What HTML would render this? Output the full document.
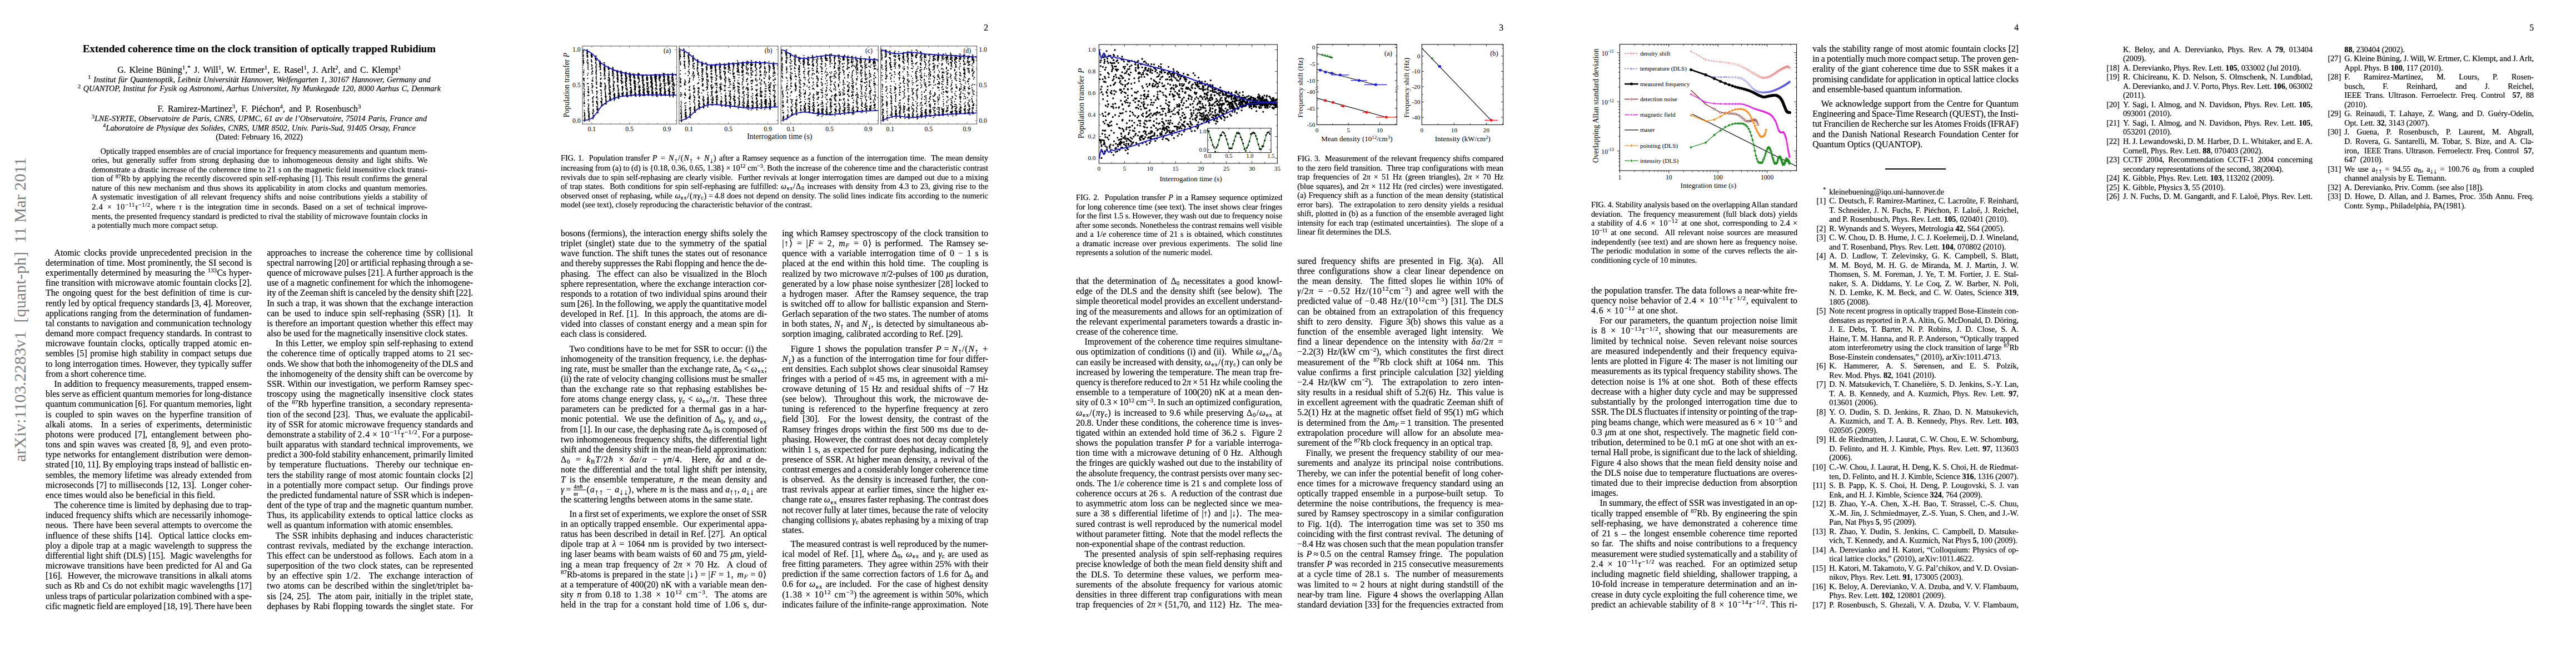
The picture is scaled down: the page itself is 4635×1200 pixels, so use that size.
<!DOCTYPE html>
<html><head><meta charset="utf-8"><title>arXiv 1103.2283</title>
<style>
html,body{margin:0;padding:0;background:#fff}
body{width:4635px;height:1200px;position:relative;overflow:hidden;font-family:"Liberation Serif",serif;color:#000}
.b{position:absolute}
.b,.t{filter:grayscale(1);-webkit-text-stroke:0.18px #000}
.b p{margin:0;white-space:nowrap;height:var(--h)}
.j{text-align:justify;text-align-last:justify}
.e{text-align:left}
.i{text-indent:15.5px}
.rf p{position:relative}
.lb{position:absolute;right:100%;margin-right:6.2px;text-indent:0;word-spacing:0}
.t{position:absolute;white-space:nowrap}
sup,sub{font-size:70%;line-height:0;position:relative;vertical-align:baseline}
sup{top:-0.52em}
sub{top:0.2em}
sup.r{top:-0.5em;font-size:74%}
.wm{position:absolute;font-size:30.3px;line-height:30px;color:#7f7f7f;white-space:nowrap;transform-origin:0 0;transform:rotate(-90deg) translate(0,-100%)}
.fr{display:inline-block;position:relative;height:0;vertical-align:baseline;margin:0 1.5px}
.fr span{position:absolute;left:0;right:0;text-align:center;font-size:70%;line-height:1}
.fr .n{bottom:0.38em;border-bottom:0.8px solid #000;padding-bottom:0.5px}
.fr .d{top:-0.32em}
.m{letter-spacing:0.9px}
.nb{position:relative}
.nb:before{content:"";position:absolute;left:18%;right:2%;top:0.36em;border-top:0.8px solid #000}
sub.a{font-size:92%;top:0.28em;margin:0 -0.5px}
svg{position:absolute;overflow:visible}
svg text{font-family:"Liberation Serif",serif}
</style></head>
<body>
<div class="wm" style="left:51.3px;top:830.5px;">arXiv:1103.2283v1&nbsp; [quant-ph]&nbsp; 11 Mar 2011</div>
<div class="t " style="left:66.50px;width:800px;text-align:center;top:76.83px;font-size:18.85px;line-height:22.62px;"><b>Extended coherence time on the clock transition of optically trapped Rubidium</b></div>
<div class="t " style="left:66.50px;width:800px;text-align:center;top:116.69px;font-size:15.80px;line-height:18.96px;word-spacing:2.35px">G. Kleine B&uuml;ning<sup>1</sup>,<sup>*</sup> J. Will<sup>1</sup>, W. Ertmer<sup>1</sup>, E. Rasel<sup>1</sup>, J. Arlt<sup>2</sup>, and C. Klempt<sup>1</sup></div>
<div class="t " style="left:66.50px;width:800px;text-align:center;top:134.69px;font-size:14.20px;line-height:17.04px;word-spacing:1.05px"><sup class="r">1</sup> <i>Institut f&uuml;r Quantenoptik, Leibniz Universit&auml;t Hannover, Welfengarten 1, 30167 Hannover, Germany and</i></div>
<div class="t " style="left:66.50px;width:800px;text-align:center;top:151.19px;font-size:14.20px;line-height:17.04px;word-spacing:1.05px"><sup class="r">2</sup> <i>QUANTOP, Institut for Fysik og Astronomi, Aarhus Universitet, Ny Munkegade 120, 8000 Aarhus C, Denmark</i></div>
<div class="t " style="left:66.50px;width:800px;text-align:center;top:187.19px;font-size:15.80px;line-height:18.96px;word-spacing:3.0px">F. Ramirez-Martinez<sup>3</sup>, F. Pi&eacute;chon<sup>4</sup>, and P. Rosenbusch<sup>3</sup></div>
<div class="t " style="left:66.50px;width:800px;text-align:center;top:205.19px;font-size:14.20px;line-height:17.04px;word-spacing:1.05px"><sup class="r">3</sup><i>LNE-SYRTE, Observatoire de Paris, CNRS, UPMC, 61 av de l&rsquo;Observatoire, 75014 Paris, France and</i></div>
<div class="t " style="left:66.50px;width:800px;text-align:center;top:221.69px;font-size:14.20px;line-height:17.04px;word-spacing:1.05px"><sup class="r">4</sup><i>Laboratoire de Physique des Solides, CNRS, UMR 8502, Univ. Paris-Sud, 91405 Orsay, France</i></div>
<div class="t " style="left:66.50px;width:800px;text-align:center;top:238.19px;font-size:14.20px;line-height:17.04px;word-spacing:0.45px">(Dated: February 16, 2022)</div>
<div class="b ab" style="left:165.30px;top:263.86px;width:603.70px;font-size:14.20px;line-height:16.50px;--h:16.50px">
<p class="j i" id="L1">Optically trapped ensembles are of crucial importance for frequency measurements and quantum mem-</p>
<p class="j" id="L2">ories, but generally suffer from strong dephasing due to inhomogeneous density and light shifts. We</p>
<p class="j" id="L3">demonstrate a drastic increase of the coherence time to <span class="m">21</span> s on the magnetic field insensitive clock transi-</p>
<p class="j" id="L4">tion of <sup>87</sup>Rb by applying the recently discovered spin self-rephasing [1]. This result confirms the general</p>
<p class="j" id="L5">nature of this new mechanism and thus shows its applicability in atom clocks and quantum memories.</p>
<p class="j" id="L6">A systematic investigation of all relevant frequency shifts and noise contributions yields a stability of</p>
<p class="j" id="L7" style="margin-top:1.20px"><span class="m">2.4 &times; 10<sup>&minus;11</sup><i>&tau;</i><sup>&minus;1/2</sup></span>, where <i>&tau;</i> is the integration time in seconds. Based on a set of technical improve-</p>
<p class="j" id="L8">ments, the presented frequency standard is predicted to rival the stability of microwave fountain clocks in</p>
<p class="e" id="L9">a potentially much more compact setup.</p>
</div>
<div class="b " style="left:82.00px;top:445.78px;width:371.00px;font-size:15.80px;line-height:18.18px;--h:18.18px">
<p class="j i" id="L10">Atomic clocks provide unprecedented precision in the</p>
<p class="j" id="L11">determination of time. Most prominently, the SI second is</p>
<p class="j" id="L12">experimentally determined by measuring the <sup>133</sup>Cs hyper-</p>
<p class="j" id="L13">fine transition with microwave atomic fountain clocks [2].</p>
<p class="j" id="L14">The ongoing quest for the best definition of time is cur-</p>
<p class="j" id="L15">rently led by optical frequency standards [3, 4]. Moreover,</p>
<p class="j" id="L16">applications ranging from the determination of fundamen-</p>
<p class="j" id="L17">tal constants to navigation and communication technology</p>
<p class="j" id="L18">demand more compact frequency standards. In contrast to</p>
<p class="j" id="L19">microwave fountain clocks, optically trapped atomic en-</p>
<p class="j" id="L20">sembles [5] promise high stability in compact setups due</p>
<p class="j" id="L21">to long interrogation times. However, they typically suffer</p>
<p class="e" id="L22">from a short coherence time.</p>
<p class="j i" id="L23">In addition to frequency measurements, trapped ensem-</p>
<p class="j" id="L24" style="word-spacing:-0.37px">bles serve as efficient quantum memories for long-distance</p>
<p class="j" id="L25" style="word-spacing:-0.27px">quantum communication [6]. For quantum memories, light</p>
<p class="j" id="L26">is coupled to spin waves on the hyperfine transition of</p>
<p class="j" id="L27">alkali atoms.&nbsp; In a series of experiments, deterministic</p>
<p class="j" id="L28">photons were produced [7], entanglement between pho-</p>
<p class="j" id="L29">tons and spin waves was created [8, 9], and even proto-</p>
<p class="j" id="L30">type networks for entanglement distribution were demon-</p>
<p class="j" id="L31" style="word-spacing:-0.16px">strated [10, 11]. By employing traps instead of ballistic en-</p>
<p class="j" id="L32">sembles, the memory lifetime was already extended from</p>
<p class="j" id="L33">microseconds [7] to milliseconds [12, 13].&nbsp; Longer coher-</p>
<p class="e" id="L34">ence times would also be beneficial in this field.</p>
<p class="j i" id="L35">The coherence time is limited by dephasing due to trap-</p>
<p class="j" id="L36">induced frequency shifts which are necessarily inhomoge-</p>
<p class="j" id="L37">neous.&nbsp; There have been several attempts to overcome the</p>
<p class="j" id="L38">influence of these shifts [14].&nbsp; Optical lattice clocks em-</p>
<p class="j" id="L39">ploy a dipole trap at a magic wavelength to suppress the</p>
<p class="j" id="L40">differential light shift (DLS) [15].&nbsp; Magic wavelengths for</p>
<p class="j" id="L41">microwave transitions have been predicted for Al and Ga</p>
<p class="j" id="L42">[16].&nbsp; However, the microwave transitions in alkali atoms</p>
<p class="j" id="L43">such as Rb and Cs do not exhibit magic wavelengths [17]</p>
<p class="j" id="L44" style="word-spacing:-0.53px">unless traps of particular polarization combined with a spe-</p>
<p class="j" id="L45" style="word-spacing:-0.87px">cific magnetic field are employed [18, 19]. There have been</p>
</div>
<div class="b " style="left:480.30px;top:445.78px;width:370.80px;font-size:15.80px;line-height:18.18px;--h:18.18px">
<p class="j" id="L46">approaches to increase the coherence time by collisional</p>
<p class="j" id="L47" style="word-spacing:-0.53px">spectral narrowing [20] or artificial rephasing through a se-</p>
<p class="j" id="L48" style="word-spacing:-0.37px">quence of microwave pulses [21]. A further approach is the</p>
<p class="j" id="L49">use of a magnetic confinement for which the inhomogene-</p>
<p class="j" id="L50" style="word-spacing:-0.54px">ity of the Zeeman shift is canceled by the density shift [22].</p>
<p class="j" id="L51">In such a trap, it was shown that the exchange interaction</p>
<p class="j" id="L52">can be used to induce spin self-rephasing (SSR) [1].&nbsp; It</p>
<p class="j" id="L53">is therefore an important question whether this effect may</p>
<p class="e" id="L54">also be used for the magnetically insensitive clock states.</p>
<p class="j i" id="L55">In this Letter, we employ spin self-rephasing to extend</p>
<p class="j" id="L56">the coherence time of optically trapped atoms to 21 sec-</p>
<p class="j" id="L57" style="word-spacing:-0.76px">onds. We show that both the inhomogeneity of the DLS and</p>
<p class="j" id="L58">the inhomogeneity of the density shift can be overcome by</p>
<p class="j" id="L59">SSR. Within our investigation, we perform Ramsey spec-</p>
<p class="j" id="L60">troscopy using the magnetically insensitive clock states</p>
<p class="j" id="L61">of the <sup>87</sup>Rb hyperfine transition, a secondary representa-</p>
<p class="j" id="L62">tion of the second [23].&nbsp; Thus, we evaluate the applicabil-</p>
<p class="j" id="L63">ity of SSR for atomic microwave frequency standards and</p>
<p class="j" id="L64" style="word-spacing:-0.26px">demonstrate a stability of <span class="m">2.4&thinsp;&times;&thinsp;10<sup>&minus;11</sup><i>&tau;</i><sup>&minus;1/2</sup></span>. For a purpose-</p>
<p class="j" id="L65">built apparatus with standard technical improvements, we</p>
<p class="j" id="L66">predict a 300-fold stability enhancement, primarily limited</p>
<p class="j" id="L67">by temperature fluctuations.&nbsp; Thereby our technique en-</p>
<p class="j" id="L68">ters the stability range of most atomic fountain clocks [2]</p>
<p class="j" id="L69">in a potentially more compact setup.&nbsp; Our findings prove</p>
<p class="j" id="L70" style="word-spacing:-0.42px">the predicted fundamental nature of SSR which is indepen-</p>
<p class="j" id="L71">dent of the type of trap and the magnetic quantum number.</p>
<p class="j" id="L72">Thus, its applicability extends to optical lattice clocks as</p>
<p class="e" id="L73">well as quantum information with atomic ensembles.</p>
<p class="j i" id="L74">The SSR inhibits dephasing and induces characteristic</p>
<p class="j" id="L75">contrast revivals, mediated by the exchange interaction.</p>
<p class="j" id="L76">This effect can be understood as follows.&nbsp; Each atom in a</p>
<p class="j" id="L77">superposition of the two clock states, can be represented</p>
<p class="j" id="L78">by an effective spin <span class="m">1/2</span>.&nbsp; The exchange interaction of</p>
<p class="j" id="L79">two atoms can be described within the singlet/triplet ba-</p>
<p class="j" id="L80">sis [24, 25].&nbsp; The atom pair, initially in the triplet state,</p>
<p class="j" id="L81">dephases by Rabi flopping towards the singlet state.&nbsp; For</p>
</div>
<div class="t " style="left:1378.20px;width:400px;text-align:right;top:40.59px;font-size:15.80px;line-height:18.96px;">2</div>
<svg style="left:927px;top:0" width="927" height="260">
<path d="M123.9,173.8h.01M125.1,211.9h.01M124.7,186.0h.01M122.3,102.2h.01M123.1,109.9h.01M125.7,212.4h.01M122.1,89.9h.01M124.9,205.6h.01M123.9,208.8h.01M123.9,145.4h.01M123.3,129.9h.01M122.6,113.2h.01M122.4,116.8h.01M123.6,125.9h.01M123.3,158.5h.01M124.1,141.4h.01M125.0,207.4h.01M124.3,202.0h.01M124.1,164.6h.01M124.8,217.0h.01M122.5,129.7h.01M122.5,90.0h.01M123.5,168.1h.01M122.2,92.0h.01M121.6,96.4h.01M123.9,152.4h.01M123.5,143.7h.01M125.0,213.9h.01M123.9,183.4h.01M122.9,141.1h.01M123.3,151.0h.01M122.3,107.9h.01M122.4,92.8h.01M122.8,105.1h.01M123.7,176.6h.01M122.8,111.4h.01M123.2,129.2h.01M121.5,94.3h.01M125.0,204.0h.01M122.6,98.7h.01M122.5,98.7h.01M124.9,204.3h.01M123.7,158.7h.01M124.5,190.8h.01M124.2,190.8h.01M124.5,180.2h.01M121.7,99.7h.01M123.4,149.9h.01M123.7,169.3h.01M125.4,215.3h.01M123.2,110.3h.01M123.6,186.9h.01M122.2,100.9h.01M123.2,130.6h.01M123.2,112.0h.01M122.7,99.1h.01M124.4,198.5h.01M123.1,142.5h.01M125.2,215.7h.01M123.6,170.6h.01M124.8,161.3h.01M124.5,171.5h.01M123.5,168.0h.01M122.4,107.6h.01M123.1,140.7h.01M123.1,114.2h.01M123.2,134.4h.01M122.0,94.7h.01M125.4,214.3h.01M122.7,99.6h.01M124.3,184.7h.01M122.7,112.7h.01M125.0,206.5h.01M124.4,165.5h.01M121.7,91.2h.01M124.9,217.8h.01M125.2,208.6h.01M124.9,206.0h.01M124.2,169.2h.01M121.7,109.3h.01M122.3,91.2h.01M124.9,208.8h.01M124.0,155.0h.01M122.2,89.7h.01M131.1,131.7h.01M131.9,166.9h.01M131.1,195.8h.01M130.2,100.8h.01M129.2,95.3h.01M130.8,117.9h.01M132.2,208.1h.01M132.8,204.4h.01M132.4,195.4h.01M130.5,93.6h.01M132.9,213.1h.01M132.2,208.9h.01M132.5,209.8h.01M131.6,161.3h.01M133.5,205.1h.01M129.6,92.8h.01M129.2,94.8h.01M129.5,99.2h.01M130.4,94.5h.01M130.3,107.5h.01M129.7,102.0h.01M130.4,141.2h.01M129.2,100.7h.01M132.0,191.0h.01M130.0,94.2h.01M131.0,199.3h.01M129.4,91.0h.01M129.7,91.2h.01M133.7,217.6h.01M131.4,160.6h.01M131.9,208.2h.01M132.2,165.0h.01M131.3,171.3h.01M130.3,102.7h.01M131.5,186.9h.01M129.0,96.0h.01M132.7,204.2h.01M132.4,210.4h.01M133.1,201.3h.01M129.5,89.3h.01M130.2,102.4h.01M129.8,150.7h.01M130.4,109.4h.01M132.3,189.2h.01M131.8,214.4h.01M131.2,120.4h.01M132.7,207.9h.01M132.3,201.1h.01M129.8,92.8h.01M132.1,197.6h.01M133.3,210.6h.01M130.1,108.4h.01M130.7,165.0h.01M132.6,171.5h.01M132.0,161.8h.01M129.2,111.7h.01M131.7,193.4h.01M131.3,181.4h.01M132.5,200.8h.01M132.5,188.9h.01M130.7,122.5h.01M131.8,202.5h.01M132.3,205.8h.01M133.1,208.5h.01M129.9,98.9h.01M130.4,92.8h.01M131.5,156.0h.01M130.5,103.2h.01M131.5,150.2h.01M132.6,211.3h.01M131.3,115.4h.01M130.3,114.1h.01M130.7,172.2h.01M131.7,179.1h.01M130.1,96.6h.01M130.2,135.0h.01M130.4,101.0h.01M132.1,167.3h.01M132.4,209.5h.01M131.3,166.0h.01M131.5,125.2h.01M131.6,158.3h.01M130.2,100.2h.01M131.0,113.0h.01M138.8,121.9h.01M137.7,150.5h.01M139.6,175.8h.01M138.6,151.1h.01M137.0,101.0h.01M140.1,207.9h.01M140.7,207.7h.01M140.5,199.6h.01M137.9,130.0h.01M139.0,142.4h.01M137.6,100.5h.01M137.4,102.9h.01M137.2,100.1h.01M138.7,157.0h.01M137.4,98.0h.01M137.9,97.9h.01M140.2,199.9h.01M139.4,132.6h.01M137.3,96.7h.01M139.6,183.9h.01M137.4,133.3h.01M138.9,128.4h.01M137.7,119.2h.01M139.5,145.0h.01M139.7,155.4h.01M139.2,176.1h.01M139.2,127.3h.01M140.6,211.5h.01M140.6,196.3h.01M137.3,109.5h.01M136.9,101.1h.01M137.4,99.7h.01M140.5,210.8h.01M140.3,204.2h.01M137.7,124.3h.01M139.9,211.4h.01M138.4,101.1h.01M138.4,154.2h.01M138.6,158.2h.01M140.7,209.0h.01M136.4,98.5h.01M138.5,122.9h.01M139.6,139.3h.01M137.1,107.3h.01M137.4,101.3h.01M138.5,118.0h.01M139.5,204.6h.01M140.4,207.7h.01M140.1,181.5h.01M139.5,178.4h.01M139.3,176.6h.01M140.4,188.2h.01M140.2,191.2h.01M139.2,182.7h.01M137.9,110.8h.01M136.8,109.9h.01M140.1,184.6h.01M137.6,111.5h.01M141.4,200.1h.01M139.2,146.0h.01M138.0,103.3h.01M140.2,202.8h.01M137.9,100.0h.01M138.2,162.5h.01M137.6,95.9h.01M140.7,208.3h.01M138.9,167.1h.01M139.6,213.6h.01M138.5,101.9h.01M140.8,174.0h.01M139.4,167.3h.01M139.6,154.1h.01M141.3,210.1h.01M138.3,158.2h.01M138.4,123.5h.01M139.1,164.2h.01M140.1,197.9h.01M138.2,150.9h.01M139.3,128.5h.01M137.4,116.0h.01M138.4,145.1h.01M139.3,203.6h.01M136.8,100.5h.01M140.0,188.6h.01M144.6,104.8h.01M147.0,163.8h.01M148.0,186.0h.01M146.5,152.1h.01M144.5,107.4h.01M146.9,181.8h.01M145.8,134.2h.01M147.2,163.8h.01M145.7,133.6h.01M147.1,182.3h.01M145.6,130.0h.01M146.9,169.4h.01M146.2,164.7h.01M147.4,164.9h.01M145.5,119.7h.01M147.8,193.9h.01M146.1,108.9h.01M146.1,137.2h.01M145.0,120.9h.01M145.7,105.9h.01M145.7,117.7h.01M147.1,184.6h.01M147.2,173.3h.01M145.7,106.5h.01M145.4,107.9h.01M145.8,121.8h.01M148.1,195.1h.01M146.6,158.9h.01M148.7,196.2h.01M148.3,178.4h.01M147.0,182.4h.01M146.4,145.7h.01M147.3,185.8h.01M145.4,140.7h.01M145.6,128.4h.01M146.3,175.5h.01M145.9,175.0h.01M144.6,112.4h.01M146.2,150.3h.01M146.9,185.9h.01M144.0,104.4h.01M145.5,108.6h.01M145.3,121.2h.01M145.7,157.1h.01M148.4,203.0h.01M144.2,105.8h.01M145.3,114.4h.01M145.7,126.2h.01M146.9,148.9h.01M144.8,113.3h.01M146.2,127.3h.01M144.8,111.6h.01M146.2,116.5h.01M147.8,195.4h.01M145.1,129.8h.01M146.0,142.7h.01M145.8,124.5h.01M145.3,147.7h.01M148.2,188.7h.01M145.3,101.1h.01M147.8,197.0h.01M147.9,198.2h.01M148.3,187.4h.01M145.3,100.4h.01M146.5,192.1h.01M146.8,168.3h.01M147.0,197.0h.01M144.6,106.4h.01M148.3,195.4h.01M149.0,201.8h.01M145.7,101.2h.01M145.8,139.5h.01M144.5,105.4h.01M147.8,183.3h.01M148.5,197.7h.01M147.7,195.4h.01M146.1,183.0h.01M148.0,165.8h.01M147.3,176.0h.01M147.5,185.8h.01M148.3,191.2h.01M147.6,194.2h.01M145.6,131.8h.01M146.8,157.7h.01M154.3,135.9h.01M155.6,179.6h.01M152.3,113.2h.01M153.6,121.6h.01M155.0,184.3h.01M153.4,130.5h.01M154.2,142.2h.01M156.5,178.7h.01M153.8,131.9h.01M151.8,114.1h.01M154.1,149.5h.01M153.1,121.9h.01M152.3,113.9h.01M153.3,155.1h.01M156.3,187.9h.01M154.8,167.5h.01M154.9,171.5h.01M152.7,154.6h.01M153.7,150.7h.01M155.5,181.8h.01M154.8,154.9h.01M155.5,188.9h.01M154.2,132.1h.01M153.1,111.5h.01M154.2,154.1h.01M154.0,162.2h.01M152.5,125.6h.01M154.7,184.4h.01M155.1,163.6h.01M153.2,121.0h.01M154.6,155.0h.01M154.7,166.7h.01M154.6,151.4h.01M152.7,116.7h.01M153.8,114.9h.01M154.8,150.0h.01M155.4,150.6h.01M153.4,147.8h.01M153.1,115.9h.01M155.9,183.6h.01M156.4,187.4h.01M151.6,111.1h.01M152.9,114.2h.01M152.8,110.6h.01M155.3,175.8h.01M156.3,179.1h.01M152.1,113.0h.01M154.0,124.7h.01M153.2,115.6h.01M153.4,162.0h.01M155.3,186.1h.01M152.3,117.0h.01M152.9,116.8h.01M154.5,161.9h.01M154.1,156.0h.01M155.5,190.3h.01M153.2,151.3h.01M151.4,119.8h.01M153.4,141.6h.01M156.2,183.7h.01M154.9,176.8h.01M152.2,111.6h.01M155.5,182.4h.01M154.3,113.8h.01M155.2,190.2h.01M151.9,114.7h.01M155.2,176.1h.01M153.7,113.1h.01M153.9,142.8h.01M155.0,168.3h.01M154.7,140.6h.01M153.3,118.1h.01M152.3,109.6h.01M153.7,135.1h.01M152.8,113.0h.01M153.3,122.1h.01M153.2,124.4h.01M153.7,182.6h.01M153.5,124.4h.01M154.2,156.2h.01M153.6,118.6h.01M152.1,115.6h.01M153.7,118.2h.01M154.6,172.1h.01M160.8,116.1h.01M160.5,133.0h.01M163.6,180.7h.01M161.0,132.8h.01M162.1,163.9h.01M163.5,179.9h.01M162.5,187.1h.01M160.5,119.3h.01M161.6,150.8h.01M162.0,173.7h.01M162.2,154.1h.01M161.6,151.8h.01M160.7,126.4h.01M160.1,122.1h.01M160.5,128.2h.01M162.7,156.0h.01M160.7,122.9h.01M160.9,119.5h.01M160.6,149.7h.01M160.7,122.5h.01M160.5,115.6h.01M163.8,187.2h.01M161.9,156.6h.01M160.7,123.5h.01M162.3,174.0h.01M160.4,115.8h.01M161.4,124.0h.01M163.1,179.1h.01M163.7,185.8h.01M162.4,166.1h.01M160.6,112.9h.01M161.2,131.4h.01M160.5,119.9h.01M161.2,125.0h.01M160.4,124.7h.01M159.7,134.5h.01M162.6,173.2h.01M160.3,142.2h.01M159.9,117.2h.01M163.6,182.7h.01M160.5,130.3h.01M161.5,161.5h.01M160.9,132.9h.01M162.7,154.2h.01M162.9,154.2h.01M162.2,167.0h.01M162.5,171.5h.01M159.6,123.8h.01M161.1,128.1h.01M162.1,166.4h.01M163.8,182.2h.01M163.0,180.8h.01M162.8,176.2h.01M162.0,127.6h.01M160.2,121.9h.01M163.9,173.9h.01M160.2,127.0h.01M160.8,119.8h.01M162.6,159.5h.01M163.2,179.6h.01M162.6,168.4h.01M161.9,136.2h.01M161.1,121.6h.01M160.0,117.6h.01M163.5,182.3h.01M163.8,182.6h.01M160.3,126.0h.01M163.3,182.2h.01M162.0,141.7h.01M160.8,130.9h.01M161.0,161.1h.01M160.0,120.9h.01M161.3,139.6h.01M161.5,122.4h.01M162.6,170.1h.01M161.8,156.0h.01M162.9,175.5h.01M163.4,182.5h.01M160.8,133.4h.01M160.5,136.9h.01M163.4,178.2h.01M161.4,158.3h.01M160.8,121.5h.01M159.5,112.9h.01M169.2,124.4h.01M170.7,178.7h.01M167.8,123.4h.01M171.0,168.5h.01M167.8,139.9h.01M171.6,166.7h.01M168.4,136.4h.01M169.5,162.3h.01M171.9,181.2h.01M169.1,157.2h.01M167.3,143.8h.01M168.6,149.8h.01M171.4,170.3h.01M167.4,121.2h.01M168.6,168.2h.01M170.7,175.1h.01M167.6,122.9h.01M168.8,122.8h.01M168.1,125.4h.01M167.9,122.4h.01M169.8,141.9h.01M170.6,168.8h.01M168.5,132.0h.01M168.1,123.3h.01M170.4,164.2h.01M170.3,173.2h.01M169.5,145.2h.01M167.8,123.7h.01M168.8,169.5h.01M169.0,168.4h.01M168.8,151.8h.01M170.9,179.0h.01M169.5,142.2h.01M169.2,151.6h.01M167.9,122.6h.01M169.9,168.0h.01M170.8,165.3h.01M170.2,180.1h.01M168.5,132.7h.01M172.1,178.4h.01M170.1,165.6h.01M168.9,135.6h.01M168.4,147.8h.01M170.7,165.3h.01M168.1,139.0h.01M170.8,155.2h.01M170.1,143.3h.01M169.8,141.9h.01M171.2,157.1h.01M170.0,146.7h.01M168.7,159.1h.01M169.3,140.7h.01M171.0,169.9h.01M168.7,129.2h.01M170.0,178.3h.01M168.9,148.0h.01M170.9,179.8h.01M170.1,174.1h.01M167.8,144.8h.01M171.3,174.7h.01M169.4,161.4h.01M167.8,123.6h.01M170.4,160.9h.01M167.9,120.8h.01M169.4,142.8h.01M169.0,129.5h.01M168.6,129.1h.01M168.6,135.4h.01M169.6,163.1h.01M170.5,176.1h.01M171.4,175.9h.01M169.0,133.7h.01M169.4,156.3h.01M167.5,120.0h.01M169.0,153.9h.01M171.0,176.0h.01M167.9,124.7h.01M170.5,163.3h.01M169.7,153.9h.01M168.6,139.2h.01M170.0,172.9h.01M168.8,122.8h.01M170.8,177.4h.01M167.4,122.9h.01M177.0,152.6h.01M176.2,131.7h.01M178.6,177.5h.01M175.5,135.7h.01M175.8,130.8h.01M175.1,129.5h.01M178.5,175.5h.01M176.7,133.7h.01M178.6,169.9h.01M179.0,171.8h.01M178.9,176.4h.01M176.0,129.7h.01M175.2,125.8h.01M177.8,137.9h.01M179.2,169.0h.01M178.5,175.1h.01M175.2,132.1h.01M178.1,159.5h.01M179.6,178.4h.01M179.0,173.6h.01M178.3,177.1h.01M179.0,169.9h.01M178.6,175.3h.01M177.2,138.6h.01M175.6,123.3h.01M178.1,174.3h.01M175.4,131.7h.01M177.8,159.0h.01M179.1,175.7h.01M177.3,147.3h.01M177.7,147.1h.01M178.5,177.9h.01M176.2,142.0h.01M178.6,171.0h.01M178.6,177.7h.01M176.4,154.8h.01M176.6,159.5h.01M175.6,127.7h.01M178.4,167.7h.01M175.7,120.8h.01M175.1,128.6h.01M178.3,173.8h.01M177.8,149.1h.01M178.0,174.3h.01M178.0,170.3h.01M174.8,136.2h.01M175.7,132.3h.01M176.5,151.2h.01M175.4,123.4h.01M177.1,154.2h.01M177.7,169.7h.01M177.3,160.1h.01M177.2,161.5h.01M176.2,135.5h.01M175.9,126.2h.01M178.5,177.9h.01M176.0,122.7h.01M177.4,156.6h.01M175.8,128.6h.01M178.2,180.7h.01M175.3,134.9h.01M178.1,126.8h.01M177.2,170.8h.01M177.8,163.0h.01M178.8,176.2h.01M178.4,172.0h.01M175.9,126.3h.01M175.5,123.2h.01M177.8,169.7h.01M179.1,171.3h.01M175.3,127.2h.01M177.9,171.9h.01M175.4,123.5h.01M175.8,165.1h.01M177.6,176.5h.01M176.8,159.9h.01M178.7,176.9h.01M178.5,147.3h.01M176.5,152.0h.01M178.1,178.3h.01M176.8,155.3h.01M177.0,161.8h.01M176.5,145.4h.01M176.8,139.8h.01M187.1,169.7h.01M184.0,134.9h.01M185.2,171.6h.01M183.2,127.7h.01M185.2,142.1h.01M183.9,136.2h.01M184.2,153.1h.01M186.2,169.3h.01M186.5,172.5h.01M183.0,130.1h.01M184.2,146.6h.01M185.2,167.4h.01M186.4,171.0h.01M185.2,164.0h.01M186.3,176.9h.01M186.5,172.6h.01M185.6,163.9h.01M185.0,157.2h.01M183.4,128.8h.01M184.3,140.8h.01M185.4,143.4h.01M186.6,174.4h.01M184.4,127.6h.01M184.8,142.3h.01M182.1,128.3h.01M185.2,147.3h.01M184.4,137.5h.01M185.5,162.5h.01M184.1,143.4h.01M185.6,172.0h.01M185.3,171.8h.01M184.6,144.9h.01M184.0,146.8h.01M184.2,131.9h.01M185.5,174.4h.01M183.9,127.0h.01M183.3,140.9h.01M185.1,173.5h.01M183.8,153.4h.01M186.1,161.0h.01M185.7,173.9h.01M186.0,175.3h.01M186.0,170.7h.01M184.1,141.0h.01M183.7,127.6h.01M186.3,175.9h.01M185.6,166.9h.01M185.5,177.2h.01M185.9,167.0h.01M185.9,167.2h.01M184.3,130.3h.01M186.3,168.7h.01M185.1,136.1h.01M184.5,130.1h.01M184.2,155.2h.01M183.5,128.6h.01M184.8,156.6h.01M184.2,143.2h.01M184.8,139.2h.01M185.3,168.1h.01M185.3,159.4h.01M185.7,160.1h.01M186.2,173.9h.01M183.6,139.6h.01M184.4,146.8h.01M183.3,128.7h.01M184.6,147.9h.01M187.0,172.0h.01M183.3,135.3h.01M185.4,172.1h.01M186.2,177.1h.01M185.0,153.6h.01M186.4,167.2h.01M183.5,133.2h.01M184.3,135.2h.01M183.9,142.1h.01M183.8,129.1h.01M184.1,133.6h.01M184.2,147.3h.01M186.9,172.4h.01M184.2,141.0h.01M183.4,130.2h.01M186.5,168.2h.01M183.8,131.0h.01M194.0,171.9h.01M192.2,150.6h.01M192.6,171.4h.01M192.9,159.7h.01M190.5,130.6h.01M191.0,144.5h.01M190.5,130.8h.01M190.8,129.6h.01M191.1,135.9h.01M192.5,146.7h.01M192.0,130.3h.01M192.4,141.2h.01M194.2,165.6h.01M190.1,129.9h.01M191.0,135.2h.01M194.1,166.9h.01M193.4,155.5h.01M191.5,150.5h.01M190.8,132.6h.01M192.7,162.5h.01M191.1,128.8h.01M193.3,170.8h.01M193.7,172.6h.01M191.3,136.1h.01M189.5,127.8h.01M193.8,171.0h.01M191.6,135.7h.01M193.2,157.4h.01M194.1,171.4h.01M193.5,172.6h.01M193.6,148.0h.01M192.0,140.5h.01M192.9,159.3h.01M192.0,136.2h.01M191.8,131.1h.01M192.5,141.1h.01M192.6,146.5h.01M193.3,158.5h.01M192.8,170.1h.01M191.3,133.4h.01M191.5,131.3h.01M191.4,146.8h.01M191.5,168.5h.01M194.1,171.9h.01M194.3,168.1h.01M193.6,173.4h.01M193.0,155.6h.01M192.7,162.9h.01M190.9,147.8h.01M191.3,137.0h.01M190.5,132.6h.01M193.4,170.4h.01M191.2,133.6h.01M189.6,131.3h.01M192.4,135.3h.01M191.2,134.7h.01M193.1,159.0h.01M189.9,144.9h.01M191.4,134.8h.01M193.2,167.3h.01M193.7,168.8h.01M192.7,158.9h.01M192.9,161.5h.01M190.8,138.2h.01M193.5,168.5h.01M193.2,167.6h.01M193.3,168.3h.01M190.4,136.1h.01M191.3,140.7h.01M191.6,131.5h.01M191.8,141.8h.01M190.9,132.5h.01M192.0,142.1h.01M192.2,130.5h.01M191.6,145.7h.01M191.6,142.0h.01M191.6,135.5h.01M191.1,140.4h.01M192.6,157.2h.01M192.0,155.9h.01M191.0,128.3h.01M193.8,157.6h.01M192.5,157.9h.01M192.4,150.0h.01M199.3,133.3h.01M199.8,151.5h.01M201.4,170.6h.01M199.0,132.5h.01M198.3,153.8h.01M199.7,159.1h.01M200.2,145.1h.01M200.4,161.6h.01M201.5,168.6h.01M199.8,155.5h.01M200.2,138.9h.01M200.3,155.1h.01M200.6,161.4h.01M200.1,141.0h.01M198.7,132.1h.01M199.2,148.2h.01M199.1,140.7h.01M199.1,134.1h.01M200.8,167.1h.01M198.8,130.9h.01M198.5,137.8h.01M199.7,154.4h.01M199.4,153.2h.01M198.7,144.8h.01M199.4,133.9h.01M199.1,158.3h.01M200.9,168.1h.01M201.7,172.3h.01M201.2,169.7h.01M199.9,143.4h.01M199.8,141.0h.01M199.3,158.8h.01M199.8,131.2h.01M201.5,158.3h.01M198.7,136.8h.01M199.6,130.2h.01M200.3,159.3h.01M200.3,142.0h.01M198.7,136.2h.01M202.1,166.4h.01M199.5,145.1h.01M199.8,161.4h.01M198.9,141.6h.01M201.8,172.5h.01M198.0,130.9h.01M200.0,136.8h.01M201.5,173.7h.01M202.8,172.9h.01M202.2,162.2h.01M201.0,170.3h.01M198.8,130.1h.01M197.8,133.6h.01M199.8,150.9h.01M198.3,141.5h.01M202.0,169.2h.01M198.1,134.3h.01M198.6,136.2h.01M198.5,149.1h.01M198.7,133.4h.01M200.4,146.7h.01M198.3,147.0h.01M201.4,171.9h.01M200.6,165.5h.01M199.5,170.2h.01M200.5,170.7h.01M201.5,161.3h.01M199.0,150.6h.01M201.3,161.4h.01M200.5,170.5h.01M200.5,171.1h.01M199.9,137.9h.01M200.5,168.4h.01M202.3,174.4h.01M199.6,144.0h.01M198.0,134.8h.01M200.7,173.7h.01M201.1,140.5h.01M199.0,134.6h.01M200.4,151.2h.01M199.1,137.6h.01M201.2,172.4h.01M199.7,136.5h.01M198.4,142.1h.01M198.6,130.2h.01M207.9,170.9h.01M208.6,171.9h.01M206.4,165.3h.01M207.8,137.8h.01M206.2,149.9h.01M205.2,134.6h.01M206.8,157.6h.01M207.0,139.9h.01M207.0,135.3h.01M209.4,170.8h.01M207.6,164.9h.01M208.1,145.1h.01M206.0,139.8h.01M206.7,132.2h.01M208.4,164.2h.01M207.4,147.3h.01M207.4,153.3h.01M206.9,141.9h.01M207.4,150.3h.01M209.5,166.4h.01M206.9,143.5h.01M207.5,168.7h.01M208.2,143.5h.01M206.1,134.0h.01M209.0,167.7h.01M207.5,158.1h.01M205.9,131.5h.01M208.9,161.3h.01M209.2,161.4h.01M208.2,165.5h.01M209.4,172.1h.01M206.2,133.7h.01M208.6,158.8h.01M208.6,164.1h.01M208.6,158.1h.01M207.7,164.1h.01M208.3,160.8h.01M207.6,144.6h.01M208.2,165.5h.01M208.1,166.0h.01M209.2,162.4h.01M208.2,162.4h.01M208.2,170.8h.01M208.4,169.9h.01M205.7,132.3h.01M208.0,152.9h.01M207.5,143.7h.01M208.5,163.3h.01M206.0,132.3h.01M207.8,151.4h.01M209.1,162.2h.01M205.2,137.5h.01M206.8,149.4h.01M207.8,143.7h.01M208.8,167.4h.01M207.1,144.8h.01M208.9,171.7h.01M207.1,140.1h.01M206.9,143.4h.01M207.7,146.9h.01M208.4,170.6h.01M209.4,172.3h.01M209.1,163.5h.01M206.4,139.0h.01M208.2,172.5h.01M207.9,167.8h.01M206.9,165.7h.01M208.7,170.4h.01M209.2,167.7h.01M207.5,153.9h.01M209.2,162.7h.01M206.2,137.6h.01M207.0,136.9h.01M209.1,165.1h.01M206.6,142.6h.01M208.1,135.6h.01M207.4,146.4h.01M206.2,135.7h.01M208.4,152.0h.01M208.2,157.0h.01M205.6,131.5h.01M205.6,144.0h.01M208.8,165.0h.01M209.7,165.3h.01M216.7,171.6h.01M215.6,161.8h.01M214.5,137.6h.01M214.3,160.8h.01M213.6,134.0h.01M214.4,133.7h.01M216.5,168.8h.01M212.3,133.3h.01M216.4,171.8h.01M215.8,158.5h.01M212.3,132.6h.01M213.8,136.5h.01M216.1,169.0h.01M216.0,161.8h.01M214.6,154.8h.01M216.4,171.2h.01M213.6,138.0h.01M214.7,151.1h.01M213.5,134.8h.01M216.7,152.5h.01M214.4,140.5h.01M213.8,137.2h.01M216.0,170.9h.01M215.3,164.5h.01M216.1,160.2h.01M215.8,159.0h.01M215.2,156.3h.01M214.9,141.2h.01M216.4,169.6h.01M213.1,136.7h.01M213.6,148.1h.01M214.6,144.9h.01M213.8,134.6h.01M213.9,138.1h.01M215.6,167.0h.01M215.4,162.1h.01M214.8,145.6h.01M215.0,159.7h.01M214.1,146.3h.01M215.1,134.8h.01M215.8,157.9h.01M216.8,155.3h.01M213.0,139.4h.01M216.8,156.6h.01M216.5,167.5h.01M215.0,146.1h.01M216.3,161.6h.01M216.0,168.0h.01M215.9,165.3h.01M214.9,154.4h.01M214.7,148.5h.01M216.6,169.8h.01M214.4,135.2h.01M214.4,154.1h.01M213.3,139.2h.01M215.9,172.4h.01M216.2,158.8h.01M212.4,135.6h.01M215.4,161.7h.01M215.7,161.5h.01M213.8,144.3h.01M215.5,140.9h.01M216.1,168.9h.01M215.1,151.5h.01M215.5,158.3h.01M217.3,173.1h.01M215.3,169.0h.01M215.1,158.7h.01M214.9,141.0h.01M214.7,137.8h.01M216.9,168.3h.01M216.4,147.2h.01M216.9,172.1h.01M215.3,154.1h.01M216.3,149.8h.01M215.1,147.6h.01M216.1,146.1h.01M215.5,140.0h.01M214.3,143.8h.01M215.2,156.7h.01M215.1,149.8h.01M213.8,150.0h.01M213.3,136.6h.01M213.5,135.6h.01M222.7,167.6h.01M221.2,136.9h.01M222.7,164.6h.01M223.9,167.3h.01M224.1,163.1h.01M221.8,148.7h.01M221.5,135.2h.01M223.8,164.4h.01M225.0,161.9h.01M222.7,143.2h.01M221.6,152.4h.01M223.5,170.0h.01M223.6,168.7h.01M221.9,163.9h.01M222.5,139.5h.01M220.6,140.9h.01M222.2,141.9h.01M220.9,137.4h.01M221.3,134.2h.01M224.6,170.9h.01M220.8,132.9h.01M224.6,157.1h.01M223.7,165.0h.01M223.3,145.4h.01M223.8,168.8h.01M221.5,138.7h.01M223.1,155.3h.01M224.2,164.3h.01M223.7,165.4h.01M222.9,146.4h.01M224.5,167.1h.01M223.7,173.4h.01M222.9,163.7h.01M223.1,169.5h.01M221.3,131.9h.01M224.4,168.6h.01M224.2,154.3h.01M225.1,172.0h.01M222.0,140.5h.01M224.7,168.3h.01M221.6,139.7h.01M223.6,159.2h.01M221.5,134.6h.01M221.4,149.3h.01M223.7,171.5h.01M221.7,134.2h.01M223.5,154.8h.01M221.4,135.6h.01M223.3,170.4h.01M221.6,136.9h.01M222.2,138.6h.01M224.3,168.2h.01M224.1,155.0h.01M223.6,166.8h.01M224.1,170.1h.01M220.1,135.4h.01M223.4,157.5h.01M223.2,133.0h.01M223.9,163.1h.01M223.1,142.1h.01M221.0,139.2h.01M220.6,140.5h.01M223.7,166.9h.01M223.1,154.9h.01M222.2,140.2h.01M221.6,135.9h.01M222.9,146.5h.01M220.9,134.3h.01M224.7,157.1h.01M222.4,157.7h.01M224.3,168.5h.01M221.6,140.8h.01M223.5,146.8h.01M221.8,138.7h.01M224.2,165.4h.01M223.4,161.3h.01M221.4,148.3h.01M224.3,170.1h.01M223.5,154.8h.01M222.2,139.4h.01M224.2,168.6h.01M222.5,141.4h.01M224.5,168.1h.01M221.9,156.3h.01M229.5,147.4h.01M231.9,168.5h.01M232.4,170.3h.01M232.0,152.5h.01M229.9,145.3h.01M231.2,153.6h.01M230.1,160.9h.01M229.5,149.7h.01M229.8,141.0h.01M229.4,138.2h.01M229.4,137.3h.01M231.1,161.5h.01M231.1,162.2h.01M231.3,155.4h.01M228.9,134.7h.01M229.6,149.3h.01M229.9,172.1h.01M230.9,168.4h.01M230.7,154.1h.01M229.3,149.0h.01M230.6,166.3h.01M232.7,160.7h.01M232.3,171.8h.01M231.0,167.4h.01M230.1,152.2h.01M230.1,141.0h.01M231.6,167.8h.01M231.4,169.2h.01M232.2,162.8h.01M229.9,136.0h.01M229.1,138.5h.01M229.2,138.0h.01M231.3,170.4h.01M232.3,170.4h.01M229.2,134.8h.01M232.3,168.4h.01M229.3,156.7h.01M230.3,153.2h.01M230.1,165.4h.01M229.3,156.3h.01M230.0,135.5h.01M230.1,153.1h.01M230.1,146.1h.01M230.5,158.0h.01M229.0,143.0h.01M231.6,158.0h.01M229.5,135.4h.01M230.1,140.6h.01M231.5,153.8h.01M229.2,137.6h.01M230.6,137.1h.01M230.9,144.7h.01M231.0,162.3h.01M231.6,169.6h.01M231.4,168.8h.01M228.4,140.2h.01M231.6,159.3h.01M230.6,149.6h.01M231.5,163.5h.01M228.6,135.6h.01M231.8,159.2h.01M231.2,163.9h.01M232.2,166.3h.01M232.1,168.2h.01M228.3,144.9h.01M231.6,163.8h.01M231.4,167.8h.01M230.0,166.3h.01M232.2,167.0h.01M229.7,146.3h.01M231.9,168.0h.01M232.0,168.0h.01M230.8,170.6h.01M230.1,151.1h.01M230.3,162.6h.01M228.9,139.5h.01M231.8,171.4h.01M233.5,171.5h.01M229.3,140.8h.01M231.7,171.1h.01M231.2,165.4h.01M228.4,137.5h.01M232.2,169.4h.01M231.1,143.8h.01M237.2,148.9h.01M239.0,152.3h.01M237.1,135.8h.01M240.4,170.9h.01M236.2,142.1h.01M238.1,139.2h.01M237.3,143.5h.01M239.6,167.5h.01M238.1,150.8h.01M238.1,164.8h.01M237.3,140.0h.01M236.9,135.3h.01M238.9,160.3h.01M238.6,169.8h.01M239.2,149.1h.01M240.5,165.9h.01M238.1,160.4h.01M236.6,142.0h.01M238.2,144.2h.01M238.4,140.9h.01M238.4,155.4h.01M237.9,159.2h.01M238.8,149.0h.01M240.7,164.1h.01M239.8,171.5h.01M237.1,159.9h.01M239.3,169.8h.01M239.3,168.0h.01M239.0,167.9h.01M237.7,155.0h.01M239.4,171.8h.01M237.6,140.3h.01M236.7,139.6h.01M237.2,138.7h.01M238.1,150.5h.01M236.9,150.5h.01M237.6,149.5h.01M238.0,139.6h.01M237.1,142.6h.01M236.5,141.4h.01M234.9,134.6h.01M238.5,164.7h.01M237.1,143.9h.01M237.8,163.8h.01M239.2,164.4h.01M238.4,143.2h.01M239.0,167.6h.01M240.3,168.3h.01M240.1,156.8h.01M236.4,140.0h.01M237.6,140.9h.01M239.8,169.8h.01M238.0,140.5h.01M239.6,159.5h.01M236.9,164.2h.01M236.9,139.2h.01M240.0,168.0h.01M237.9,153.1h.01M238.7,165.2h.01M239.9,171.5h.01M236.6,148.9h.01M239.1,167.5h.01M237.4,137.8h.01M237.1,156.2h.01M237.3,155.9h.01M238.7,161.2h.01M237.7,154.5h.01M239.2,170.6h.01M236.7,136.3h.01M236.9,144.8h.01M236.6,142.7h.01M238.7,164.0h.01M239.8,167.4h.01M238.2,163.2h.01M238.5,163.6h.01M237.7,166.3h.01M236.9,139.7h.01M237.4,144.6h.01M240.1,157.0h.01M237.2,138.2h.01M239.2,168.2h.01M238.0,160.1h.01M237.0,149.1h.01M236.7,139.3h.01M243.6,137.0h.01M246.3,153.8h.01M246.2,145.6h.01M244.6,148.0h.01M246.4,162.3h.01M246.7,151.3h.01M247.9,168.7h.01M245.3,141.1h.01M245.0,137.1h.01M247.2,164.3h.01M245.6,146.8h.01M246.4,170.5h.01M244.8,143.0h.01M245.2,152.5h.01M244.5,141.5h.01M244.9,135.3h.01M244.9,150.1h.01M243.6,155.9h.01M246.6,164.4h.01M248.2,166.2h.01M243.8,147.2h.01M244.0,148.0h.01M243.9,140.1h.01M247.0,159.5h.01M244.6,135.1h.01M246.5,160.8h.01M245.2,141.2h.01M243.8,142.4h.01M244.0,137.9h.01M245.2,162.1h.01M243.8,140.8h.01M247.0,160.8h.01M246.3,145.0h.01M245.4,145.6h.01M244.5,148.9h.01M246.2,167.8h.01M246.4,147.8h.01M245.7,158.3h.01M244.7,148.1h.01M245.9,166.3h.01M247.2,158.5h.01M245.7,155.7h.01M247.4,167.3h.01M245.9,143.5h.01M245.5,148.9h.01M246.0,165.0h.01M246.4,156.8h.01M245.6,145.3h.01M246.5,169.2h.01M244.7,145.9h.01M244.9,154.1h.01M247.5,159.9h.01M245.5,143.5h.01M247.7,172.7h.01M248.0,168.4h.01M246.4,150.5h.01M244.1,142.7h.01M246.8,169.4h.01M246.1,149.8h.01M246.2,141.9h.01M247.0,156.4h.01M245.9,139.7h.01M244.7,135.4h.01M243.5,138.7h.01M244.3,136.6h.01M246.0,150.1h.01M246.5,167.6h.01M243.6,135.4h.01M243.7,136.0h.01M246.8,151.8h.01M245.7,171.3h.01M245.5,157.5h.01M247.0,159.0h.01M246.6,165.8h.01M247.8,167.5h.01M247.0,150.6h.01M243.4,135.3h.01M244.5,135.0h.01M246.0,168.0h.01M247.2,171.4h.01M243.7,135.7h.01M245.5,140.0h.01M244.9,138.2h.01M245.6,145.9h.01M255.1,167.7h.01M254.8,169.4h.01M253.5,146.9h.01M251.5,143.0h.01M254.0,141.5h.01M252.1,159.3h.01M255.8,173.5h.01M254.2,169.9h.01M253.0,142.3h.01M252.6,138.4h.01M254.3,154.6h.01M251.3,137.6h.01M254.0,169.2h.01M254.0,167.5h.01M252.4,162.4h.01M254.6,165.2h.01M253.5,145.4h.01M250.5,139.2h.01M252.4,146.5h.01M251.8,145.5h.01M251.9,142.7h.01M253.2,143.2h.01M254.8,161.1h.01M252.6,152.3h.01M253.8,158.5h.01M256.0,170.6h.01M254.6,169.6h.01M255.3,168.8h.01M253.3,158.0h.01M253.7,151.1h.01M253.1,139.2h.01M254.4,167.2h.01M254.3,138.2h.01M253.1,138.6h.01M251.8,134.0h.01M251.7,142.1h.01M252.9,145.5h.01M254.5,165.3h.01M254.1,136.3h.01M252.5,135.3h.01M253.4,153.9h.01M252.2,135.7h.01M254.8,172.4h.01M253.7,159.1h.01M254.2,172.8h.01M252.9,152.6h.01M254.0,168.3h.01M250.9,134.7h.01M251.6,139.0h.01M253.9,165.7h.01M253.3,153.8h.01M252.9,138.9h.01M253.3,165.8h.01M252.4,138.0h.01M255.0,166.4h.01M254.7,165.4h.01M251.9,137.1h.01M254.4,152.6h.01M253.4,170.7h.01M254.2,165.5h.01M254.1,148.1h.01M254.9,170.4h.01M251.9,134.2h.01M255.0,160.7h.01M253.4,134.0h.01M252.3,137.9h.01M252.8,147.2h.01M252.8,144.4h.01M254.8,166.4h.01M254.3,155.5h.01M251.7,140.0h.01M253.9,140.7h.01M253.2,149.1h.01M254.9,160.2h.01M251.6,141.7h.01M254.7,165.8h.01M254.8,169.2h.01M251.6,135.7h.01M253.5,137.9h.01M252.1,138.0h.01M252.8,167.7h.01M251.3,135.8h.01M253.7,151.2h.01M252.5,140.7h.01M260.5,141.0h.01M261.8,165.1h.01M260.5,159.2h.01M260.0,138.3h.01M261.8,159.3h.01M261.7,136.4h.01M262.1,169.2h.01M259.3,137.8h.01M262.3,159.1h.01M262.6,151.4h.01M260.8,164.1h.01M260.7,147.3h.01M261.7,169.3h.01M260.4,140.5h.01M259.2,137.8h.01M261.5,167.4h.01M259.4,141.4h.01M260.3,154.3h.01M260.6,139.0h.01M262.5,170.6h.01M261.2,164.5h.01M260.6,153.7h.01M263.0,169.0h.01M260.0,160.2h.01M262.3,164.0h.01M259.2,136.9h.01M262.0,150.5h.01M262.1,169.7h.01M261.9,170.0h.01M260.2,154.0h.01M260.2,138.2h.01M261.2,162.1h.01M262.9,171.7h.01M260.6,139.5h.01M259.2,134.0h.01M259.8,160.7h.01M263.1,170.9h.01M259.3,137.1h.01M258.9,139.3h.01M259.6,137.6h.01M262.8,170.3h.01M260.7,156.2h.01M261.8,161.9h.01M261.7,165.5h.01M260.7,144.6h.01M261.5,154.6h.01M260.2,167.6h.01M261.7,160.6h.01M260.0,168.2h.01M259.2,138.5h.01M260.7,154.6h.01M260.2,151.1h.01M259.8,138.7h.01M263.8,157.6h.01M260.0,137.8h.01M259.1,138.3h.01M261.9,162.0h.01M261.7,153.5h.01M258.4,141.8h.01M260.5,155.1h.01M261.8,163.3h.01M259.6,141.3h.01M263.2,170.9h.01M261.9,170.6h.01M260.6,162.7h.01M262.4,172.4h.01M259.0,135.2h.01M259.3,138.1h.01M263.6,157.9h.01M260.8,139.2h.01M259.4,143.2h.01M261.7,163.3h.01M261.9,170.5h.01M262.0,160.1h.01M259.2,140.8h.01M259.4,145.1h.01M260.7,159.6h.01M259.2,135.4h.01M259.3,138.6h.01M261.5,162.4h.01M261.5,138.0h.01M259.1,137.3h.01M262.2,170.6h.01M260.4,139.6h.01M270.7,169.8h.01M268.7,143.7h.01M269.6,167.1h.01M269.0,165.4h.01M269.4,170.2h.01M269.2,165.6h.01M266.6,136.2h.01M270.1,171.0h.01M266.5,135.9h.01M267.5,138.0h.01M268.7,138.0h.01M268.3,159.6h.01M269.6,166.2h.01M268.5,142.1h.01M270.2,170.1h.01M269.4,171.0h.01M269.9,165.5h.01M268.2,143.4h.01M266.6,145.1h.01M266.6,146.1h.01M269.8,169.0h.01M268.7,133.2h.01M268.1,140.2h.01M268.4,152.9h.01M267.4,138.2h.01M268.2,168.5h.01M267.9,134.1h.01M269.7,170.5h.01M266.7,132.6h.01M271.0,164.7h.01M269.2,167.8h.01M268.4,158.5h.01M269.0,160.6h.01M268.9,138.0h.01M268.4,137.3h.01M269.6,160.5h.01M268.9,158.7h.01M267.5,149.8h.01M270.2,168.2h.01M266.5,135.7h.01M266.7,142.8h.01M269.0,152.0h.01M267.6,135.4h.01M268.5,166.1h.01M268.1,155.6h.01M268.7,159.8h.01M270.5,165.1h.01M271.3,149.8h.01M268.5,137.7h.01M268.0,134.3h.01M269.9,164.4h.01M267.1,136.8h.01M268.7,138.9h.01M269.2,162.1h.01M266.5,145.9h.01M270.2,154.2h.01M269.6,153.4h.01M268.8,144.8h.01M267.0,134.7h.01M268.9,149.6h.01M267.6,147.4h.01M269.8,169.3h.01M268.1,139.0h.01M268.3,141.3h.01M269.9,168.2h.01M268.6,157.4h.01M266.6,132.0h.01M267.9,144.7h.01M269.2,163.6h.01M270.3,169.8h.01M267.8,142.9h.01M268.7,149.9h.01M270.5,172.1h.01M268.5,149.7h.01M270.2,168.4h.01M267.3,136.3h.01M268.6,147.2h.01M266.9,137.7h.01M270.1,161.5h.01M268.7,144.1h.01M267.6,132.7h.01M267.1,138.9h.01M268.1,139.1h.01M267.0,138.8h.01M275.4,137.8h.01M277.7,164.6h.01M277.5,167.1h.01M278.3,160.2h.01M274.8,141.3h.01M276.7,147.9h.01M277.0,161.0h.01M277.4,165.4h.01M275.1,162.6h.01M275.3,150.0h.01M277.8,169.1h.01M275.4,151.2h.01M274.5,138.2h.01M274.0,134.0h.01M277.0,166.6h.01M276.6,171.0h.01M277.7,156.4h.01M278.4,149.2h.01M274.6,139.2h.01M278.4,164.5h.01M277.2,167.4h.01M278.5,145.7h.01M277.7,170.5h.01M276.4,147.0h.01M275.6,153.1h.01M278.1,169.9h.01M276.6,143.6h.01M276.0,148.7h.01M277.3,169.3h.01M277.5,170.7h.01M276.7,139.0h.01M276.3,149.8h.01M276.5,168.9h.01M277.4,163.2h.01M276.2,133.7h.01M275.7,141.5h.01M277.5,171.7h.01M277.8,168.9h.01M277.6,160.1h.01M274.9,134.9h.01M274.4,136.7h.01M277.4,170.4h.01M278.3,165.9h.01M276.3,137.6h.01M276.2,159.3h.01M274.8,144.5h.01M276.3,151.7h.01M276.8,162.8h.01M275.6,151.7h.01M277.0,169.6h.01M277.5,171.9h.01M275.0,140.3h.01M277.3,167.9h.01M275.9,163.0h.01M275.4,136.4h.01M275.8,140.1h.01M275.7,163.1h.01M278.4,173.5h.01M277.8,163.7h.01M274.1,142.8h.01M275.4,144.8h.01M278.4,170.9h.01M276.6,164.4h.01M277.6,166.8h.01M274.6,134.1h.01M276.9,170.3h.01M276.8,148.5h.01M276.5,164.7h.01M274.9,145.0h.01M278.0,157.1h.01M275.4,134.6h.01M274.4,147.7h.01M276.4,146.2h.01M277.9,151.2h.01M276.3,143.7h.01M274.7,141.5h.01M275.1,144.2h.01M276.5,163.7h.01M276.6,161.0h.01M274.8,139.0h.01M275.7,149.5h.01M276.2,163.7h.01M275.5,136.5h.01M276.6,140.9h.01M282.9,144.1h.01M283.3,140.5h.01M282.4,137.6h.01M286.0,153.0h.01M285.3,171.3h.01M284.2,143.3h.01M283.0,133.5h.01M282.2,146.4h.01M283.5,146.8h.01M284.1,153.2h.01M283.5,135.6h.01M282.1,134.4h.01M284.1,158.5h.01M285.3,166.4h.01M282.4,134.9h.01M282.9,139.0h.01M283.4,147.4h.01M284.3,160.8h.01M284.4,167.9h.01M284.9,148.2h.01M285.9,154.8h.01M283.9,151.5h.01M283.6,136.5h.01M286.3,165.5h.01M285.7,150.7h.01M285.1,166.3h.01M282.8,132.0h.01M282.8,136.8h.01M283.6,136.7h.01M285.8,169.1h.01M284.5,162.1h.01M284.4,144.7h.01M283.1,136.3h.01M286.2,166.7h.01M282.0,146.1h.01M284.5,134.9h.01M284.6,157.3h.01M285.3,150.1h.01M284.1,163.4h.01M284.3,156.9h.01M282.3,134.0h.01M285.4,171.0h.01M284.4,140.4h.01M282.8,166.1h.01M282.4,144.0h.01M284.1,172.5h.01M285.1,152.7h.01M284.3,142.9h.01M283.8,159.3h.01M284.4,160.6h.01M285.9,169.1h.01M284.4,161.5h.01M284.7,150.9h.01M285.1,170.2h.01M285.8,166.5h.01M283.5,157.5h.01M283.3,135.9h.01M284.7,170.1h.01M285.9,160.5h.01M285.4,170.0h.01M282.8,146.7h.01M282.6,143.4h.01M284.4,168.0h.01M285.3,169.5h.01M282.0,155.2h.01M284.3,168.9h.01M282.9,138.1h.01M286.2,169.1h.01M283.4,140.0h.01M281.7,139.6h.01M284.9,161.9h.01M283.1,151.5h.01M283.2,166.9h.01M283.1,134.1h.01M283.5,134.2h.01M282.9,150.8h.01M282.7,132.7h.01M284.1,170.5h.01M283.6,143.4h.01M284.0,150.8h.01M285.6,166.3h.01M284.3,174.4h.01M281.9,141.4h.01M285.7,161.2h.01M289.3,135.6h.01M290.0,134.6h.01M289.3,134.6h.01M289.4,141.8h.01M290.7,147.0h.01M289.7,152.4h.01" stroke="#000" stroke-width="1.8" stroke-linecap="square" fill="none"/>
<path d="M121.0,89.4L123.9,89.7L126.7,90.5L129.6,91.4L132.5,92.7L135.4,94.6L138.2,96.8L141.1,99.3L144.0,102.3L146.9,105.2L149.7,108.4L152.6,111.6L155.5,114.1L158.4,116.1L161.2,117.9L164.1,119.5L167.0,120.9L169.9,122.3L172.7,123.6L175.6,124.9L178.5,126.1L181.4,127.2L184.2,128.2L187.1,129.2L190.0,130.0L192.9,130.7L195.7,131.4L198.6,132.1L201.5,132.7L204.4,133.1L207.2,133.5L210.1,133.9L213.0,134.2L215.9,134.5L218.7,134.8L221.6,134.9L224.5,135.0L227.4,135.1L230.2,135.1L233.1,135.2L236.0,135.2L238.9,135.2L241.7,135.2L244.6,135.1L247.5,135.0L250.4,134.9L253.2,134.8L256.1,134.7L259.0,134.6L261.9,134.5L264.7,134.5L267.6,134.4L270.5,134.4L273.4,134.3L276.2,134.2L279.1,134.2L282.0,134.1L284.9,134.1L287.7,134.0L290.6,134.0" stroke="#1414c8" stroke-width="1.8" fill="none"/>
<path d="M121.0,216.6L123.9,216.5L126.7,216.2L129.6,215.8L132.5,215.1L135.4,214.0L138.2,212.6L141.1,209.9L144.0,206.3L146.9,202.6L149.7,198.5L152.6,194.3L155.5,191.1L158.4,188.5L161.2,186.2L164.1,184.1L167.0,182.2L169.9,180.6L172.7,179.2L175.6,178.0L178.5,176.9L181.4,175.9L184.2,175.0L187.1,174.3L190.0,173.7L192.9,173.2L195.7,172.8L198.6,172.4L201.5,172.1L204.4,171.8L207.2,171.5L210.1,171.3L213.0,171.0L215.9,170.8L218.7,170.6L221.6,170.6L224.5,170.6L227.4,170.6L230.2,170.6L233.1,170.6L236.0,170.6L238.9,170.6L241.7,170.6L244.6,170.6L247.5,170.6L250.4,170.7L253.2,170.8L256.1,170.8L259.0,170.9L261.9,170.9L264.7,171.0L267.6,171.0L270.5,171.1L273.4,171.1L276.2,171.1L279.1,171.1L282.0,171.1L284.9,171.1L287.7,171.1L290.6,171.1" stroke="#1414c8" stroke-width="1.8" fill="none"/>
<path d="M121.0,223.2v-1.8M121.0,82.8v1.8M137.9,223.2v-3.0M137.9,82.8v3.0M154.8,223.2v-1.8M154.8,82.8v1.8M171.7,223.2v-1.8M171.7,82.8v1.8M188.6,223.2v-1.8M188.6,82.8v1.8M205.5,223.2v-3.0M205.5,82.8v3.0M222.4,223.2v-1.8M222.4,82.8v1.8M239.2,223.2v-1.8M239.2,82.8v1.8M256.1,223.2v-1.8M256.1,82.8v1.8M273.0,223.2v-3.0M273.0,82.8v3.0M289.9,223.2v-1.8M289.9,82.8v1.8M121.0,216.6h3.0M290.6,216.6h-3.0M121.0,184.8h1.8M290.6,184.8h-1.8M121.0,153.0h3.0M290.6,153.0h-3.0M121.0,121.2h1.8M290.6,121.2h-1.8M121.0,89.4h3.0M290.6,89.4h-3.0" stroke="#7a7a7a" stroke-width="1" fill="none"/>
<rect x="121.0" y="82.8" width="169.6" height="140.4" fill="none" stroke="#7a7a7a" stroke-width="1.3"/>
<text x="280.1" y="95.2" font-size="11.7" text-anchor="end">(a)</text>
<text x="137.9" y="235.7" font-size="11.7" text-anchor="middle">0.1</text>
<text x="205.5" y="235.7" font-size="11.7" text-anchor="middle">0.5</text>
<text x="273.0" y="235.7" font-size="11.7" text-anchor="middle">0.9</text>
<path d="M297.6,146.9h.01M295.7,98.0h.01M298.6,187.6h.01M297.3,148.7h.01M296.2,95.0h.01M296.7,133.1h.01M298.2,166.8h.01M299.0,209.5h.01M297.5,101.5h.01M297.3,143.9h.01M297.6,141.8h.01M296.1,88.2h.01M296.1,101.7h.01M296.9,102.0h.01M297.3,170.7h.01M297.7,146.5h.01M298.6,209.2h.01M298.2,212.6h.01M295.6,99.4h.01M299.1,215.4h.01M297.9,149.3h.01M298.9,194.0h.01M297.2,111.1h.01M298.7,199.7h.01M298.2,196.6h.01M296.3,93.6h.01M298.9,217.0h.01M295.1,93.3h.01M297.8,114.8h.01M296.9,98.0h.01M298.0,142.0h.01M296.4,100.2h.01M298.4,182.2h.01M299.3,184.9h.01M298.2,154.5h.01M299.6,210.1h.01M297.2,126.9h.01M299.1,207.4h.01M296.7,147.6h.01M299.6,216.1h.01M296.0,105.7h.01M299.1,205.0h.01M295.0,91.8h.01M299.4,201.7h.01M295.8,92.6h.01M297.9,203.8h.01M295.7,108.0h.01M298.6,198.1h.01M296.5,99.9h.01M295.4,88.7h.01M298.6,201.9h.01M298.0,173.0h.01M298.9,212.8h.01M299.6,170.5h.01M295.7,90.9h.01M296.2,105.2h.01M299.2,169.7h.01M298.8,208.8h.01M296.7,93.1h.01M299.2,218.8h.01M295.7,89.8h.01M299.3,204.8h.01M297.6,191.2h.01M296.8,133.6h.01M296.3,140.0h.01M296.7,146.4h.01M297.9,167.0h.01M297.4,143.2h.01M296.6,90.1h.01M295.3,91.9h.01M298.1,155.3h.01M296.3,103.4h.01M295.7,89.5h.01M297.3,116.7h.01M296.1,97.2h.01M299.3,211.7h.01M296.8,113.1h.01M298.4,190.9h.01M295.6,87.3h.01M297.7,204.4h.01M299.5,218.0h.01M298.8,205.2h.01M298.8,208.4h.01M297.1,155.7h.01M306.6,148.4h.01M303.8,94.2h.01M303.7,89.5h.01M304.6,99.4h.01M306.3,203.6h.01M305.7,198.9h.01M305.9,132.4h.01M304.8,95.3h.01M305.5,110.5h.01M302.9,101.8h.01M304.7,153.0h.01M305.6,122.5h.01M304.2,96.6h.01M306.4,171.9h.01M305.5,171.2h.01M304.2,100.6h.01M304.9,102.0h.01M304.5,169.4h.01M307.6,209.2h.01M303.6,93.8h.01M306.0,201.6h.01M304.8,115.8h.01M304.7,111.8h.01M306.9,206.2h.01M306.3,145.9h.01M304.6,116.4h.01M305.7,170.0h.01M307.3,202.1h.01M308.0,209.9h.01M305.2,185.8h.01M306.6,170.9h.01M305.1,122.8h.01M304.4,93.9h.01M307.9,213.5h.01M303.9,96.2h.01M304.0,98.5h.01M304.2,94.7h.01M307.8,207.5h.01M307.8,214.1h.01M306.4,151.8h.01M306.1,197.9h.01M305.4,190.3h.01M304.9,151.0h.01M307.7,202.9h.01M305.6,199.1h.01M306.9,206.1h.01M305.6,210.0h.01M306.2,202.6h.01M305.6,168.8h.01M306.8,190.7h.01M307.5,210.8h.01M306.4,201.9h.01M304.9,118.0h.01M304.4,113.9h.01M304.6,105.5h.01M306.5,197.0h.01M305.3,147.3h.01M304.5,94.1h.01M305.4,166.9h.01M306.8,209.7h.01M306.6,204.1h.01M307.8,211.8h.01M306.9,208.2h.01M303.7,116.8h.01M305.1,175.9h.01M306.9,209.7h.01M306.4,193.7h.01M305.3,143.8h.01M303.7,89.1h.01M307.5,210.5h.01M307.2,185.0h.01M307.3,206.6h.01M304.4,149.6h.01M303.7,110.1h.01M306.3,213.5h.01M306.3,160.7h.01M305.6,205.5h.01M303.2,88.1h.01M304.0,96.9h.01M306.3,196.4h.01M306.5,207.4h.01M305.4,120.0h.01M307.3,197.4h.01M304.6,93.0h.01M314.5,193.0h.01M313.6,111.4h.01M313.2,132.5h.01M314.9,202.3h.01M312.3,162.2h.01M315.2,196.6h.01M313.1,175.8h.01M315.8,193.9h.01M312.5,104.6h.01M315.3,208.3h.01M313.8,160.6h.01M313.0,98.9h.01M314.2,141.4h.01M311.9,110.3h.01M312.2,101.1h.01M315.0,207.0h.01M313.2,147.0h.01M313.1,130.4h.01M312.1,148.9h.01M311.3,136.0h.01M311.3,128.5h.01M313.1,115.5h.01M311.4,102.0h.01M312.2,109.0h.01M313.8,140.6h.01M314.8,203.0h.01M314.5,174.0h.01M315.5,211.4h.01M312.9,109.6h.01M312.8,94.6h.01M314.5,207.5h.01M314.2,162.8h.01M312.4,113.5h.01M313.9,146.0h.01M315.6,172.9h.01M314.8,176.0h.01M315.6,198.6h.01M313.4,177.5h.01M312.2,120.9h.01M313.7,174.2h.01M311.8,104.3h.01M311.9,105.7h.01M312.1,102.9h.01M312.7,106.7h.01M312.8,125.0h.01M313.0,148.1h.01M314.3,210.9h.01M313.3,196.0h.01M311.0,100.4h.01M314.8,187.4h.01M314.7,199.1h.01M314.8,194.0h.01M312.3,128.4h.01M314.5,168.4h.01M313.5,157.4h.01M314.3,170.7h.01M315.1,202.6h.01M311.6,104.7h.01M314.5,195.1h.01M314.9,204.6h.01M314.2,155.4h.01M312.7,176.8h.01M312.8,144.7h.01M311.7,119.2h.01M314.8,211.6h.01M313.1,109.0h.01M314.2,142.2h.01M314.1,183.0h.01M312.0,113.2h.01M311.4,102.3h.01M312.3,103.3h.01M311.9,97.5h.01M314.9,201.6h.01M311.2,99.7h.01M313.4,156.7h.01M313.5,110.9h.01M312.4,97.0h.01M315.4,201.3h.01M315.1,207.2h.01M313.3,116.5h.01M314.0,206.6h.01M314.7,205.3h.01M315.1,204.4h.01M314.8,178.2h.01M322.3,175.8h.01M323.0,176.0h.01M322.6,193.3h.01M322.4,179.4h.01M319.3,133.7h.01M323.6,200.3h.01M321.7,159.1h.01M321.0,130.3h.01M320.5,103.0h.01M320.3,100.9h.01M319.3,104.7h.01M321.4,172.1h.01M321.3,118.6h.01M321.6,157.8h.01M322.7,196.6h.01M319.5,122.2h.01M321.8,181.3h.01M322.7,194.8h.01M323.2,187.3h.01M322.9,185.1h.01M321.2,118.7h.01M320.0,111.2h.01M320.9,104.8h.01M322.7,165.4h.01M323.0,201.2h.01M321.8,197.1h.01M323.4,195.1h.01M321.1,140.3h.01M323.1,199.1h.01M323.3,197.5h.01M320.2,118.3h.01M319.5,117.5h.01M323.5,190.6h.01M320.3,143.7h.01M322.0,105.6h.01M321.1,183.4h.01M322.9,165.8h.01M319.6,106.6h.01M321.8,135.4h.01M321.4,167.1h.01M320.2,115.2h.01M321.0,155.7h.01M323.5,200.9h.01M319.6,104.9h.01M320.9,120.1h.01M322.1,123.4h.01M322.2,114.0h.01M322.6,136.4h.01M320.3,129.2h.01M319.6,108.6h.01M320.9,132.6h.01M323.5,197.7h.01M321.1,139.3h.01M321.2,119.0h.01M323.2,160.2h.01M321.7,124.1h.01M320.2,131.6h.01M321.2,159.6h.01M323.0,179.2h.01M319.8,105.6h.01M323.1,192.0h.01M321.2,165.8h.01M322.4,174.2h.01M321.5,114.4h.01M322.3,197.9h.01M322.9,163.3h.01M319.5,105.9h.01M323.0,199.4h.01M320.3,99.8h.01M318.4,136.7h.01M322.8,201.7h.01M321.0,160.5h.01M319.6,109.3h.01M322.2,192.8h.01M321.0,171.1h.01M323.1,193.3h.01M324.0,202.2h.01M322.9,173.8h.01M321.7,153.6h.01M322.7,197.7h.01M322.9,200.4h.01M321.2,136.8h.01M322.9,200.8h.01M321.0,108.0h.01M328.1,109.0h.01M330.5,189.1h.01M328.9,112.8h.01M327.7,121.3h.01M328.0,127.1h.01M329.2,133.3h.01M329.8,189.6h.01M328.1,118.3h.01M328.5,122.0h.01M328.2,107.9h.01M329.1,170.7h.01M331.3,192.6h.01M330.6,166.2h.01M330.5,193.0h.01M330.9,143.6h.01M329.3,109.6h.01M329.9,175.2h.01M329.1,134.4h.01M329.3,163.6h.01M330.7,194.3h.01M330.2,163.3h.01M329.7,159.5h.01M328.2,150.4h.01M331.9,185.5h.01M329.9,163.1h.01M330.1,182.3h.01M330.7,191.9h.01M330.5,181.1h.01M328.2,116.0h.01M328.4,115.0h.01M331.7,193.5h.01M330.2,190.3h.01M330.2,189.5h.01M329.2,169.2h.01M330.5,175.5h.01M329.1,130.7h.01M330.5,181.4h.01M331.0,172.9h.01M329.7,166.4h.01M329.7,159.9h.01M329.2,164.8h.01M327.8,112.1h.01M328.2,112.1h.01M331.6,174.7h.01M330.5,135.5h.01M328.1,115.9h.01M329.8,131.1h.01M328.4,117.3h.01M330.8,193.4h.01M329.4,150.3h.01M328.3,107.1h.01M331.1,159.8h.01M331.1,195.2h.01M330.4,188.5h.01M331.4,196.0h.01M327.9,111.3h.01M328.3,123.9h.01M331.6,176.9h.01M330.1,148.6h.01M328.2,109.9h.01M328.8,158.5h.01M328.7,109.8h.01M329.9,186.4h.01M330.5,157.6h.01M330.9,192.6h.01M331.0,190.9h.01M331.0,166.6h.01M331.8,187.4h.01M328.2,110.5h.01M327.3,124.5h.01M332.1,192.4h.01M331.2,173.4h.01M330.2,139.0h.01M331.5,192.1h.01M329.8,158.0h.01M328.4,132.6h.01M329.5,181.0h.01M329.2,132.8h.01M328.4,115.8h.01M328.2,128.0h.01M331.5,182.9h.01M328.1,120.8h.01M327.9,122.8h.01M328.2,111.4h.01M339.5,162.7h.01M337.8,180.4h.01M339.0,193.6h.01M337.1,150.8h.01M336.3,123.6h.01M339.1,188.3h.01M336.3,126.5h.01M336.1,134.6h.01M335.8,116.0h.01M336.5,117.7h.01M336.9,138.2h.01M336.4,115.3h.01M336.5,153.4h.01M336.8,133.9h.01M335.2,115.2h.01M337.3,152.1h.01M335.3,115.5h.01M336.0,115.9h.01M336.0,118.1h.01M338.9,176.1h.01M339.1,182.4h.01M340.0,179.7h.01M339.2,188.7h.01M337.8,125.6h.01M337.4,129.1h.01M337.6,179.0h.01M337.7,153.3h.01M339.8,189.5h.01M337.2,132.1h.01M340.2,189.3h.01M339.3,190.7h.01M339.0,191.6h.01M338.2,152.2h.01M337.9,173.2h.01M339.2,183.9h.01M337.9,177.8h.01M339.5,182.2h.01M336.1,111.1h.01M336.3,137.1h.01M337.7,151.5h.01M338.5,179.8h.01M335.7,119.0h.01M339.2,175.0h.01M338.1,141.1h.01M336.7,112.6h.01M335.5,123.4h.01M337.2,127.0h.01M338.9,182.2h.01M338.8,187.9h.01M339.7,186.6h.01M335.6,167.4h.01M338.7,175.9h.01M336.1,126.4h.01M336.5,147.0h.01M338.5,163.3h.01M336.8,146.1h.01M337.0,117.7h.01M337.4,161.3h.01M339.3,194.4h.01M337.5,126.3h.01M335.9,141.4h.01M337.2,155.1h.01M338.3,186.4h.01M337.7,123.9h.01M339.3,188.7h.01M337.5,141.5h.01M338.9,188.7h.01M338.5,192.0h.01M337.3,116.1h.01M336.6,143.8h.01M338.3,143.1h.01M335.6,129.4h.01M336.7,116.3h.01M336.4,117.0h.01M336.6,116.4h.01M336.1,117.6h.01M337.4,124.2h.01M336.3,114.5h.01M339.8,189.4h.01M337.6,144.0h.01M336.3,130.0h.01M337.8,192.5h.01M338.7,193.2h.01M340.1,187.9h.01M345.7,155.8h.01M346.6,153.9h.01M347.1,184.2h.01M347.4,177.7h.01M344.2,126.0h.01M345.6,186.5h.01M345.3,137.4h.01M346.4,185.4h.01M345.1,122.2h.01M347.4,178.0h.01M347.5,180.1h.01M346.0,157.3h.01M345.9,158.0h.01M345.9,159.5h.01M347.2,172.4h.01M344.2,119.9h.01M346.7,178.3h.01M345.4,151.5h.01M345.8,136.3h.01M347.6,182.7h.01M344.6,115.7h.01M344.8,125.8h.01M346.7,166.4h.01M347.1,143.9h.01M344.6,144.2h.01M346.6,190.8h.01M345.7,135.4h.01M344.6,120.1h.01M344.6,115.2h.01M343.7,129.6h.01M346.4,137.1h.01M346.0,138.6h.01M346.0,117.4h.01M347.7,187.7h.01M345.3,147.4h.01M344.1,133.4h.01M347.0,175.6h.01M346.9,183.9h.01M347.9,184.7h.01M345.6,150.4h.01M345.6,178.5h.01M344.7,118.8h.01M347.2,177.7h.01M344.6,147.5h.01M346.1,185.4h.01M345.1,124.0h.01M347.4,146.9h.01M346.0,184.7h.01M346.8,185.3h.01M344.6,161.7h.01M347.2,184.2h.01M345.8,159.9h.01M343.6,121.7h.01M346.2,150.4h.01M344.1,124.3h.01M346.2,133.0h.01M346.6,180.8h.01M344.1,132.2h.01M344.4,120.0h.01M343.7,157.0h.01M346.7,145.0h.01M346.4,192.5h.01M346.8,182.1h.01M344.9,139.2h.01M343.6,114.6h.01M345.9,184.1h.01M346.9,187.8h.01M346.9,186.2h.01M346.0,170.2h.01M344.9,142.6h.01M346.5,176.9h.01M346.4,183.0h.01M344.4,133.4h.01M346.4,178.3h.01M346.7,174.9h.01M347.4,174.8h.01M344.9,133.5h.01M345.6,152.2h.01M343.2,113.0h.01M344.3,126.4h.01M347.2,175.7h.01M344.4,120.4h.01M346.9,176.8h.01M344.8,121.1h.01M353.1,137.8h.01M354.4,176.3h.01M353.7,116.5h.01M354.9,185.3h.01M352.8,140.6h.01M352.1,116.7h.01M351.7,138.6h.01M353.3,153.3h.01M354.3,189.4h.01M354.1,123.3h.01M354.9,181.7h.01M354.0,167.1h.01M353.4,119.7h.01M353.5,166.2h.01M351.4,120.0h.01M353.8,138.8h.01M351.7,122.5h.01M352.0,133.3h.01M352.9,124.2h.01M351.5,118.4h.01M354.9,158.7h.01M352.8,164.9h.01M353.2,133.5h.01M352.9,131.8h.01M356.4,177.8h.01M352.2,128.9h.01M352.8,157.1h.01M353.4,120.4h.01M352.4,120.4h.01M351.8,153.4h.01M355.0,184.1h.01M355.3,188.5h.01M352.8,187.9h.01M354.8,164.5h.01M351.5,122.1h.01M354.2,119.3h.01M355.5,179.2h.01M351.4,122.6h.01M355.6,179.0h.01M353.1,118.1h.01M354.2,171.8h.01M355.1,184.0h.01M356.1,184.6h.01M352.5,178.9h.01M353.2,145.6h.01M354.6,158.4h.01M353.3,160.2h.01M356.4,156.3h.01M352.5,155.6h.01M355.4,177.9h.01M354.2,156.9h.01M354.8,175.9h.01M354.0,181.4h.01M352.0,172.6h.01M354.0,133.2h.01M352.8,118.4h.01M354.7,139.0h.01M353.0,126.8h.01M352.7,123.5h.01M354.0,184.0h.01M353.6,142.8h.01M355.4,179.9h.01M353.8,127.9h.01M354.3,188.8h.01M356.2,179.3h.01M353.5,160.9h.01M355.9,180.7h.01M353.8,158.6h.01M355.3,174.3h.01M354.2,185.0h.01M351.5,118.1h.01M351.5,120.3h.01M352.3,120.7h.01M354.3,142.5h.01M356.0,174.7h.01M353.6,147.9h.01M353.5,147.1h.01M351.5,118.9h.01M354.0,152.4h.01M352.2,123.8h.01M354.1,121.4h.01M353.4,168.8h.01M355.3,185.3h.01M354.0,170.1h.01M361.4,174.5h.01M362.7,165.9h.01M360.2,119.5h.01M359.6,121.1h.01M362.2,162.0h.01M363.1,186.4h.01M363.6,171.6h.01M361.6,135.7h.01M359.3,119.2h.01M360.5,124.0h.01M364.1,179.2h.01M362.8,184.4h.01M360.7,131.3h.01M359.9,165.8h.01M360.2,120.3h.01M362.9,180.6h.01M362.7,137.6h.01M363.2,149.3h.01M362.4,151.0h.01M361.0,118.2h.01M363.1,188.1h.01M360.7,165.7h.01M362.7,173.5h.01M360.2,124.4h.01M360.6,128.0h.01M362.7,157.3h.01M360.9,134.3h.01M363.1,183.5h.01M361.1,144.9h.01M363.2,180.1h.01M362.5,152.2h.01M362.3,177.5h.01M361.7,142.5h.01M360.4,153.2h.01M361.1,130.0h.01M363.5,179.4h.01M362.3,141.7h.01M361.7,167.6h.01M362.2,158.0h.01M361.0,131.6h.01M362.8,179.3h.01M362.0,186.9h.01M362.2,179.4h.01M360.5,120.3h.01M361.2,125.3h.01M362.7,188.0h.01M363.3,185.7h.01M360.6,129.4h.01M363.9,165.6h.01M362.9,179.7h.01M360.7,121.8h.01M359.9,115.8h.01M363.1,185.6h.01M363.2,154.2h.01M362.7,174.8h.01M361.2,165.2h.01M359.9,122.0h.01M361.1,139.9h.01M361.9,143.7h.01M360.1,118.7h.01M363.6,172.7h.01M362.8,187.4h.01M359.9,116.9h.01M360.3,118.8h.01M363.1,186.7h.01M362.4,149.8h.01M363.4,115.3h.01M359.8,150.0h.01M362.5,184.0h.01M362.9,135.9h.01M361.5,127.2h.01M361.7,174.5h.01M361.3,125.4h.01M364.0,175.8h.01M360.5,117.5h.01M359.8,126.3h.01M362.6,164.1h.01M361.0,149.9h.01M363.1,180.4h.01M362.3,172.5h.01M363.2,173.4h.01M360.8,118.2h.01M361.6,182.1h.01M361.4,116.1h.01M369.5,120.8h.01M370.0,156.8h.01M368.1,120.4h.01M368.9,161.7h.01M368.5,125.5h.01M370.6,184.3h.01M368.7,115.0h.01M370.0,159.5h.01M370.8,181.3h.01M371.3,141.4h.01M369.9,136.4h.01M367.9,116.4h.01M370.6,188.8h.01M370.0,155.1h.01M370.4,159.3h.01M371.3,184.3h.01M367.3,124.6h.01M371.2,189.9h.01M370.6,183.5h.01M369.7,157.4h.01M367.6,157.9h.01M371.5,160.5h.01M369.3,117.6h.01M368.8,131.4h.01M370.8,189.3h.01M371.3,188.6h.01M368.4,122.2h.01M369.4,143.1h.01M371.2,183.8h.01M369.5,186.4h.01M369.0,159.0h.01M368.8,140.6h.01M370.6,140.3h.01M370.8,182.4h.01M368.8,117.5h.01M368.3,128.2h.01M370.7,184.1h.01M369.7,125.9h.01M368.3,132.4h.01M369.4,125.9h.01M369.1,118.7h.01M368.1,151.6h.01M370.0,155.7h.01M367.4,120.3h.01M370.4,149.6h.01M368.2,122.5h.01M369.1,152.0h.01M371.9,183.3h.01M369.4,182.7h.01M371.2,188.4h.01M369.1,119.5h.01M370.8,180.2h.01M367.6,138.4h.01M371.8,182.6h.01M371.5,176.7h.01M370.2,138.5h.01M368.8,115.8h.01M370.4,168.6h.01M370.5,186.3h.01M370.2,139.5h.01M370.7,174.0h.01M368.8,164.5h.01M370.3,188.5h.01M369.4,120.8h.01M370.0,189.0h.01M369.4,115.9h.01M368.7,134.3h.01M367.6,122.8h.01M371.7,191.3h.01M367.5,113.6h.01M369.9,129.6h.01M369.1,155.0h.01M368.6,121.8h.01M367.8,122.8h.01M369.4,137.0h.01M369.8,161.7h.01M369.2,120.2h.01M368.1,118.9h.01M368.3,130.2h.01M370.4,187.8h.01M371.5,152.1h.01M369.3,136.7h.01M369.0,155.9h.01M369.7,137.1h.01M376.1,162.8h.01M377.5,158.4h.01M376.7,131.7h.01M378.3,154.2h.01M378.8,138.9h.01M377.7,116.7h.01M377.9,146.1h.01M376.9,116.1h.01M378.0,163.2h.01M378.9,167.7h.01M378.9,145.2h.01M376.6,117.5h.01M377.7,155.1h.01M379.2,141.5h.01M377.4,176.3h.01M377.8,153.3h.01M378.6,173.5h.01M379.2,186.7h.01M378.3,139.9h.01M376.1,121.5h.01M379.0,176.6h.01M377.3,161.9h.01M377.9,172.7h.01M376.7,118.4h.01M379.1,174.0h.01M378.6,123.5h.01M376.1,122.1h.01M376.6,115.8h.01M379.1,172.1h.01M376.7,117.3h.01M378.3,188.0h.01M378.4,121.4h.01M377.0,155.0h.01M378.7,187.5h.01M377.1,134.3h.01M378.9,116.6h.01M378.1,190.8h.01M378.3,179.4h.01M378.2,181.7h.01M378.1,173.2h.01M377.1,123.9h.01M378.0,129.9h.01M379.0,189.3h.01M378.4,138.8h.01M376.8,128.1h.01M379.4,178.7h.01M377.9,146.9h.01M377.0,143.8h.01M376.0,118.8h.01M379.0,139.2h.01M379.2,180.3h.01M377.2,143.5h.01M376.2,114.8h.01M379.2,184.7h.01M377.0,115.2h.01M377.1,122.3h.01M378.0,132.1h.01M379.8,187.1h.01M378.9,172.1h.01M375.6,153.6h.01M377.4,118.0h.01M379.5,183.0h.01M377.5,128.7h.01M376.1,128.8h.01M374.9,128.3h.01M379.5,186.4h.01M379.5,185.6h.01M377.4,136.7h.01M376.4,128.9h.01M377.9,171.2h.01M376.6,133.7h.01M377.7,171.3h.01M377.8,131.6h.01M378.1,149.3h.01M376.5,124.0h.01M380.4,184.8h.01M377.8,154.5h.01M378.0,149.1h.01M378.8,189.9h.01M376.7,121.2h.01M378.0,182.2h.01M376.5,142.2h.01M378.3,189.0h.01M379.2,191.3h.01M387.2,191.6h.01M386.7,178.4h.01M384.6,172.8h.01M383.9,122.3h.01M384.9,119.6h.01M384.2,120.2h.01M386.3,167.7h.01M384.3,130.1h.01M387.5,187.2h.01M384.6,146.3h.01M386.3,157.3h.01M386.4,172.1h.01M383.8,113.5h.01M387.0,164.6h.01M386.7,189.2h.01M383.9,143.4h.01M387.6,188.0h.01M387.2,147.1h.01M386.2,145.7h.01M386.2,184.2h.01M383.8,119.2h.01M383.7,157.3h.01M388.4,187.8h.01M387.0,190.2h.01M384.5,122.7h.01M386.1,121.6h.01M385.4,123.0h.01M384.7,172.3h.01M386.6,179.8h.01M385.7,185.3h.01M384.0,116.5h.01M386.1,169.4h.01M383.6,117.3h.01M384.1,122.9h.01M385.5,191.4h.01M384.5,115.0h.01M385.8,149.4h.01M385.7,153.7h.01M385.1,114.4h.01M387.0,126.1h.01M383.3,129.1h.01M384.4,140.3h.01M385.8,186.0h.01M383.6,125.1h.01M386.9,173.6h.01M387.5,163.3h.01M384.0,118.1h.01M387.5,183.3h.01M386.0,184.2h.01M387.7,184.0h.01M388.1,175.7h.01M386.9,185.8h.01M387.1,179.2h.01M387.0,179.1h.01M387.1,132.1h.01M387.9,151.6h.01M383.5,119.8h.01M387.5,176.8h.01M385.9,191.6h.01M386.4,186.8h.01M385.2,190.4h.01M384.7,123.2h.01M384.9,183.0h.01M386.9,174.3h.01M385.6,142.8h.01M387.5,151.5h.01M384.8,113.3h.01M384.7,120.0h.01M387.1,169.7h.01M387.4,173.9h.01M385.1,126.4h.01M384.7,163.6h.01M383.9,117.7h.01M384.5,116.3h.01M387.8,188.1h.01M388.0,190.8h.01M385.4,121.2h.01M387.4,170.4h.01M385.2,117.5h.01M386.3,189.5h.01M386.9,194.0h.01M386.3,143.0h.01M386.6,179.1h.01M387.1,165.3h.01M396.1,185.0h.01M394.8,175.2h.01M393.4,131.2h.01M392.8,173.1h.01M395.1,187.8h.01M392.5,115.6h.01M394.7,173.6h.01M392.9,177.2h.01M392.7,115.1h.01M393.6,154.0h.01M395.1,140.6h.01M395.0,174.9h.01M395.0,187.2h.01M391.8,113.3h.01M391.7,132.1h.01M392.9,137.1h.01M391.4,128.8h.01M393.6,116.1h.01M392.6,177.9h.01M393.4,138.5h.01M393.3,180.1h.01M391.8,125.0h.01M393.4,141.2h.01M392.5,117.6h.01M391.3,114.6h.01M394.8,179.6h.01M392.7,114.5h.01M391.9,134.3h.01M392.0,160.7h.01M394.8,144.7h.01M392.5,177.5h.01M394.7,156.8h.01M394.0,173.3h.01M393.6,115.4h.01M394.9,145.2h.01M394.2,176.7h.01M391.9,153.2h.01M392.4,156.7h.01M391.9,133.6h.01M394.5,184.8h.01M392.7,133.1h.01M393.3,149.5h.01M392.6,120.6h.01M395.0,172.8h.01M395.1,179.1h.01M395.0,137.5h.01M395.4,162.3h.01M392.3,149.7h.01M393.3,116.8h.01M391.1,113.5h.01M394.1,132.3h.01M395.4,190.2h.01M392.0,125.9h.01M392.1,126.4h.01M394.3,169.3h.01M392.4,131.6h.01M392.7,122.1h.01M394.5,191.6h.01M393.0,116.5h.01M393.5,118.7h.01M393.3,117.9h.01M392.4,157.3h.01M395.0,174.7h.01M396.0,180.9h.01M394.5,180.7h.01M393.3,159.4h.01M392.8,138.2h.01M394.2,189.8h.01M394.8,182.0h.01M395.3,180.7h.01M392.1,116.3h.01M392.8,117.3h.01M392.8,119.8h.01M393.6,158.0h.01M394.8,184.4h.01M393.1,119.1h.01M393.5,149.7h.01M392.4,116.0h.01M394.4,145.8h.01M394.1,152.7h.01M395.3,156.6h.01M393.0,122.7h.01M394.0,159.1h.01M394.6,164.9h.01M402.9,135.0h.01M402.8,156.8h.01M402.6,179.3h.01M401.8,155.9h.01M400.9,126.1h.01M402.7,181.9h.01M401.3,130.2h.01M403.2,173.0h.01M403.2,129.9h.01M403.5,168.7h.01M403.2,156.9h.01M402.9,172.3h.01M400.7,125.7h.01M399.2,129.0h.01M400.8,144.7h.01M403.6,173.6h.01M401.6,120.7h.01M402.6,116.6h.01M402.8,188.7h.01M402.6,176.7h.01M400.1,126.6h.01M401.6,115.9h.01M403.3,165.9h.01M402.2,192.8h.01M399.6,114.6h.01M403.6,186.4h.01M402.9,151.4h.01M401.3,127.1h.01M401.9,167.4h.01M403.1,187.2h.01M403.8,192.8h.01M401.8,116.4h.01M402.7,149.6h.01M401.3,120.8h.01M402.4,179.2h.01M399.6,117.3h.01M402.6,187.2h.01M400.6,148.3h.01M400.4,119.7h.01M400.6,116.1h.01M403.7,184.0h.01M400.7,189.9h.01M401.9,125.3h.01M400.8,124.0h.01M401.5,127.6h.01M402.8,160.9h.01M401.3,112.5h.01M402.5,139.6h.01M400.9,163.3h.01M400.4,134.1h.01M402.9,184.6h.01M401.2,159.4h.01M402.3,149.8h.01M403.9,181.9h.01M403.1,161.4h.01M400.8,124.7h.01M401.7,126.9h.01M403.5,192.1h.01M400.4,149.8h.01M402.9,182.9h.01M399.9,115.4h.01M399.9,109.5h.01M401.6,162.0h.01M400.9,175.9h.01M400.0,118.5h.01M401.3,165.0h.01M401.3,114.9h.01M403.2,177.3h.01M401.8,115.8h.01M401.3,194.6h.01M400.3,155.1h.01M403.9,187.4h.01M400.9,156.7h.01M402.6,191.6h.01M402.9,189.1h.01M402.2,116.2h.01M401.3,128.3h.01M402.1,116.6h.01M403.3,151.7h.01M400.5,123.2h.01M401.2,124.7h.01M400.1,127.7h.01M399.4,123.0h.01M402.2,156.1h.01M410.7,192.4h.01M411.4,185.7h.01M408.6,148.1h.01M409.4,158.4h.01M410.9,185.3h.01M408.0,135.9h.01M408.4,117.7h.01M411.0,179.1h.01M407.6,121.1h.01M411.4,191.4h.01M410.2,127.9h.01M409.9,126.1h.01M410.3,115.7h.01M409.6,128.4h.01M412.1,165.2h.01M410.0,134.9h.01M408.6,123.4h.01M409.8,111.5h.01M408.9,119.2h.01M412.0,190.3h.01M408.7,121.7h.01M410.0,114.2h.01M407.6,120.2h.01M409.6,141.2h.01M410.6,181.3h.01M410.0,117.4h.01M411.5,117.8h.01M408.7,152.4h.01M410.0,165.6h.01M408.9,121.3h.01M410.1,181.6h.01M408.0,120.1h.01M412.2,186.0h.01M410.8,117.4h.01M409.7,193.5h.01M409.3,142.3h.01M408.7,116.0h.01M411.0,188.3h.01M410.5,176.1h.01M409.3,133.6h.01M410.6,192.8h.01M409.8,129.0h.01M408.1,113.8h.01M408.6,151.1h.01M409.9,181.7h.01M409.5,130.8h.01M408.0,128.5h.01M410.7,138.5h.01M409.8,115.5h.01M410.5,193.9h.01M410.2,143.8h.01M410.3,156.1h.01M411.3,156.6h.01M410.9,182.1h.01M409.1,188.8h.01M410.0,160.3h.01M409.6,146.4h.01M411.7,172.5h.01M411.7,183.9h.01M409.6,114.9h.01M408.7,113.9h.01M409.7,189.4h.01M411.8,185.9h.01M409.1,130.1h.01M408.3,112.7h.01M411.6,192.6h.01M410.9,181.4h.01M410.1,164.9h.01M407.6,114.0h.01M408.1,127.5h.01M408.4,174.3h.01M408.9,115.5h.01M411.7,177.2h.01M408.9,184.8h.01M410.1,166.1h.01M410.4,114.0h.01M409.5,158.1h.01M409.2,167.6h.01M411.7,170.9h.01M411.0,168.1h.01M411.0,193.4h.01M409.1,123.6h.01M407.8,130.2h.01M411.2,191.2h.01M416.7,131.0h.01M419.1,174.9h.01M417.8,127.2h.01M419.7,172.0h.01M418.3,183.6h.01M419.7,161.6h.01M417.5,191.3h.01M416.5,145.8h.01M419.6,134.6h.01M418.9,150.5h.01M420.0,193.2h.01M418.3,187.9h.01M416.7,125.0h.01M416.3,121.6h.01M418.6,184.2h.01M419.0,114.9h.01M417.6,158.8h.01M418.7,186.7h.01M418.8,166.2h.01M416.6,125.2h.01M415.5,119.6h.01M415.7,119.6h.01M419.9,197.1h.01M416.2,157.5h.01M419.9,192.2h.01M415.7,118.7h.01M419.0,113.9h.01M416.8,191.0h.01M418.0,152.6h.01M415.9,121.9h.01M418.1,151.3h.01M418.0,161.4h.01M420.0,185.7h.01M419.0,179.2h.01M419.3,183.1h.01M416.0,124.2h.01M419.2,159.7h.01M418.0,142.7h.01M419.6,190.2h.01M419.0,181.8h.01M416.0,146.2h.01M416.9,142.8h.01M418.0,187.1h.01M417.9,188.3h.01M419.3,131.8h.01M416.3,169.8h.01M418.3,174.5h.01M418.0,141.4h.01M416.3,143.1h.01M418.8,162.7h.01M418.8,110.7h.01M415.8,118.8h.01M416.4,115.4h.01M417.6,195.5h.01M419.6,190.4h.01M419.3,189.6h.01M418.3,194.0h.01M417.0,192.4h.01M420.2,190.7h.01M418.6,176.2h.01M416.2,132.5h.01M418.8,124.7h.01M416.4,114.8h.01M419.0,190.1h.01M417.5,116.4h.01M418.7,166.5h.01M419.1,193.8h.01M418.9,170.0h.01M419.0,180.4h.01M418.5,157.6h.01M417.8,190.7h.01M415.4,159.9h.01M416.4,130.4h.01M418.9,167.2h.01M417.4,186.5h.01M420.4,190.7h.01M417.2,110.2h.01M418.4,131.8h.01M416.8,114.5h.01M417.6,189.4h.01M419.0,172.4h.01M419.1,122.9h.01M416.3,112.5h.01M418.0,182.3h.01M425.3,156.4h.01M423.6,112.1h.01M424.4,124.7h.01M425.0,109.0h.01M425.7,183.9h.01M427.2,115.7h.01M425.3,123.8h.01M423.6,122.6h.01M428.2,183.7h.01M423.8,117.7h.01M423.4,116.0h.01M424.5,112.2h.01M425.8,155.6h.01M424.7,144.9h.01M427.1,195.5h.01M424.8,150.3h.01M424.6,197.6h.01M427.0,147.2h.01M428.1,194.3h.01M427.5,190.1h.01M425.2,122.1h.01M425.9,134.4h.01M424.3,116.7h.01M425.8,189.7h.01M426.7,159.3h.01M425.4,149.7h.01M426.5,144.1h.01M424.1,146.1h.01M426.5,160.9h.01M424.8,121.8h.01M426.1,159.6h.01M428.3,191.5h.01M425.4,194.6h.01M427.6,144.7h.01M427.6,188.4h.01M426.2,182.6h.01M426.8,184.1h.01M427.2,168.6h.01M426.2,129.9h.01M426.8,168.4h.01M427.2,190.5h.01M427.9,188.7h.01M423.4,115.9h.01M424.1,118.6h.01M426.2,115.8h.01M426.4,134.9h.01M426.1,111.8h.01M425.4,112.0h.01M424.4,112.0h.01M426.7,177.9h.01M427.8,128.9h.01M426.2,181.8h.01M424.6,122.1h.01M426.5,192.6h.01M425.4,114.5h.01M426.0,149.9h.01M424.0,131.2h.01M426.9,193.3h.01M424.6,113.2h.01M427.4,181.7h.01M424.1,139.1h.01M427.7,183.8h.01M425.3,118.1h.01M425.4,161.7h.01M426.2,145.0h.01M424.6,135.3h.01M424.2,127.0h.01M426.1,194.0h.01M427.4,172.4h.01M424.9,132.6h.01M425.4,116.3h.01M428.5,186.0h.01M427.0,193.6h.01M427.3,191.7h.01M424.8,112.0h.01M426.7,184.6h.01M426.6,175.9h.01M426.5,127.1h.01M426.2,117.4h.01M424.7,132.6h.01M425.6,111.7h.01M424.8,173.7h.01M423.4,115.4h.01M425.2,115.3h.01M434.9,178.7h.01M434.5,133.4h.01M435.4,189.1h.01M431.5,119.7h.01M433.2,121.9h.01M435.9,181.9h.01M433.8,125.6h.01M432.3,112.6h.01M435.1,191.7h.01M432.4,118.1h.01M435.1,144.2h.01M433.2,193.5h.01M435.0,154.1h.01M434.0,170.0h.01M435.2,170.5h.01M433.4,110.8h.01M435.5,167.9h.01M432.7,172.2h.01M434.9,192.5h.01M434.4,113.0h.01M433.9,193.0h.01M433.2,140.8h.01M432.0,118.2h.01M434.5,187.8h.01M432.1,114.8h.01M435.3,186.8h.01M435.5,181.1h.01M433.0,135.5h.01M432.7,111.0h.01M434.4,163.5h.01M435.5,152.0h.01M432.3,117.7h.01M435.6,191.2h.01M434.9,183.1h.01M434.1,174.8h.01M434.9,177.1h.01M436.2,192.8h.01M432.2,135.5h.01M434.9,188.8h.01M435.0,190.4h.01M434.8,193.4h.01M432.3,144.1h.01M435.8,182.3h.01M434.9,172.0h.01M433.3,161.3h.01M433.1,117.2h.01M435.1,170.4h.01M433.6,136.1h.01M435.1,197.6h.01M434.2,129.6h.01M434.0,177.5h.01M435.4,168.8h.01M431.8,127.2h.01M432.3,116.2h.01M432.5,142.9h.01M434.0,162.0h.01M433.1,185.0h.01M436.2,189.5h.01M434.9,182.6h.01M434.6,170.5h.01M432.4,116.7h.01M432.5,118.3h.01M434.4,124.7h.01M435.5,161.1h.01M436.0,182.7h.01M434.8,186.0h.01M433.7,111.6h.01M434.4,133.3h.01M434.6,146.3h.01M434.6,185.4h.01M434.1,171.8h.01M433.0,153.3h.01M433.3,162.2h.01M433.2,171.6h.01M432.5,116.1h.01M435.2,180.8h.01M433.7,123.2h.01M432.4,120.5h.01M434.2,184.3h.01M436.2,172.3h.01M434.7,196.5h.01M433.4,178.0h.01M435.2,183.0h.01M434.0,193.7h.01M443.9,192.3h.01M442.4,115.2h.01M442.3,119.6h.01M439.7,142.8h.01M440.1,122.1h.01M443.7,190.2h.01M440.8,112.1h.01M442.9,181.4h.01M442.1,166.0h.01M442.2,193.9h.01M442.7,186.9h.01M443.3,180.3h.01M441.7,158.0h.01M442.0,165.0h.01M441.8,160.9h.01M440.7,130.4h.01M443.8,188.2h.01M441.9,163.6h.01M443.2,189.6h.01M443.6,185.1h.01M439.9,115.9h.01M440.3,123.6h.01M443.5,174.2h.01M440.7,167.9h.01M443.4,190.4h.01M444.1,164.6h.01M442.9,144.0h.01M442.3,119.0h.01M442.0,152.4h.01M442.7,187.5h.01M443.0,143.6h.01M440.5,129.0h.01M442.5,195.1h.01M441.2,173.5h.01M441.0,114.5h.01M441.6,136.3h.01M442.6,134.6h.01M442.4,183.7h.01M441.5,148.9h.01M444.0,183.3h.01M442.5,118.0h.01M441.2,112.6h.01M440.6,121.3h.01M442.7,195.6h.01M440.8,159.7h.01M442.1,120.9h.01M439.9,187.1h.01M442.9,189.1h.01M440.4,135.5h.01M440.8,127.3h.01M442.0,191.1h.01M442.8,195.5h.01M443.0,174.2h.01M441.1,113.2h.01M441.6,171.5h.01M442.7,151.2h.01M442.7,188.0h.01M440.3,128.0h.01M442.7,169.4h.01M440.8,163.9h.01M443.2,172.5h.01M439.9,122.3h.01M441.5,119.6h.01M441.6,129.3h.01M443.3,166.1h.01M441.3,114.1h.01M443.0,188.4h.01M443.6,166.3h.01M442.4,179.8h.01M440.2,149.4h.01M440.7,115.8h.01M443.0,179.1h.01M441.5,157.2h.01M442.6,193.4h.01M443.4,145.9h.01M443.0,187.1h.01M441.5,134.0h.01M440.9,171.1h.01M439.3,114.4h.01M439.8,140.7h.01M440.3,115.3h.01M442.1,120.5h.01M443.6,172.0h.01M439.8,110.6h.01M449.5,181.8h.01M450.4,113.1h.01M450.4,134.4h.01M451.5,182.2h.01M448.0,148.1h.01M451.0,180.5h.01M449.3,122.7h.01M451.7,178.8h.01M452.1,130.0h.01M449.8,124.2h.01M451.6,186.8h.01M449.9,173.7h.01M448.5,140.7h.01M448.5,141.0h.01M450.0,112.7h.01M450.9,188.2h.01M449.5,126.9h.01M452.4,181.4h.01M449.6,113.5h.01M451.7,187.5h.01M450.8,186.4h.01M450.6,151.1h.01M449.0,196.7h.01M450.1,179.3h.01M449.6,178.7h.01M449.9,180.2h.01M451.7,193.5h.01M451.4,182.6h.01M451.6,159.2h.01M449.5,111.9h.01M448.5,147.0h.01M451.1,163.5h.01M451.5,187.8h.01M451.1,185.9h.01M449.1,112.1h.01M451.0,190.4h.01M452.3,191.3h.01M451.2,183.6h.01M450.8,188.3h.01M450.5,137.2h.01M449.8,114.4h.01M449.0,121.8h.01M451.1,170.6h.01M449.4,183.7h.01M448.4,116.4h.01M451.8,184.8h.01M451.5,188.1h.01M448.7,183.3h.01M450.9,189.4h.01M450.2,185.3h.01M449.7,128.6h.01M449.0,110.9h.01M448.8,119.8h.01M450.0,122.8h.01M448.8,174.7h.01M449.9,182.5h.01M451.1,192.6h.01M448.6,129.5h.01M448.4,113.9h.01M450.4,154.7h.01M448.0,112.6h.01M448.0,134.5h.01M448.4,149.7h.01M451.2,131.7h.01M449.2,163.3h.01M451.4,183.5h.01M451.6,154.9h.01M448.9,121.0h.01M449.0,122.2h.01M447.5,140.5h.01M450.6,187.8h.01M450.0,151.6h.01M451.4,193.4h.01M451.1,194.3h.01M448.5,130.6h.01M449.4,191.8h.01M449.7,159.4h.01M448.5,120.9h.01M448.7,113.7h.01M450.6,174.3h.01M450.7,165.4h.01M449.4,169.3h.01M448.7,123.2h.01M448.7,186.5h.01M456.7,152.6h.01M458.5,181.5h.01M459.4,187.3h.01M456.8,116.9h.01M459.5,190.5h.01M456.8,125.5h.01M458.7,120.9h.01M459.3,193.0h.01M458.2,168.0h.01M456.2,154.0h.01M456.6,114.1h.01M459.0,156.6h.01M459.3,184.8h.01M459.2,154.1h.01M456.4,121.2h.01M459.0,191.3h.01M459.1,190.4h.01M456.9,190.6h.01M457.4,137.6h.01M458.2,186.8h.01M459.7,189.5h.01M457.9,177.9h.01M458.0,162.3h.01M458.7,181.9h.01M459.6,169.6h.01M456.5,110.6h.01M458.5,161.3h.01M457.5,123.5h.01M457.1,143.0h.01M458.2,126.7h.01M456.7,128.6h.01M459.1,164.6h.01M459.3,183.0h.01M458.5,183.5h.01M459.0,184.7h.01M458.1,195.3h.01M457.5,173.8h.01M459.7,190.6h.01M457.4,141.8h.01M456.4,157.8h.01M458.7,179.7h.01M458.5,196.6h.01M457.2,138.1h.01M459.8,193.6h.01M457.9,194.5h.01M456.0,117.6h.01M458.2,192.6h.01M458.0,158.2h.01M458.9,156.8h.01M456.7,116.8h.01M457.5,163.8h.01M458.6,151.6h.01M459.9,151.1h.01M455.9,148.4h.01M458.1,193.7h.01M458.1,168.0h.01M456.8,138.6h.01M456.0,158.6h.01M458.3,177.2h.01M459.3,187.9h.01M458.9,188.3h.01M459.6,186.1h.01M458.4,122.8h.01M457.3,156.0h.01M458.1,191.2h.01M457.3,124.0h.01M456.4,161.7h.01M456.9,130.0h.01M456.2,186.2h.01M457.7,194.4h.01M457.3,163.5h.01M460.0,148.6h.01M459.8,182.7h.01M459.0,195.8h.01M459.3,139.9h.01M456.5,140.7h.01M456.8,187.2h.01M459.2,180.5h.01M459.4,185.0h.01M457.0,119.7h.01M457.7,119.0h.01M456.8,135.4h.01M458.0,151.4h.01M458.0,119.7h.01M466.6,173.3h.01M467.9,189.8h.01M466.7,180.3h.01M464.8,112.7h.01M465.3,181.8h.01M467.5,140.6h.01M464.2,123.1h.01M466.3,175.7h.01M465.7,125.1h.01M466.0,120.8h.01M464.2,163.0h.01M464.9,123.1h.01M464.7,144.8h.01M464.2,120.5h.01M463.9,136.5h.01M466.3,148.4h.01M467.5,174.5h.01M464.8,172.9h.01M464.5,116.9h.01M465.2,162.2h.01M463.7,116.4h.01M465.5,130.3h.01M465.1,115.3h.01M466.3,180.0h.01M467.0,132.2h.01M468.0,186.0h.01M466.7,181.8h.01M467.2,191.8h.01M467.6,131.1h.01M465.3,123.5h.01M465.1,117.0h.01M464.8,117.5h.01M464.7,153.3h.01M467.3,179.8h.01M466.4,154.5h.01M464.5,137.3h.01M466.5,177.0h.01M464.4,118.1h.01M466.5,185.6h.01M467.8,186.7h.01M465.5,159.1h.01M466.1,171.1h.01M466.7,183.6h.01M466.3,186.8h.01M463.6,116.8h.01M465.9,121.7h.01M464.4,131.1h.01M465.7,171.1h.01M464.2,114.7h.01M468.6,187.6h.01M465.5,182.4h.01M465.4,117.7h.01M467.8,152.4h.01M466.4,129.3h.01M465.9,170.4h.01M468.0,173.6h.01M466.9,143.2h.01M465.4,154.3h.01M467.4,162.7h.01M464.6,132.8h.01M464.7,119.0h.01M467.2,135.3h.01M465.6,155.5h.01M467.2,167.4h.01M466.2,189.6h.01M467.4,165.0h.01M464.2,116.3h.01M464.2,162.3h.01M465.8,124.3h.01M468.0,142.8h.01M466.1,189.0h.01M465.8,162.4h.01M465.7,156.1h.01M465.5,127.6h.01M465.4,116.1h.01M465.8,123.3h.01M464.3,143.7h.01M466.5,191.0h.01M465.4,118.9h.01M467.0,191.0h.01M466.8,175.6h.01M464.6,118.6h.01M465.9,157.5h.01M465.0,112.6h.01M472.2,115.3h.01M472.2,118.3h.01M471.7,114.7h.01M472.3,118.1h.01M472.3,124.1h.01M472.6,133.5h.01" stroke="#000" stroke-width="1.8" stroke-linecap="square" fill="none"/>
<path d="M294.8,89.4L297.8,89.7L300.8,90.4L303.9,91.4L306.9,92.9L309.9,95.1L312.9,97.3L315.9,99.7L319.0,102.4L322.0,105.2L325.0,107.8L328.0,109.9L331.0,111.3L334.1,112.5L337.1,113.6L340.1,114.6L343.1,115.5L346.1,116.2L349.2,116.7L352.2,117.0L355.2,117.0L358.2,116.9L361.2,116.8L364.3,116.7L367.3,116.5L370.3,116.4L373.3,116.2L376.3,116.0L379.4,115.8L382.4,115.5L385.4,115.2L388.4,114.8L391.5,114.5L394.5,114.2L397.5,113.9L400.5,113.6L403.5,113.4L406.6,113.2L409.6,112.9L412.6,112.7L415.6,112.5L418.6,112.4L421.7,112.3L424.7,112.3L427.7,112.3L430.7,112.4L433.7,112.5L436.8,112.6L439.8,112.7L442.8,112.8L445.8,112.9L448.8,113.1L451.9,113.2L454.9,113.4L457.9,113.6L460.9,113.9L463.9,114.1L467.0,114.4L470.0,114.7L473.0,115.0" stroke="#1414c8" stroke-width="1.8" fill="none"/>
<path d="M294.8,216.6L297.8,216.4L300.8,215.8L303.9,215.0L306.9,213.8L309.9,212.0L312.9,210.0L315.9,207.6L319.0,204.7L322.0,201.6L325.0,198.7L328.0,196.3L331.0,194.6L334.1,193.3L337.1,192.0L340.1,190.8L343.1,189.8L346.1,189.0L349.2,188.4L352.2,188.1L355.2,188.1L358.2,188.2L361.2,188.3L364.3,188.5L367.3,188.7L370.3,188.9L373.3,189.2L376.3,189.4L379.4,189.7L382.4,190.0L385.4,190.4L388.4,190.8L391.5,191.2L394.5,191.6L397.5,192.0L400.5,192.4L403.5,192.7L406.6,193.0L409.6,193.4L412.6,193.7L415.6,194.0L418.6,194.2L421.7,194.3L424.7,194.3L427.7,194.3L430.7,194.2L433.7,194.1L436.8,194.0L439.8,193.9L442.8,193.8L445.8,193.7L448.8,193.6L451.9,193.4L454.9,193.3L457.9,193.1L460.9,192.9L463.9,192.7L467.0,192.5L470.0,192.3L473.0,192.0" stroke="#1414c8" stroke-width="1.8" fill="none"/>
<path d="M294.8,223.2v-1.8M294.8,82.8v1.8M312.5,223.2v-3.0M312.5,82.8v3.0M330.3,223.2v-1.8M330.3,82.8v1.8M348.0,223.2v-1.8M348.0,82.8v1.8M365.8,223.2v-1.8M365.8,82.8v1.8M383.5,223.2v-3.0M383.5,82.8v3.0M401.3,223.2v-1.8M401.3,82.8v1.8M419.0,223.2v-1.8M419.0,82.8v1.8M436.8,223.2v-1.8M436.8,82.8v1.8M454.5,223.2v-3.0M454.5,82.8v3.0M472.3,223.2v-1.8M472.3,82.8v1.8M294.8,216.6h3.0M473.0,216.6h-3.0M294.8,184.8h1.8M473.0,184.8h-1.8M294.8,153.0h3.0M473.0,153.0h-3.0M294.8,121.2h1.8M473.0,121.2h-1.8M294.8,89.4h3.0M473.0,89.4h-3.0" stroke="#7a7a7a" stroke-width="1" fill="none"/>
<rect x="294.8" y="82.8" width="178.2" height="140.4" fill="none" stroke="#7a7a7a" stroke-width="1.3"/>
<text x="462.5" y="95.2" font-size="11.7" text-anchor="end">(b)</text>
<text x="312.5" y="235.7" font-size="11.7" text-anchor="middle">0.1</text>
<text x="383.5" y="235.7" font-size="11.7" text-anchor="middle">0.5</text>
<text x="454.5" y="235.7" font-size="11.7" text-anchor="middle">0.9</text>
<path d="M480.2,104.6h.01M480.9,189.3h.01M480.0,107.0h.01M481.9,214.0h.01M479.4,95.8h.01M478.9,93.0h.01M481.7,184.6h.01M480.3,103.4h.01M478.6,95.5h.01M483.3,210.7h.01M480.5,114.1h.01M481.7,203.0h.01M479.6,104.5h.01M482.2,202.2h.01M483.3,191.1h.01M480.2,138.2h.01M479.6,97.0h.01M479.6,94.3h.01M481.1,165.3h.01M480.5,120.7h.01M482.2,217.6h.01M480.1,136.6h.01M481.3,176.7h.01M480.4,127.4h.01M480.3,124.2h.01M479.0,90.8h.01M481.2,166.4h.01M479.8,117.8h.01M483.1,211.4h.01M482.2,188.8h.01M481.4,169.9h.01M482.7,191.4h.01M479.0,95.9h.01M481.9,174.1h.01M482.4,201.9h.01M478.9,90.7h.01M481.0,116.5h.01M479.5,105.5h.01M481.4,183.1h.01M479.3,92.5h.01M481.5,181.1h.01M479.6,119.1h.01M479.4,109.6h.01M482.9,213.1h.01M479.7,158.9h.01M479.9,105.3h.01M481.8,170.5h.01M480.5,165.2h.01M479.8,106.2h.01M481.9,185.2h.01M480.9,121.4h.01M480.8,168.3h.01M479.1,126.6h.01M479.5,122.2h.01M480.4,137.1h.01M479.9,94.9h.01M481.8,210.7h.01M481.3,193.3h.01M479.7,105.5h.01M482.2,211.5h.01M481.9,211.8h.01M479.3,89.0h.01M481.5,162.8h.01M481.1,140.2h.01M482.1,184.2h.01M478.8,100.6h.01M482.8,203.3h.01M479.6,156.7h.01M481.5,190.3h.01M481.1,133.2h.01M482.2,202.4h.01M479.7,114.6h.01M481.4,198.5h.01M479.7,109.2h.01M482.3,217.6h.01M480.1,125.0h.01M479.2,92.2h.01M480.3,127.8h.01M481.6,191.0h.01M480.2,145.7h.01M482.3,172.9h.01M482.6,208.5h.01M479.9,131.4h.01M480.7,138.2h.01M489.6,211.7h.01M488.7,125.3h.01M489.4,208.3h.01M487.3,98.0h.01M490.2,145.3h.01M488.6,89.4h.01M487.6,99.7h.01M488.3,158.4h.01M489.8,168.4h.01M490.4,209.7h.01M487.7,104.6h.01M487.3,92.0h.01M489.1,154.0h.01M488.8,214.6h.01M486.8,94.8h.01M487.6,98.2h.01M488.8,106.2h.01M487.5,109.9h.01M487.8,139.2h.01M487.6,139.3h.01M489.7,166.5h.01M490.1,178.9h.01M491.4,201.4h.01M486.9,95.1h.01M487.8,112.4h.01M490.5,192.2h.01M490.8,206.1h.01M489.8,184.6h.01M488.1,96.1h.01M490.3,209.6h.01M487.5,97.8h.01M487.2,97.9h.01M487.2,108.9h.01M488.0,113.6h.01M489.7,155.5h.01M488.8,125.0h.01M487.7,162.8h.01M487.5,93.7h.01M488.3,120.1h.01M489.8,208.8h.01M488.3,123.7h.01M487.4,96.6h.01M490.7,212.0h.01M490.7,209.1h.01M488.8,96.3h.01M489.6,182.3h.01M486.5,95.5h.01M489.1,129.1h.01M487.0,95.8h.01M487.9,100.6h.01M491.6,161.3h.01M487.9,102.8h.01M489.0,160.7h.01M488.9,184.2h.01M488.1,98.1h.01M490.7,193.1h.01M489.4,150.2h.01M487.3,108.8h.01M490.3,197.8h.01M488.3,108.6h.01M487.4,110.8h.01M488.3,122.3h.01M488.7,156.1h.01M489.0,155.5h.01M488.4,156.8h.01M486.7,92.7h.01M486.9,95.0h.01M488.4,131.0h.01M489.9,211.5h.01M487.9,126.0h.01M488.0,95.4h.01M488.9,140.8h.01M488.6,100.2h.01M490.4,207.5h.01M489.7,180.9h.01M490.2,103.8h.01M487.2,112.1h.01M488.4,111.6h.01M489.0,174.0h.01M488.8,122.3h.01M487.4,90.7h.01M490.5,175.1h.01M490.7,210.9h.01M490.3,198.2h.01M495.5,141.8h.01M495.6,99.8h.01M498.4,191.3h.01M496.0,153.7h.01M497.0,196.5h.01M497.5,155.3h.01M496.7,207.6h.01M497.8,205.2h.01M498.6,206.2h.01M494.7,100.3h.01M495.2,101.2h.01M497.4,200.5h.01M495.0,159.3h.01M497.7,164.9h.01M495.0,140.2h.01M496.7,136.8h.01M496.1,155.7h.01M496.0,138.9h.01M496.7,166.0h.01M494.8,139.7h.01M496.4,123.3h.01M498.1,199.2h.01M495.1,98.8h.01M498.2,199.4h.01M497.1,142.3h.01M494.8,113.7h.01M497.9,118.4h.01M495.2,118.4h.01M496.7,179.8h.01M495.6,129.9h.01M499.0,179.6h.01M498.1,183.1h.01M496.4,142.5h.01M497.1,198.9h.01M496.7,124.4h.01M496.5,167.2h.01M497.0,164.7h.01M497.3,198.1h.01M494.1,95.8h.01M498.8,205.5h.01M494.7,106.6h.01M498.4,205.3h.01M495.6,96.9h.01M496.0,178.4h.01M498.4,197.9h.01M495.8,150.5h.01M494.4,113.1h.01M497.5,110.1h.01M497.6,204.8h.01M496.0,194.2h.01M497.3,206.7h.01M498.8,203.0h.01M495.0,102.9h.01M497.2,196.3h.01M497.0,149.5h.01M497.3,132.3h.01M495.3,136.7h.01M495.1,134.4h.01M496.8,99.0h.01M497.7,200.9h.01M496.6,197.5h.01M496.1,123.6h.01M495.3,130.5h.01M497.1,207.9h.01M494.5,120.4h.01M495.8,145.4h.01M496.7,191.9h.01M496.5,198.1h.01M494.6,103.2h.01M496.3,110.3h.01M495.3,106.8h.01M495.4,96.7h.01M499.2,188.4h.01M497.1,185.2h.01M495.3,172.4h.01M497.2,185.6h.01M496.5,140.8h.01M498.0,205.2h.01M497.7,198.3h.01M496.2,125.4h.01M495.6,107.6h.01M496.3,113.6h.01M498.3,132.0h.01M497.5,182.5h.01M503.0,101.9h.01M505.4,138.3h.01M504.0,110.5h.01M504.8,156.1h.01M505.0,184.8h.01M504.0,110.4h.01M506.4,190.6h.01M504.2,163.4h.01M502.6,121.2h.01M506.2,198.0h.01M505.3,194.5h.01M502.7,103.2h.01M505.3,180.5h.01M502.8,113.1h.01M503.6,150.9h.01M506.5,178.6h.01M506.9,180.5h.01M506.1,206.6h.01M505.7,200.2h.01M506.8,197.8h.01M502.4,123.3h.01M502.3,107.0h.01M503.5,107.0h.01M505.2,181.6h.01M503.1,116.4h.01M503.4,137.6h.01M502.8,114.3h.01M504.8,187.6h.01M505.5,198.7h.01M503.6,105.8h.01M503.7,152.4h.01M506.2,199.9h.01M504.8,99.0h.01M503.7,123.2h.01M505.5,188.9h.01M504.9,162.1h.01M503.9,109.7h.01M503.2,109.9h.01M503.3,111.7h.01M505.4,117.3h.01M503.8,153.8h.01M503.8,132.6h.01M503.5,114.9h.01M505.4,201.3h.01M506.4,196.6h.01M506.3,174.1h.01M506.1,204.8h.01M505.3,202.6h.01M506.7,187.9h.01M505.6,159.5h.01M506.0,137.9h.01M503.4,160.8h.01M506.6,200.0h.01M503.4,194.1h.01M503.9,111.4h.01M506.7,200.1h.01M504.2,155.3h.01M503.2,99.7h.01M504.7,188.5h.01M505.9,181.7h.01M505.0,152.9h.01M505.8,155.2h.01M503.3,123.4h.01M505.2,192.1h.01M504.1,104.7h.01M505.5,100.9h.01M505.4,197.9h.01M505.1,157.6h.01M504.0,154.2h.01M505.5,185.7h.01M503.2,128.0h.01M505.8,201.1h.01M504.0,123.2h.01M505.9,202.9h.01M506.4,198.4h.01M504.6,116.5h.01M505.4,200.8h.01M503.6,108.2h.01M505.2,143.2h.01M505.8,185.5h.01M504.4,185.8h.01M504.6,148.9h.01M504.5,136.0h.01M506.6,205.9h.01M509.8,124.0h.01M511.7,140.1h.01M512.3,105.9h.01M512.4,111.4h.01M512.7,165.9h.01M510.8,125.2h.01M511.2,139.1h.01M513.8,173.2h.01M511.5,157.2h.01M510.2,108.7h.01M511.8,118.7h.01M514.3,198.9h.01M510.7,110.7h.01M510.4,104.7h.01M513.3,192.6h.01M510.9,102.8h.01M510.1,136.2h.01M511.5,120.6h.01M511.0,108.9h.01M512.3,154.9h.01M513.1,178.5h.01M512.5,170.2h.01M510.4,117.9h.01M513.7,145.1h.01M511.8,124.5h.01M514.0,197.8h.01M513.5,151.6h.01M510.1,133.2h.01M514.0,202.5h.01M511.1,149.3h.01M510.2,122.7h.01M514.1,197.3h.01M512.2,134.0h.01M511.7,161.5h.01M514.0,196.5h.01M514.4,197.9h.01M510.8,107.9h.01M513.3,197.0h.01M513.7,173.1h.01M514.0,198.2h.01M511.3,130.0h.01M510.6,106.6h.01M512.6,184.5h.01M513.1,106.3h.01M511.2,172.0h.01M513.7,184.1h.01M510.1,105.9h.01M514.2,198.7h.01M511.9,175.5h.01M510.8,107.4h.01M511.2,143.9h.01M513.6,190.0h.01M511.5,121.4h.01M510.7,146.4h.01M511.8,184.8h.01M511.5,164.6h.01M510.4,103.6h.01M511.4,139.0h.01M513.3,183.8h.01M513.7,157.1h.01M510.5,129.1h.01M514.4,196.9h.01M511.8,162.3h.01M512.7,143.5h.01M512.7,172.3h.01M513.6,157.9h.01M513.5,197.0h.01M514.2,182.7h.01M512.2,166.6h.01M511.8,128.5h.01M514.0,201.6h.01M513.3,113.9h.01M512.5,150.7h.01M510.6,128.9h.01M512.7,105.3h.01M510.4,105.1h.01M513.5,195.6h.01M510.9,120.4h.01M512.5,148.1h.01M512.7,161.8h.01M510.3,126.2h.01M514.7,190.4h.01M511.0,170.7h.01M514.1,167.9h.01M520.4,134.6h.01M522.5,197.8h.01M519.9,192.5h.01M521.9,186.2h.01M520.5,151.1h.01M519.1,116.1h.01M521.9,166.0h.01M520.5,113.0h.01M521.2,124.5h.01M520.4,110.3h.01M519.8,109.3h.01M518.7,120.3h.01M519.3,117.4h.01M519.9,150.1h.01M521.2,193.6h.01M519.1,197.3h.01M519.6,132.1h.01M521.2,152.6h.01M518.8,149.8h.01M517.9,105.1h.01M517.9,114.9h.01M520.9,198.9h.01M520.0,195.5h.01M522.3,167.1h.01M518.8,112.0h.01M520.6,182.9h.01M519.3,121.1h.01M520.8,173.5h.01M520.7,174.9h.01M518.6,108.5h.01M518.5,109.6h.01M522.1,188.0h.01M519.7,109.5h.01M522.2,167.8h.01M519.4,107.4h.01M519.3,155.2h.01M521.1,151.6h.01M518.5,109.2h.01M520.4,151.0h.01M522.3,196.6h.01M519.2,107.9h.01M519.2,129.9h.01M519.9,121.1h.01M520.0,107.7h.01M519.5,140.1h.01M520.5,168.3h.01M521.8,193.9h.01M518.4,110.9h.01M522.7,186.0h.01M521.0,194.0h.01M521.9,139.8h.01M519.1,161.4h.01M520.2,195.0h.01M518.6,116.4h.01M517.8,111.0h.01M521.2,189.6h.01M519.4,128.9h.01M518.9,128.3h.01M519.4,100.2h.01M519.5,110.8h.01M521.8,168.1h.01M521.8,200.5h.01M522.0,195.9h.01M520.6,128.1h.01M519.0,109.5h.01M519.7,115.2h.01M521.7,178.7h.01M518.8,105.7h.01M521.6,168.9h.01M520.0,113.9h.01M521.4,195.7h.01M520.9,199.8h.01M519.8,189.9h.01M521.5,169.3h.01M521.7,169.3h.01M522.0,202.0h.01M521.5,191.8h.01M518.2,108.4h.01M519.8,138.4h.01M522.1,163.4h.01M519.4,169.2h.01M519.8,103.8h.01M521.6,143.3h.01M521.8,199.6h.01M529.2,182.2h.01M526.9,104.5h.01M529.5,116.6h.01M528.0,136.5h.01M527.7,176.8h.01M528.5,200.2h.01M528.3,133.6h.01M529.5,160.9h.01M527.2,144.4h.01M526.7,133.2h.01M526.7,102.3h.01M529.4,202.6h.01M527.4,195.8h.01M526.8,111.0h.01M529.7,156.7h.01M527.0,117.0h.01M527.2,190.3h.01M529.1,201.4h.01M530.1,191.6h.01M529.5,201.2h.01M530.2,166.7h.01M527.7,157.6h.01M528.5,108.1h.01M527.3,107.4h.01M529.7,170.5h.01M530.0,176.7h.01M525.1,154.6h.01M527.3,186.2h.01M529.2,194.5h.01M528.1,143.4h.01M529.6,188.0h.01M528.1,129.5h.01M530.3,198.0h.01M526.7,108.5h.01M529.1,195.9h.01M529.7,201.8h.01M529.7,192.4h.01M529.6,185.8h.01M527.9,108.2h.01M528.2,192.1h.01M528.1,122.3h.01M526.0,107.0h.01M529.6,127.4h.01M526.1,115.6h.01M526.0,106.4h.01M527.0,112.0h.01M529.6,156.3h.01M529.8,183.0h.01M527.4,129.0h.01M528.3,129.5h.01M527.1,131.3h.01M527.8,116.6h.01M527.2,122.9h.01M530.3,197.8h.01M528.0,147.6h.01M526.8,113.0h.01M526.8,105.6h.01M526.8,110.4h.01M526.7,114.3h.01M527.6,103.2h.01M529.8,179.2h.01M529.6,199.3h.01M527.5,115.8h.01M527.2,113.4h.01M528.3,127.7h.01M526.1,113.2h.01M530.0,193.8h.01M526.7,105.8h.01M527.5,111.4h.01M529.1,149.0h.01M529.9,200.8h.01M529.3,140.7h.01M528.2,191.3h.01M527.2,178.4h.01M527.1,108.4h.01M531.0,169.1h.01M526.8,107.4h.01M529.9,196.9h.01M529.8,194.0h.01M529.4,147.7h.01M529.5,115.8h.01M527.4,107.5h.01M529.3,186.6h.01M528.0,171.8h.01M537.4,203.4h.01M535.3,116.4h.01M533.8,103.0h.01M535.3,108.0h.01M537.9,195.6h.01M537.3,200.9h.01M535.5,105.0h.01M536.9,118.4h.01M535.4,114.9h.01M535.3,122.8h.01M536.1,203.6h.01M538.6,191.9h.01M534.7,133.2h.01M537.3,107.2h.01M538.1,191.8h.01M536.0,159.3h.01M537.5,170.7h.01M535.8,116.5h.01M533.5,140.2h.01M535.8,172.6h.01M536.6,103.6h.01M536.4,185.6h.01M535.2,100.8h.01M534.2,102.8h.01M534.2,123.6h.01M535.0,126.9h.01M534.9,202.9h.01M536.9,180.9h.01M535.2,111.7h.01M537.8,184.4h.01M537.6,200.0h.01M537.8,160.3h.01M537.9,204.1h.01M537.7,199.7h.01M536.2,175.0h.01M536.2,119.2h.01M536.4,147.4h.01M534.9,117.7h.01M534.3,135.1h.01M538.0,199.3h.01M536.7,187.3h.01M537.5,170.5h.01M536.9,196.9h.01M536.5,175.5h.01M536.0,148.9h.01M534.7,105.3h.01M535.2,160.1h.01M537.8,189.1h.01M534.6,154.5h.01M536.0,116.4h.01M535.0,104.8h.01M537.2,152.4h.01M536.8,195.2h.01M534.4,111.5h.01M536.8,199.1h.01M537.6,197.6h.01M535.7,174.9h.01M536.6,126.3h.01M536.1,131.8h.01M535.9,141.8h.01M536.1,158.7h.01M535.2,109.8h.01M535.8,185.2h.01M534.8,191.2h.01M537.5,194.8h.01M536.3,114.4h.01M538.2,133.2h.01M536.4,189.2h.01M537.6,103.7h.01M537.5,199.7h.01M537.0,203.0h.01M535.8,108.1h.01M537.1,197.0h.01M534.8,102.5h.01M537.8,176.6h.01M536.5,172.7h.01M537.0,117.7h.01M536.8,169.6h.01M536.6,178.9h.01M534.7,116.6h.01M535.4,198.0h.01M534.7,99.6h.01M535.6,193.3h.01M537.1,190.0h.01M543.3,126.7h.01M542.6,101.0h.01M541.8,111.6h.01M545.9,188.0h.01M544.1,105.0h.01M546.1,196.3h.01M543.1,122.6h.01M544.4,199.1h.01M543.6,137.5h.01M545.2,176.3h.01M542.4,128.2h.01M542.6,154.4h.01M543.2,109.0h.01M545.9,199.4h.01M542.7,168.5h.01M544.0,148.2h.01M543.1,124.3h.01M542.7,151.1h.01M546.2,196.1h.01M543.7,155.9h.01M543.4,208.2h.01M545.4,141.5h.01M545.0,169.8h.01M546.1,189.4h.01M542.7,170.4h.01M545.0,189.8h.01M542.8,102.2h.01M545.5,197.1h.01M543.6,184.5h.01M545.7,200.9h.01M542.6,140.9h.01M544.9,205.5h.01M543.6,202.5h.01M541.6,106.9h.01M543.7,118.2h.01M543.0,111.0h.01M544.1,190.7h.01M544.9,178.7h.01M544.4,167.2h.01M542.9,137.8h.01M546.0,202.2h.01M546.3,206.1h.01M545.4,207.7h.01M545.0,142.2h.01M543.0,101.8h.01M545.9,165.8h.01M544.2,153.1h.01M544.3,143.3h.01M543.2,113.3h.01M544.5,203.3h.01M546.3,200.2h.01M543.2,178.3h.01M543.2,153.4h.01M544.5,106.4h.01M542.1,165.3h.01M543.5,102.5h.01M543.8,115.5h.01M544.3,129.2h.01M542.5,136.7h.01M546.6,201.9h.01M546.4,175.0h.01M546.0,131.3h.01M543.6,139.9h.01M544.2,196.1h.01M545.6,201.4h.01M545.5,203.3h.01M546.3,201.3h.01M545.0,167.6h.01M543.0,168.4h.01M542.5,129.8h.01M543.0,147.8h.01M547.2,203.8h.01M543.5,123.5h.01M544.1,166.2h.01M545.3,202.9h.01M542.5,130.7h.01M543.1,128.2h.01M544.6,154.8h.01M543.5,101.9h.01M542.9,108.4h.01M544.8,144.9h.01M542.6,119.9h.01M544.9,175.4h.01M544.1,202.3h.01M550.8,128.9h.01M551.7,115.1h.01M553.0,171.4h.01M552.7,123.8h.01M550.6,141.8h.01M550.1,161.2h.01M550.7,102.8h.01M550.4,120.6h.01M553.2,186.8h.01M553.2,166.7h.01M551.8,153.8h.01M551.8,199.5h.01M552.4,184.3h.01M553.1,202.1h.01M553.4,199.1h.01M551.6,143.2h.01M552.1,162.5h.01M553.7,201.3h.01M553.0,190.7h.01M552.2,152.3h.01M551.9,121.2h.01M550.4,103.5h.01M551.3,166.9h.01M550.9,108.7h.01M551.7,101.3h.01M551.0,105.7h.01M554.7,196.9h.01M551.1,142.2h.01M552.8,150.4h.01M549.5,105.9h.01M552.2,201.4h.01M553.0,198.7h.01M552.0,106.0h.01M550.7,148.7h.01M552.6,162.8h.01M552.8,167.3h.01M550.3,114.7h.01M552.1,109.3h.01M550.8,103.6h.01M551.7,209.6h.01M552.3,201.0h.01M552.0,175.9h.01M553.7,194.6h.01M552.7,184.0h.01M553.4,196.6h.01M551.1,105.3h.01M550.7,165.7h.01M552.6,204.8h.01M550.9,187.3h.01M553.4,158.6h.01M551.6,196.5h.01M549.5,119.9h.01M552.1,181.4h.01M553.1,173.9h.01M550.1,187.7h.01M552.9,203.5h.01M551.0,147.6h.01M551.3,192.1h.01M551.6,162.0h.01M552.5,111.2h.01M551.9,184.5h.01M553.2,198.9h.01M550.6,148.8h.01M552.8,195.8h.01M549.7,100.6h.01M553.1,185.6h.01M552.6,152.7h.01M551.2,116.0h.01M552.0,138.4h.01M551.4,197.6h.01M554.3,190.9h.01M550.6,104.4h.01M551.2,202.6h.01M551.9,121.5h.01M550.9,127.8h.01M550.7,104.0h.01M552.7,128.3h.01M551.4,114.2h.01M552.1,133.0h.01M551.5,124.0h.01M553.6,207.4h.01M553.6,203.1h.01M551.9,110.4h.01M553.9,204.3h.01M559.9,123.6h.01M558.0,150.7h.01M558.7,104.9h.01M559.3,162.5h.01M557.5,130.7h.01M559.5,104.5h.01M560.3,201.3h.01M557.8,103.3h.01M561.2,144.7h.01M559.9,108.7h.01M559.5,135.5h.01M560.4,201.8h.01M561.2,171.1h.01M558.7,99.9h.01M558.7,100.7h.01M560.4,191.6h.01M561.9,99.5h.01M558.8,200.3h.01M559.8,161.9h.01M557.6,105.2h.01M557.9,114.1h.01M562.1,205.7h.01M561.1,153.6h.01M560.6,196.2h.01M558.0,205.9h.01M560.1,136.8h.01M560.3,145.3h.01M559.6,107.2h.01M561.0,130.5h.01M561.8,183.5h.01M559.3,116.7h.01M557.8,119.0h.01M558.7,140.6h.01M561.1,203.3h.01M561.6,134.5h.01M560.8,205.5h.01M561.0,200.8h.01M559.9,206.1h.01M558.4,128.0h.01M558.9,104.6h.01M557.9,170.2h.01M559.7,203.9h.01M559.0,164.9h.01M560.8,158.8h.01M560.1,195.9h.01M561.4,149.4h.01M560.0,178.3h.01M560.3,206.8h.01M559.6,105.5h.01M561.4,105.5h.01M561.0,197.9h.01M558.2,104.1h.01M558.9,99.1h.01M558.5,101.7h.01M560.4,172.1h.01M559.6,99.7h.01M558.8,106.4h.01M559.7,109.2h.01M558.6,103.6h.01M562.5,133.6h.01M561.9,203.4h.01M558.3,100.5h.01M560.3,192.6h.01M560.4,187.4h.01M559.9,157.2h.01M559.8,105.4h.01M561.3,179.0h.01M558.8,98.1h.01M561.0,195.6h.01M559.5,187.0h.01M559.9,197.8h.01M560.1,202.8h.01M560.8,193.1h.01M559.0,108.2h.01M558.9,100.4h.01M558.9,108.4h.01M559.0,199.8h.01M558.0,101.9h.01M561.9,108.6h.01M560.2,162.8h.01M558.3,174.8h.01M561.4,169.3h.01M560.3,201.6h.01M558.9,116.3h.01M568.1,146.8h.01M567.9,186.6h.01M568.2,108.0h.01M567.2,143.5h.01M565.8,179.3h.01M568.6,200.5h.01M569.2,97.5h.01M567.5,151.5h.01M568.2,147.5h.01M569.2,129.5h.01M569.1,99.4h.01M567.3,177.9h.01M566.8,104.2h.01M565.7,161.6h.01M568.1,162.7h.01M569.9,113.9h.01M567.9,187.6h.01M568.4,164.2h.01M566.4,109.0h.01M565.5,99.6h.01M566.9,188.9h.01M568.0,152.1h.01M566.6,97.3h.01M570.1,137.8h.01M567.6,137.3h.01M566.0,130.3h.01M568.6,196.5h.01M569.6,184.7h.01M570.2,206.5h.01M570.2,172.0h.01M567.3,206.1h.01M569.7,146.1h.01M567.3,189.9h.01M569.1,200.6h.01M567.7,186.6h.01M567.7,153.2h.01M565.3,98.7h.01M566.5,192.3h.01M568.9,173.6h.01M567.3,196.4h.01M567.6,139.5h.01M567.1,179.9h.01M565.6,203.0h.01M566.5,139.1h.01M566.1,98.8h.01M567.9,193.7h.01M568.4,191.7h.01M566.8,101.2h.01M566.0,102.5h.01M566.8,177.4h.01M566.5,114.6h.01M568.7,178.6h.01M569.5,191.8h.01M566.6,140.5h.01M567.4,206.8h.01M567.4,183.6h.01M565.0,206.7h.01M568.8,180.8h.01M566.5,103.3h.01M566.4,204.2h.01M566.0,105.5h.01M567.0,106.2h.01M567.8,196.4h.01M566.8,185.7h.01M567.1,144.6h.01M566.5,177.8h.01M567.8,189.8h.01M567.3,111.8h.01M567.2,202.8h.01M568.5,199.7h.01M566.4,138.4h.01M567.0,100.4h.01M567.4,205.3h.01M567.2,110.8h.01M566.8,120.0h.01M569.5,191.1h.01M565.9,103.9h.01M566.5,138.7h.01M566.5,115.7h.01M566.2,111.4h.01M569.3,165.0h.01M567.2,158.3h.01M568.4,202.4h.01M568.0,132.4h.01M576.4,168.8h.01M573.7,122.8h.01M578.5,171.6h.01M576.7,160.3h.01M575.1,121.8h.01M574.9,154.3h.01M576.5,127.8h.01M576.6,198.5h.01M577.2,196.8h.01M575.9,155.4h.01M576.0,115.2h.01M573.9,120.9h.01M577.8,131.2h.01M574.7,176.7h.01M574.2,108.5h.01M577.1,200.5h.01M577.0,199.3h.01M575.6,197.4h.01M575.9,172.2h.01M577.0,203.6h.01M575.7,188.3h.01M573.7,159.6h.01M577.9,199.5h.01M576.8,186.9h.01M577.5,181.3h.01M574.0,176.2h.01M574.7,128.8h.01M574.7,107.2h.01M576.3,174.6h.01M577.0,198.9h.01M575.5,148.6h.01M574.4,100.3h.01M574.5,103.0h.01M576.6,172.7h.01M574.8,106.1h.01M576.4,101.2h.01M574.7,176.9h.01M575.6,137.3h.01M575.1,171.2h.01M577.1,139.7h.01M577.3,170.3h.01M574.1,152.4h.01M576.2,157.6h.01M576.4,196.6h.01M574.9,102.8h.01M574.9,115.2h.01M574.7,120.9h.01M577.5,191.2h.01M576.2,162.7h.01M573.6,140.9h.01M575.4,208.2h.01M575.4,196.8h.01M573.9,103.9h.01M575.2,202.5h.01M575.2,177.8h.01M576.2,113.3h.01M574.7,118.0h.01M575.8,170.2h.01M574.0,135.3h.01M575.3,101.5h.01M573.9,172.7h.01M575.8,147.4h.01M573.9,137.0h.01M574.9,113.5h.01M576.0,198.9h.01M573.9,133.2h.01M574.0,188.1h.01M576.7,132.8h.01M576.7,181.7h.01M573.6,135.7h.01M575.4,180.4h.01M577.5,192.7h.01M574.5,104.5h.01M574.6,187.4h.01M573.5,160.6h.01M576.3,178.9h.01M573.4,151.2h.01M575.8,138.3h.01M574.3,110.6h.01M576.6,197.1h.01M573.8,119.8h.01M575.3,103.5h.01M575.6,195.5h.01M573.6,103.9h.01M582.5,136.8h.01M581.9,124.3h.01M584.0,191.0h.01M582.2,151.3h.01M583.3,131.9h.01M585.0,165.1h.01M582.2,103.1h.01M583.0,204.3h.01M583.0,130.9h.01M585.1,168.2h.01M585.2,169.2h.01M581.7,134.5h.01M583.3,134.3h.01M583.7,188.6h.01M581.7,151.9h.01M583.3,112.7h.01M584.3,147.8h.01M584.8,192.7h.01M583.0,99.4h.01M582.8,165.5h.01M583.3,104.4h.01M581.8,155.2h.01M581.5,99.1h.01M582.3,154.1h.01M581.9,126.6h.01M583.0,203.2h.01M583.7,115.9h.01M583.5,142.3h.01M583.9,203.6h.01M583.9,109.8h.01M584.7,171.9h.01M584.4,199.3h.01M581.7,103.4h.01M582.1,140.8h.01M581.5,110.1h.01M583.6,138.6h.01M582.9,188.7h.01M583.9,196.1h.01M583.6,179.4h.01M584.0,171.8h.01M583.0,166.8h.01M583.5,194.6h.01M581.4,153.1h.01M583.8,122.4h.01M581.1,123.5h.01M583.7,111.8h.01M583.6,127.5h.01M581.6,121.5h.01M583.4,108.8h.01M583.5,113.7h.01M584.1,199.2h.01M583.8,201.3h.01M582.4,197.8h.01M581.8,156.2h.01M582.1,105.6h.01M586.1,179.8h.01M583.8,178.4h.01M585.3,195.7h.01M581.8,102.2h.01M581.7,185.7h.01M585.1,205.8h.01M582.1,109.4h.01M583.3,133.5h.01M583.1,171.0h.01M583.2,114.0h.01M585.0,170.4h.01M581.4,118.1h.01M583.7,204.4h.01M582.7,144.3h.01M584.3,199.9h.01M583.0,203.8h.01M583.1,186.6h.01M583.5,109.0h.01M582.4,198.5h.01M585.0,106.1h.01M583.4,201.0h.01M583.3,181.2h.01M584.1,124.0h.01M583.1,121.6h.01M584.4,119.2h.01M585.1,111.4h.01M585.3,130.4h.01M583.2,161.1h.01M582.6,139.3h.01M592.6,187.3h.01M592.7,197.6h.01M591.3,200.9h.01M592.2,107.1h.01M591.7,134.4h.01M590.3,163.6h.01M589.5,185.7h.01M592.5,189.6h.01M593.2,199.2h.01M589.4,114.8h.01M589.6,161.0h.01M592.0,202.5h.01M591.5,127.6h.01M592.7,139.7h.01M590.7,178.7h.01M590.6,144.4h.01M590.3,127.0h.01M593.1,202.5h.01M590.7,170.3h.01M591.1,100.8h.01M592.2,169.1h.01M591.9,202.9h.01M590.1,108.3h.01M589.3,121.5h.01M593.2,195.9h.01M589.2,199.3h.01M592.7,182.6h.01M591.2,129.6h.01M590.2,106.0h.01M593.3,151.6h.01M591.0,106.9h.01M591.8,104.5h.01M590.6,167.4h.01M592.8,186.5h.01M590.2,152.6h.01M591.7,104.3h.01M592.7,100.7h.01M589.7,170.8h.01M592.2,158.9h.01M590.4,191.7h.01M590.2,151.3h.01M591.7,187.7h.01M591.8,198.4h.01M590.1,108.3h.01M592.6,140.4h.01M592.2,201.1h.01M591.5,198.4h.01M592.3,189.9h.01M592.2,196.9h.01M592.8,169.9h.01M593.5,194.0h.01M589.9,102.3h.01M591.2,179.5h.01M591.8,194.0h.01M591.8,202.1h.01M593.2,185.5h.01M591.2,119.3h.01M589.9,104.5h.01M591.6,156.9h.01M588.4,115.0h.01M593.2,197.4h.01M591.3,148.9h.01M589.5,114.6h.01M591.4,177.5h.01M589.9,106.8h.01M592.2,113.8h.01M589.3,125.5h.01M590.1,119.8h.01M590.3,104.5h.01M590.9,148.2h.01M591.2,103.3h.01M589.2,167.2h.01M589.1,102.8h.01M592.1,177.8h.01M592.4,168.4h.01M592.7,99.1h.01M592.6,206.0h.01M590.2,146.0h.01M591.4,131.5h.01M591.6,189.4h.01M591.0,198.8h.01M591.9,128.4h.01M591.1,108.1h.01M592.2,163.4h.01M599.7,188.2h.01M597.7,107.6h.01M599.2,107.3h.01M600.9,193.2h.01M598.0,109.6h.01M598.3,103.5h.01M600.6,189.5h.01M600.1,194.2h.01M597.6,102.6h.01M597.9,103.1h.01M599.9,203.8h.01M600.1,172.2h.01M598.6,101.2h.01M598.2,120.6h.01M597.7,106.7h.01M600.5,160.2h.01M601.3,156.9h.01M597.7,164.6h.01M598.4,123.1h.01M597.8,190.3h.01M598.8,178.8h.01M600.2,156.7h.01M599.0,137.7h.01M599.4,186.6h.01M599.6,122.0h.01M598.8,140.1h.01M600.3,163.0h.01M598.3,113.3h.01M598.4,112.6h.01M600.5,202.1h.01M598.9,100.6h.01M596.8,123.9h.01M600.8,198.0h.01M598.9,180.6h.01M600.6,149.3h.01M597.9,193.7h.01M601.2,121.5h.01M598.7,110.8h.01M600.0,152.6h.01M598.7,163.5h.01M601.0,197.8h.01M601.1,201.9h.01M600.2,200.9h.01M600.5,108.7h.01M600.3,202.4h.01M599.9,135.3h.01M600.5,113.2h.01M598.2,104.6h.01M598.7,201.5h.01M600.6,172.4h.01M597.7,116.7h.01M598.7,114.9h.01M599.9,197.5h.01M601.1,202.9h.01M601.2,188.4h.01M599.5,190.7h.01M599.7,164.8h.01M598.3,153.2h.01M598.8,156.4h.01M598.8,169.4h.01M598.2,154.8h.01M599.4,181.2h.01M598.5,186.4h.01M601.0,173.1h.01M601.4,149.4h.01M599.0,162.2h.01M597.5,124.7h.01M598.0,135.1h.01M597.9,119.6h.01M597.8,170.0h.01M598.3,154.8h.01M597.5,146.9h.01M597.9,197.6h.01M600.6,193.2h.01M598.0,108.2h.01M598.3,123.6h.01M600.7,195.8h.01M598.8,114.2h.01M600.9,130.3h.01M600.1,107.2h.01M599.4,134.0h.01M600.4,173.5h.01M597.3,103.7h.01M599.9,161.4h.01M605.5,107.1h.01M604.9,173.6h.01M605.8,119.0h.01M607.5,197.0h.01M606.0,110.0h.01M605.8,112.8h.01M605.8,171.9h.01M605.5,198.4h.01M608.3,153.3h.01M607.6,185.2h.01M605.4,153.8h.01M607.3,176.4h.01M607.5,196.2h.01M606.5,101.5h.01M606.6,143.2h.01M608.9,194.0h.01M605.1,112.6h.01M604.4,111.9h.01M606.0,155.6h.01M606.5,202.4h.01M606.8,150.4h.01M608.0,190.6h.01M607.3,157.9h.01M606.2,105.6h.01M606.9,201.8h.01M607.9,156.1h.01M608.5,157.1h.01M607.7,203.3h.01M608.4,111.3h.01M604.9,110.5h.01M607.5,171.0h.01M605.7,110.1h.01M606.9,140.9h.01M608.4,161.3h.01M609.4,198.7h.01M606.8,170.4h.01M608.0,190.8h.01M606.5,132.2h.01M606.0,111.3h.01M605.3,109.5h.01M606.4,194.9h.01M606.1,164.1h.01M608.2,198.6h.01M606.9,169.6h.01M609.1,165.2h.01M607.7,205.6h.01M608.1,148.9h.01M609.0,180.3h.01M606.5,116.7h.01M605.4,120.3h.01M607.9,154.6h.01M608.2,161.2h.01M606.7,129.9h.01M606.0,136.5h.01M605.3,102.0h.01M606.4,103.0h.01M609.5,204.3h.01M608.0,201.9h.01M608.8,200.2h.01M606.2,146.1h.01M606.2,170.9h.01M608.2,193.5h.01M606.3,149.9h.01M605.2,106.6h.01M605.6,166.1h.01M606.7,177.2h.01M607.4,197.7h.01M606.5,113.7h.01M608.1,107.7h.01M607.3,127.9h.01M606.3,134.7h.01M606.5,136.2h.01M608.4,184.2h.01M606.4,204.8h.01M608.8,126.4h.01M610.1,119.0h.01M607.5,166.6h.01M608.7,148.7h.01M608.0,145.7h.01M608.2,200.8h.01M606.7,159.5h.01M604.7,138.8h.01M608.4,117.6h.01M608.1,172.1h.01M614.9,144.0h.01M614.9,179.8h.01M615.2,170.5h.01M613.5,108.1h.01M613.4,106.5h.01M613.7,117.0h.01M615.6,122.9h.01M616.8,200.4h.01M612.9,119.5h.01M612.6,171.1h.01M614.5,142.8h.01M616.3,131.0h.01M616.0,110.8h.01M613.4,152.0h.01M613.7,191.9h.01M615.0,160.8h.01M616.1,123.8h.01M616.3,192.6h.01M615.3,115.9h.01M615.6,197.6h.01M615.8,186.4h.01M614.1,117.1h.01M616.1,199.2h.01M613.4,104.3h.01M616.0,197.7h.01M614.8,119.2h.01M615.4,188.6h.01M616.4,194.0h.01M613.5,121.2h.01M614.4,108.2h.01M616.2,122.0h.01M615.9,108.9h.01M615.2,174.5h.01M613.7,181.9h.01M614.2,186.4h.01M615.5,141.1h.01M615.4,116.1h.01M615.7,199.2h.01M616.4,126.3h.01M615.1,174.6h.01M616.5,194.3h.01M615.3,200.7h.01M615.0,199.1h.01M616.4,175.5h.01M615.5,168.8h.01M617.2,175.7h.01M613.9,130.3h.01M615.0,166.3h.01M613.9,127.6h.01M616.2,198.1h.01M613.7,124.3h.01M615.0,201.0h.01M613.7,170.6h.01M614.7,159.2h.01M612.7,102.5h.01M613.9,142.1h.01M615.8,111.3h.01M615.8,200.7h.01M613.0,106.5h.01M615.4,201.2h.01M612.3,122.1h.01M614.0,108.0h.01M615.5,193.5h.01M615.5,197.8h.01M614.6,114.4h.01M615.9,137.9h.01M614.4,133.5h.01M615.3,125.0h.01M614.4,113.2h.01M616.9,195.2h.01M615.6,200.1h.01M614.7,177.9h.01M613.5,149.5h.01M616.3,174.0h.01M617.1,171.1h.01M613.7,109.5h.01M616.6,200.5h.01M614.1,183.6h.01M615.9,115.7h.01M615.1,118.5h.01M615.5,199.7h.01M615.0,124.8h.01M615.8,200.1h.01M616.0,184.0h.01M622.4,108.0h.01M620.8,113.7h.01M623.8,185.8h.01M624.7,173.6h.01M623.0,111.4h.01M622.6,111.6h.01M622.0,145.9h.01M621.9,107.6h.01M622.8,135.0h.01M623.8,125.6h.01M622.0,201.5h.01M622.7,112.7h.01M621.0,132.1h.01M622.9,156.6h.01M623.3,189.0h.01M623.0,143.3h.01M621.3,108.7h.01M621.9,117.4h.01M624.5,185.5h.01M625.2,199.2h.01M623.3,131.7h.01M624.6,173.2h.01M622.0,125.9h.01M622.8,127.5h.01M622.9,160.9h.01M620.8,129.8h.01M622.2,127.8h.01M622.8,142.9h.01M623.6,165.8h.01M622.3,134.7h.01M622.2,106.9h.01M623.6,188.7h.01M623.4,118.4h.01M622.5,111.2h.01M622.8,188.5h.01M621.3,113.8h.01M622.5,147.3h.01M622.8,112.3h.01M624.3,120.7h.01M622.1,101.6h.01M621.5,104.4h.01M620.3,106.8h.01M624.2,140.8h.01M623.3,177.8h.01M624.4,191.6h.01M623.7,188.8h.01M624.0,169.6h.01M621.5,118.8h.01M623.1,195.3h.01M620.4,110.6h.01M622.6,155.2h.01M624.1,186.9h.01M622.0,107.6h.01M622.1,173.1h.01M621.7,106.6h.01M623.7,190.9h.01M625.1,198.7h.01M623.1,157.5h.01M622.7,137.2h.01M620.5,112.7h.01M624.0,199.6h.01M622.3,109.0h.01M621.5,176.9h.01M621.7,163.9h.01M621.5,152.0h.01M624.2,153.7h.01M622.7,155.9h.01M623.8,184.3h.01M623.2,131.9h.01M624.2,197.8h.01M622.2,119.3h.01M622.7,109.1h.01M624.8,121.5h.01M623.3,195.4h.01M621.5,106.9h.01M624.0,130.8h.01M622.9,181.4h.01M623.9,145.9h.01M624.4,202.6h.01M623.6,147.3h.01M622.7,168.2h.01M622.9,159.6h.01M624.2,122.1h.01M624.4,147.6h.01M630.6,108.1h.01M632.0,198.4h.01M629.4,133.6h.01M631.5,173.2h.01M629.4,112.5h.01M630.5,191.2h.01M631.3,194.6h.01M628.4,171.7h.01M632.1,134.4h.01M632.0,179.9h.01M629.2,119.7h.01M631.1,161.7h.01M633.1,199.4h.01M630.0,193.4h.01M629.9,167.1h.01M630.4,185.3h.01M629.2,167.4h.01M628.9,115.3h.01M631.8,198.8h.01M630.7,137.7h.01M632.7,148.0h.01M632.1,198.7h.01M631.7,190.5h.01M630.3,143.3h.01M632.7,121.1h.01M628.3,148.7h.01M632.0,181.6h.01M633.1,191.6h.01M631.0,197.3h.01M630.4,108.5h.01M632.1,147.2h.01M629.3,188.9h.01M630.8,187.3h.01M630.6,134.3h.01M629.2,149.4h.01M631.3,185.4h.01M632.6,195.0h.01M631.4,117.8h.01M629.9,131.8h.01M631.1,169.3h.01M632.8,190.8h.01M629.7,130.5h.01M632.3,196.4h.01M629.4,136.3h.01M630.2,107.4h.01M628.3,111.4h.01M632.0,121.3h.01M630.9,196.9h.01M631.9,142.9h.01M630.0,118.2h.01M629.0,115.4h.01M630.2,188.1h.01M629.7,140.9h.01M631.3,163.2h.01M630.8,186.0h.01M630.4,121.5h.01M629.6,128.2h.01M630.3,106.0h.01M631.3,142.2h.01M629.6,149.2h.01M632.4,159.6h.01M630.1,121.4h.01M630.1,117.4h.01M631.6,196.4h.01M630.1,109.7h.01M632.2,158.9h.01M632.5,199.2h.01M629.8,155.8h.01M630.6,178.3h.01M632.0,199.8h.01M628.2,193.1h.01M631.5,156.1h.01M631.8,196.5h.01M629.8,148.9h.01M628.6,105.7h.01M629.5,115.3h.01M631.7,202.6h.01M630.6,108.4h.01M632.4,115.3h.01M629.5,124.1h.01M633.1,140.5h.01M632.6,153.0h.01M629.8,174.7h.01M630.3,175.0h.01M637.4,195.4h.01M639.5,165.9h.01M639.7,178.0h.01M637.6,104.2h.01M638.7,178.0h.01M639.1,196.8h.01M637.6,197.2h.01M638.7,171.2h.01M638.0,164.0h.01M638.2,106.7h.01M639.9,184.2h.01M638.1,191.1h.01M640.3,116.8h.01M636.1,112.5h.01M640.3,144.0h.01M637.3,126.8h.01M639.4,197.0h.01M636.2,119.1h.01M637.9,107.9h.01M638.8,109.2h.01M638.3,110.2h.01M639.1,192.9h.01M638.2,191.6h.01M637.1,111.9h.01M639.1,163.1h.01M638.4,112.9h.01M637.8,131.2h.01M639.3,185.1h.01M640.0,194.3h.01M637.2,152.7h.01M637.0,155.6h.01M639.5,176.6h.01M639.8,138.1h.01M636.8,108.7h.01M638.4,110.0h.01M639.4,195.7h.01M637.5,106.5h.01M638.8,155.8h.01M637.3,145.1h.01M639.2,164.4h.01M637.5,168.6h.01M640.0,190.7h.01M636.7,132.7h.01M639.4,198.8h.01M638.3,148.2h.01M640.0,178.9h.01M637.9,107.0h.01M639.8,191.0h.01M639.0,107.0h.01M637.3,127.8h.01M640.5,189.7h.01M637.6,150.2h.01M637.5,195.4h.01M638.2,120.3h.01M639.8,195.3h.01M639.5,174.2h.01M637.2,104.0h.01M639.9,193.6h.01M637.5,110.9h.01M639.5,197.0h.01M637.0,147.1h.01M639.1,110.7h.01M637.1,139.7h.01M639.6,196.4h.01M638.7,167.6h.01M638.4,120.2h.01M640.5,162.6h.01M639.5,158.9h.01M637.4,102.0h.01M637.8,136.3h.01M639.3,120.9h.01M638.0,131.7h.01M636.3,174.7h.01M638.2,198.9h.01M637.3,167.1h.01M636.8,109.8h.01M637.5,154.4h.01M637.1,110.1h.01M639.7,133.9h.01M638.8,133.7h.01M639.7,191.4h.01M639.8,106.8h.01M640.5,162.1h.01M639.1,137.0h.01M648.6,117.6h.01M648.3,173.2h.01M647.7,197.8h.01M646.4,120.0h.01M645.2,113.8h.01M648.6,139.6h.01M647.4,171.5h.01M645.8,145.8h.01M645.2,141.5h.01M644.8,150.4h.01M648.2,152.7h.01M648.2,165.8h.01M647.2,172.9h.01M644.8,118.9h.01M647.7,150.5h.01M644.3,115.2h.01M645.6,190.0h.01M647.9,180.1h.01M647.0,150.7h.01M646.0,112.2h.01M646.0,109.7h.01M646.5,122.8h.01M647.6,160.5h.01M647.1,189.6h.01M644.7,113.6h.01M645.8,110.8h.01M645.6,150.5h.01M646.3,131.8h.01M646.8,105.7h.01M647.9,112.6h.01M644.3,195.2h.01M645.1,106.2h.01M647.9,138.7h.01M646.5,151.5h.01M645.7,153.8h.01M645.4,146.8h.01M645.1,106.6h.01M647.6,188.1h.01M647.0,165.0h.01M644.1,109.3h.01M647.6,187.1h.01M645.9,142.2h.01M647.3,189.9h.01M644.3,112.5h.01M645.8,183.5h.01M647.7,114.7h.01M647.2,107.4h.01M646.6,190.9h.01M645.1,112.3h.01M646.1,136.0h.01M645.3,113.1h.01M646.0,109.5h.01M646.2,123.9h.01M646.5,194.2h.01M647.5,113.7h.01M647.5,193.0h.01M646.8,156.9h.01M644.7,179.9h.01M646.9,177.9h.01M648.0,123.7h.01M645.3,135.5h.01M644.5,183.4h.01M644.7,110.1h.01M644.8,113.8h.01M645.3,112.9h.01M644.3,171.1h.01M645.6,123.9h.01M645.8,112.8h.01M646.6,149.7h.01M648.2,170.3h.01M647.0,193.3h.01M644.8,114.8h.01M647.4,107.0h.01M647.5,197.1h.01M647.7,114.7h.01M647.2,110.7h.01M645.6,184.1h.01M648.5,124.1h.01M647.1,131.9h.01M646.4,117.7h.01M646.8,176.1h.01M645.8,188.0h.01M645.1,110.8h.01M647.0,131.4h.01M653.1,124.0h.01M653.1,128.9h.01M651.6,125.5h.01M653.1,110.6h.01M652.5,108.8h.01M652.5,107.5h.01M652.5,175.7h.01" stroke="#000" stroke-width="1.8" stroke-linecap="square" fill="none"/>
<path d="M478.2,89.4L481.2,90.0L484.1,90.9L487.1,92.3L490.1,94.4L493.0,96.3L496.0,98.1L499.0,99.8L502.0,101.3L504.9,102.3L507.9,103.1L510.9,103.8L513.8,104.4L516.8,104.9L519.8,105.0L522.7,105.0L525.7,104.7L528.7,104.3L531.7,103.9L534.6,103.4L537.6,103.0L540.6,102.6L543.5,102.2L546.5,101.7L549.5,101.2L552.4,100.8L555.4,100.3L558.4,100.0L561.3,99.7L564.3,99.6L567.3,99.6L570.3,99.7L573.2,99.9L576.2,100.2L579.2,100.6L582.1,101.0L585.1,101.3L588.1,101.7L591.0,102.1L594.0,102.4L597.0,102.7L599.9,103.0L602.9,103.4L605.9,103.8L608.9,104.1L611.8,104.5L614.8,104.8L617.8,105.1L620.7,105.4L623.7,105.7L626.7,105.9L629.6,106.2L632.6,106.4L635.6,106.6L638.6,106.8L641.5,107.0L644.5,107.1L647.5,107.3L650.4,107.5L653.4,107.6" stroke="#1414c8" stroke-width="1.8" fill="none"/>
<path d="M478.2,216.6L481.2,216.2L484.1,215.4L487.1,214.2L490.1,212.2L493.0,210.4L496.0,208.6L499.0,206.9L502.0,205.4L504.9,204.4L507.9,203.5L510.9,202.7L513.8,202.1L516.8,201.7L519.8,201.5L522.7,201.6L525.7,201.8L528.7,202.3L531.7,202.8L534.6,203.3L537.6,203.7L540.6,204.0L543.5,204.3L546.5,204.7L549.5,205.0L552.4,205.3L555.4,205.6L558.4,205.8L561.3,206.0L564.3,206.0L567.3,206.0L570.3,205.9L573.2,205.7L576.2,205.5L579.2,205.2L582.1,204.9L585.1,204.6L588.1,204.2L591.0,203.9L594.0,203.6L597.0,203.3L599.9,203.0L602.9,202.6L605.9,202.2L608.9,201.8L611.8,201.5L614.8,201.1L617.8,200.8L620.7,200.5L623.7,200.3L626.7,200.1L629.6,199.9L632.6,199.7L635.6,199.6L638.6,199.4L641.5,199.3L644.5,199.2L647.5,199.0L650.4,198.9L653.4,198.9" stroke="#1414c8" stroke-width="1.8" fill="none"/>
<path d="M478.2,223.2v-1.8M478.2,82.8v1.8M495.7,223.2v-3.0M495.7,82.8v3.0M513.1,223.2v-1.8M513.1,82.8v1.8M530.6,223.2v-1.8M530.6,82.8v1.8M548.0,223.2v-1.8M548.0,82.8v1.8M565.5,223.2v-3.0M565.5,82.8v3.0M582.9,223.2v-1.8M582.9,82.8v1.8M600.4,223.2v-1.8M600.4,82.8v1.8M617.8,223.2v-1.8M617.8,82.8v1.8M635.3,223.2v-3.0M635.3,82.8v3.0M652.7,223.2v-1.8M652.7,82.8v1.8M478.2,216.6h3.0M653.4,216.6h-3.0M478.2,184.8h1.8M653.4,184.8h-1.8M478.2,153.0h3.0M653.4,153.0h-3.0M478.2,121.2h1.8M653.4,121.2h-1.8M478.2,89.4h3.0M653.4,89.4h-3.0" stroke="#7a7a7a" stroke-width="1" fill="none"/>
<rect x="478.2" y="82.8" width="175.2" height="140.4" fill="none" stroke="#7a7a7a" stroke-width="1.3"/>
<text x="642.9" y="95.2" font-size="11.7" text-anchor="end">(c)</text>
<text x="495.7" y="235.7" font-size="11.7" text-anchor="middle">0.1</text>
<text x="565.5" y="235.7" font-size="11.7" text-anchor="middle">0.5</text>
<text x="635.3" y="235.7" font-size="11.7" text-anchor="middle">0.9</text>
<path d="M662.5,207.6h.01M660.2,205.8h.01M660.2,160.1h.01M659.0,99.4h.01M658.8,120.9h.01M660.9,203.9h.01M662.6,213.3h.01M661.9,217.8h.01M660.0,118.1h.01M659.0,92.4h.01M659.7,120.7h.01M658.9,89.8h.01M657.9,87.8h.01M661.0,211.9h.01M660.0,104.7h.01M659.6,102.4h.01M661.4,180.2h.01M662.4,188.4h.01M661.1,188.8h.01M661.4,174.4h.01M659.1,173.3h.01M662.2,210.4h.01M661.3,187.4h.01M660.6,156.9h.01M660.0,183.2h.01M661.5,208.1h.01M662.2,211.0h.01M662.7,207.7h.01M657.6,93.1h.01M660.3,178.7h.01M660.1,103.1h.01M659.9,107.6h.01M661.9,209.9h.01M660.5,202.7h.01M662.5,210.7h.01M660.0,99.9h.01M657.7,90.2h.01M659.4,97.5h.01M659.4,97.7h.01M659.6,120.6h.01M661.4,196.5h.01M659.2,107.7h.01M660.7,175.6h.01M662.2,212.6h.01M659.3,130.9h.01M661.1,154.7h.01M658.3,89.6h.01M659.4,116.9h.01M661.4,186.1h.01M660.6,189.9h.01M660.7,200.4h.01M658.5,140.1h.01M661.7,215.2h.01M662.2,202.1h.01M661.0,169.3h.01M660.6,197.4h.01M662.1,197.2h.01M661.6,124.8h.01M659.7,105.1h.01M662.7,198.8h.01M659.1,135.6h.01M658.3,92.3h.01M658.3,106.7h.01M660.7,152.0h.01M660.8,136.4h.01M659.9,192.4h.01M660.4,164.7h.01M662.4,217.6h.01M661.4,214.9h.01M659.6,122.6h.01M662.0,210.9h.01M660.7,179.6h.01M659.8,92.0h.01M662.7,215.7h.01M660.2,143.9h.01M660.5,180.8h.01M658.8,91.2h.01M659.1,95.1h.01M660.7,153.6h.01M661.1,174.0h.01M660.9,203.7h.01M661.7,212.8h.01M658.5,96.1h.01M659.3,90.6h.01M668.1,188.3h.01M669.5,168.1h.01M667.0,131.1h.01M669.5,211.5h.01M669.4,212.8h.01M667.7,96.7h.01M667.4,126.9h.01M667.2,96.3h.01M668.1,185.1h.01M668.0,111.9h.01M669.8,215.9h.01M666.4,141.5h.01M670.2,207.5h.01M668.8,159.9h.01M667.5,127.8h.01M668.5,182.7h.01M667.0,110.1h.01M669.5,195.4h.01M669.1,137.4h.01M668.8,212.1h.01M668.0,117.1h.01M669.0,200.0h.01M666.4,134.2h.01M667.0,101.0h.01M666.5,102.1h.01M667.3,142.1h.01M668.6,186.4h.01M669.1,203.4h.01M666.7,157.2h.01M669.2,187.8h.01M668.4,135.2h.01M666.5,124.2h.01M665.4,102.4h.01M667.2,110.4h.01M668.7,200.6h.01M667.5,164.2h.01M667.6,101.7h.01M669.8,212.2h.01M667.9,156.0h.01M667.2,147.3h.01M668.1,140.1h.01M667.6,109.9h.01M666.3,92.5h.01M669.3,186.4h.01M667.3,119.0h.01M669.7,212.1h.01M665.7,92.3h.01M667.5,90.4h.01M668.2,122.3h.01M669.4,185.4h.01M666.4,98.5h.01M667.4,121.3h.01M668.4,136.3h.01M666.0,102.8h.01M667.6,94.2h.01M667.1,92.8h.01M666.1,89.8h.01M668.2,184.1h.01M669.6,176.2h.01M667.5,111.9h.01M667.7,99.3h.01M667.4,108.8h.01M668.6,189.7h.01M666.5,96.2h.01M666.3,93.8h.01M669.5,187.6h.01M666.8,114.7h.01M667.9,123.0h.01M668.6,182.1h.01M667.6,113.2h.01M667.2,125.2h.01M666.2,118.9h.01M667.7,97.3h.01M668.2,126.8h.01M669.2,210.6h.01M667.4,162.7h.01M668.7,160.9h.01M667.7,173.0h.01M668.8,184.1h.01M667.2,91.2h.01M667.3,138.2h.01M669.8,207.3h.01M668.7,156.3h.01M668.8,191.1h.01M675.3,106.4h.01M673.4,96.8h.01M674.9,115.9h.01M674.1,132.0h.01M677.1,194.5h.01M677.0,174.5h.01M676.0,172.6h.01M675.9,141.3h.01M677.1,168.0h.01M677.8,206.9h.01M677.5,205.9h.01M677.0,200.2h.01M674.4,97.7h.01M676.5,182.5h.01M677.1,176.9h.01M677.0,202.5h.01M675.7,131.5h.01M674.9,121.0h.01M677.8,211.0h.01M672.7,103.7h.01M674.1,105.5h.01M676.6,120.7h.01M675.9,186.2h.01M676.5,172.1h.01M674.2,91.9h.01M677.9,203.7h.01M677.0,185.4h.01M676.0,160.1h.01M677.6,205.5h.01M674.8,112.1h.01M674.8,106.1h.01M677.8,196.4h.01M675.6,124.7h.01M674.6,103.4h.01M676.3,180.8h.01M677.4,203.0h.01M675.8,121.6h.01M674.8,116.3h.01M677.3,182.3h.01M677.4,204.1h.01M676.1,112.1h.01M675.4,106.0h.01M675.4,97.7h.01M675.5,109.1h.01M678.1,197.9h.01M674.1,165.7h.01M675.1,95.6h.01M677.2,192.2h.01M675.1,154.5h.01M676.9,146.3h.01M676.8,135.9h.01M674.1,115.3h.01M675.7,116.7h.01M674.8,98.3h.01M677.2,119.8h.01M677.4,178.4h.01M675.0,120.7h.01M675.2,115.5h.01M676.1,206.3h.01M676.7,189.2h.01M677.1,207.1h.01M674.6,104.1h.01M676.2,154.9h.01M677.6,186.2h.01M675.8,163.0h.01M677.4,125.5h.01M674.9,118.0h.01M673.4,92.7h.01M677.4,210.5h.01M675.2,207.2h.01M674.4,92.5h.01M675.5,142.3h.01M677.3,181.8h.01M673.7,97.7h.01M675.2,159.4h.01M675.2,118.7h.01M677.7,209.2h.01M675.0,166.7h.01M675.7,138.8h.01M676.7,174.9h.01M673.9,113.8h.01M676.2,175.1h.01M677.6,192.6h.01M677.9,134.8h.01M684.9,205.3h.01M684.5,172.3h.01M683.5,114.6h.01M683.8,101.3h.01M683.4,116.7h.01M684.3,207.4h.01M685.3,212.7h.01M685.6,211.1h.01M682.2,156.2h.01M683.6,133.8h.01M685.4,198.3h.01M684.2,102.9h.01M682.2,113.0h.01M682.0,138.7h.01M683.8,171.3h.01M686.4,206.4h.01M685.0,174.4h.01M685.3,169.8h.01M684.4,160.7h.01M683.7,157.9h.01M683.1,159.6h.01M683.4,102.0h.01M685.6,197.3h.01M683.9,122.5h.01M681.1,101.2h.01M684.2,165.6h.01M686.1,203.8h.01M682.9,95.3h.01M684.4,181.3h.01M684.1,176.6h.01M684.5,195.2h.01M682.2,128.9h.01M681.7,146.7h.01M682.7,130.0h.01M682.1,107.9h.01M683.9,204.0h.01M684.5,182.5h.01M684.6,201.9h.01M682.4,94.3h.01M683.1,100.2h.01M682.9,96.8h.01M684.7,198.4h.01M684.3,199.3h.01M682.2,166.8h.01M681.8,100.2h.01M685.3,207.9h.01M684.3,201.1h.01M682.2,97.0h.01M683.6,119.6h.01M682.0,94.7h.01M684.3,114.6h.01M685.2,159.0h.01M685.9,192.6h.01M684.6,159.2h.01M683.8,115.9h.01M683.9,96.5h.01M684.6,205.5h.01M685.6,199.6h.01M683.9,157.5h.01M686.0,205.9h.01M684.1,159.5h.01M682.9,191.0h.01M684.9,112.7h.01M685.9,209.0h.01M685.3,207.3h.01M684.8,199.9h.01M684.5,178.6h.01M684.5,200.0h.01M683.2,133.4h.01M684.3,203.9h.01M684.6,151.1h.01M683.5,106.9h.01M685.5,200.5h.01M682.3,115.8h.01M682.8,162.0h.01M684.7,100.4h.01M682.1,119.2h.01M684.3,208.4h.01M682.1,94.4h.01M683.9,109.6h.01M684.7,192.0h.01M682.6,108.4h.01M683.3,92.0h.01M684.1,157.0h.01M689.8,105.5h.01M692.2,198.0h.01M690.8,122.2h.01M690.6,104.7h.01M691.7,157.9h.01M691.5,203.3h.01M692.0,207.0h.01M693.2,211.3h.01M693.3,203.8h.01M692.9,206.9h.01M692.0,136.2h.01M689.2,101.4h.01M690.9,130.2h.01M689.8,100.6h.01M690.6,185.3h.01M693.1,191.5h.01M692.1,199.1h.01M692.1,181.2h.01M690.5,100.5h.01M693.0,179.7h.01M690.6,153.4h.01M691.4,157.5h.01M693.1,194.0h.01M693.3,150.2h.01M691.9,185.7h.01M694.1,195.6h.01M691.8,161.7h.01M691.8,129.2h.01M691.8,100.0h.01M691.2,194.2h.01M691.6,134.8h.01M692.2,202.0h.01M691.7,131.0h.01M693.1,156.4h.01M691.3,143.6h.01M690.8,169.3h.01M693.0,166.1h.01M691.2,132.1h.01M690.1,101.1h.01M689.9,189.2h.01M690.4,117.0h.01M691.2,107.1h.01M691.0,122.6h.01M691.5,192.2h.01M692.3,140.0h.01M692.5,197.5h.01M692.6,149.5h.01M691.2,141.0h.01M691.3,204.7h.01M692.4,119.8h.01M692.6,189.4h.01M690.3,118.7h.01M693.4,211.1h.01M691.2,202.8h.01M692.0,105.0h.01M692.0,170.4h.01M692.5,158.2h.01M692.2,118.5h.01M693.4,194.2h.01M692.1,171.0h.01M692.9,200.9h.01M691.8,207.7h.01M691.0,104.1h.01M692.5,207.2h.01M692.2,210.4h.01M690.0,98.6h.01M693.3,210.3h.01M691.4,116.1h.01M689.6,133.0h.01M690.2,93.2h.01M692.8,185.3h.01M691.6,108.5h.01M691.4,106.3h.01M690.9,153.4h.01M693.4,197.9h.01M690.6,140.2h.01M691.8,180.6h.01M691.9,162.6h.01M691.2,200.8h.01M690.3,99.9h.01M690.0,118.8h.01M692.2,202.4h.01M691.4,166.2h.01M692.8,212.3h.01M698.5,137.2h.01M697.9,177.2h.01M697.5,122.3h.01M700.0,201.3h.01M698.9,96.7h.01M699.2,101.5h.01M701.0,209.0h.01M699.3,125.5h.01M698.7,201.5h.01M701.4,174.2h.01M699.4,150.2h.01M697.9,104.7h.01M697.4,104.0h.01M698.9,94.5h.01M697.9,103.4h.01M698.3,107.0h.01M699.7,196.8h.01M700.5,141.4h.01M697.6,97.5h.01M699.3,201.6h.01M700.6,206.7h.01M699.0,195.2h.01M700.8,195.5h.01M698.7,112.7h.01M697.4,111.3h.01M700.1,162.7h.01M697.8,96.3h.01M698.2,95.3h.01M699.6,119.5h.01M698.7,102.7h.01M698.9,111.6h.01M700.8,160.9h.01M699.4,140.5h.01M701.1,192.2h.01M699.3,194.3h.01M698.5,202.4h.01M697.9,98.9h.01M699.1,201.4h.01M698.6,146.7h.01M699.6,113.8h.01M698.3,110.3h.01M700.4,124.3h.01M698.6,190.4h.01M698.2,103.5h.01M698.7,190.6h.01M699.8,199.7h.01M697.1,95.9h.01M699.1,102.8h.01M699.3,192.7h.01M699.8,143.4h.01M700.8,205.6h.01M697.5,129.4h.01M699.5,154.6h.01M701.4,206.5h.01M697.7,165.0h.01M698.5,104.7h.01M699.0,145.1h.01M700.2,156.6h.01M701.0,108.1h.01M700.0,171.9h.01M699.8,169.0h.01M699.9,197.0h.01M699.9,168.6h.01M697.4,101.9h.01M700.7,191.4h.01M698.0,102.2h.01M697.5,104.6h.01M699.9,122.9h.01M700.1,185.8h.01M699.4,175.6h.01M697.8,141.2h.01M700.7,150.2h.01M698.1,99.0h.01M698.8,101.2h.01M700.2,166.3h.01M697.4,109.8h.01M698.3,198.2h.01M698.3,110.7h.01M698.2,147.8h.01M701.3,192.2h.01M698.0,140.1h.01M699.1,100.3h.01M701.3,213.1h.01M699.2,105.8h.01M706.4,162.4h.01M709.1,206.0h.01M707.5,115.3h.01M705.1,149.6h.01M706.6,121.4h.01M708.6,178.8h.01M707.1,183.2h.01M709.0,172.5h.01M705.9,110.2h.01M706.3,92.6h.01M708.3,208.5h.01M706.0,152.8h.01M706.9,142.4h.01M706.6,106.8h.01M707.8,199.1h.01M706.1,104.1h.01M706.5,179.3h.01M706.7,123.9h.01M707.1,177.3h.01M707.8,197.6h.01M706.4,108.7h.01M704.5,102.1h.01M705.2,97.1h.01M709.1,199.5h.01M707.2,155.0h.01M706.0,120.1h.01M705.7,129.0h.01M708.6,177.9h.01M707.0,98.9h.01M707.5,204.7h.01M705.7,133.8h.01M708.0,159.7h.01M708.1,207.3h.01M708.7,93.7h.01M708.6,199.3h.01M705.4,95.0h.01M706.8,97.4h.01M706.6,112.0h.01M708.9,146.0h.01M706.0,99.8h.01M705.5,209.6h.01M705.0,198.2h.01M708.4,213.7h.01M708.6,193.0h.01M707.9,193.7h.01M707.6,209.7h.01M708.2,148.1h.01M707.3,195.5h.01M706.6,93.9h.01M706.4,187.4h.01M705.7,109.2h.01M705.7,94.7h.01M707.7,174.7h.01M706.4,137.1h.01M706.6,101.9h.01M706.9,151.7h.01M708.1,211.6h.01M707.5,172.3h.01M707.5,106.4h.01M708.4,212.3h.01M707.9,181.6h.01M706.7,98.6h.01M709.2,195.5h.01M708.2,188.4h.01M705.3,98.7h.01M706.9,196.3h.01M706.2,95.6h.01M707.3,146.0h.01M706.3,131.2h.01M705.4,98.7h.01M707.3,165.3h.01M707.4,206.0h.01M706.3,159.1h.01M706.0,98.2h.01M705.3,99.1h.01M706.6,110.7h.01M705.6,143.5h.01M708.9,211.2h.01M707.9,134.6h.01M707.4,104.7h.01M709.2,209.5h.01M705.3,99.1h.01M706.2,144.6h.01M708.7,207.6h.01M715.2,204.5h.01M714.8,161.5h.01M716.4,211.5h.01M713.7,159.2h.01M716.7,159.6h.01M713.5,114.3h.01M715.6,99.3h.01M714.6,111.1h.01M716.3,200.2h.01M715.2,209.0h.01M715.0,152.6h.01M714.5,96.4h.01M715.4,201.7h.01M715.6,201.3h.01M714.4,149.2h.01M715.6,208.0h.01M713.0,105.2h.01M714.3,163.0h.01M713.9,109.0h.01M714.2,117.2h.01M716.9,197.8h.01M715.0,189.0h.01M717.0,167.9h.01M713.5,104.6h.01M715.4,169.3h.01M716.7,205.5h.01M717.2,189.8h.01M715.5,189.1h.01M713.9,195.8h.01M715.9,208.5h.01M715.5,196.4h.01M715.3,188.5h.01M715.8,188.7h.01M715.6,178.2h.01M713.1,101.3h.01M714.2,99.1h.01M712.5,93.5h.01M716.7,210.9h.01M713.1,100.6h.01M715.0,175.3h.01M715.1,185.0h.01M716.5,180.1h.01M714.7,165.2h.01M717.4,197.9h.01M713.0,98.3h.01M712.4,95.8h.01M714.9,209.6h.01M714.1,110.9h.01M714.0,98.7h.01M715.5,195.0h.01M715.3,202.7h.01M714.7,96.4h.01M716.1,167.0h.01M713.0,122.9h.01M716.6,205.5h.01M713.0,97.1h.01M713.6,90.6h.01M713.5,110.9h.01M714.3,97.7h.01M715.6,114.0h.01M713.4,101.4h.01M714.2,175.4h.01M714.0,99.7h.01M713.0,192.5h.01M714.9,170.2h.01M714.8,129.1h.01M712.9,95.6h.01M714.4,207.1h.01M713.6,98.5h.01M714.3,145.3h.01M712.9,136.8h.01M716.7,199.9h.01M715.7,211.7h.01M714.9,123.3h.01M715.1,141.1h.01M716.3,199.9h.01M713.8,108.1h.01M717.3,197.8h.01M716.3,119.9h.01M715.4,100.9h.01M713.2,97.2h.01M716.6,149.2h.01M713.9,96.7h.01M713.4,109.3h.01M722.5,195.5h.01M721.7,102.6h.01M721.1,140.4h.01M723.1,112.3h.01M721.3,128.1h.01M722.3,138.3h.01M724.1,162.4h.01M724.1,175.7h.01M722.8,99.7h.01M722.7,210.8h.01M723.6,211.4h.01M723.7,206.4h.01M723.6,205.2h.01M723.1,153.7h.01M720.4,114.1h.01M723.0,170.8h.01M720.9,98.9h.01M721.5,99.1h.01M724.3,159.6h.01M722.7,161.6h.01M722.7,171.0h.01M724.4,123.2h.01M721.9,208.4h.01M720.5,136.2h.01M721.1,137.1h.01M723.1,178.1h.01M722.3,201.4h.01M721.7,133.6h.01M721.2,182.6h.01M722.5,145.1h.01M722.5,98.8h.01M721.6,162.7h.01M723.1,128.6h.01M724.1,212.6h.01M722.0,137.5h.01M722.5,112.6h.01M725.0,210.3h.01M720.4,131.8h.01M724.1,210.7h.01M722.2,99.4h.01M722.2,199.4h.01M724.5,153.4h.01M721.1,115.4h.01M723.6,190.5h.01M722.7,128.9h.01M721.6,146.9h.01M723.4,161.6h.01M724.2,205.9h.01M720.8,114.9h.01M720.5,103.2h.01M722.5,186.8h.01M722.5,165.5h.01M720.5,130.3h.01M722.2,141.9h.01M724.0,185.2h.01M723.3,214.2h.01M724.6,144.3h.01M722.8,199.9h.01M722.4,154.1h.01M721.3,114.3h.01M723.2,196.1h.01M723.1,210.1h.01M723.4,172.9h.01M722.6,125.2h.01M722.7,97.6h.01M724.1,190.2h.01M720.1,100.8h.01M723.3,96.6h.01M724.2,206.3h.01M722.0,104.1h.01M723.2,174.2h.01M721.4,147.3h.01M724.6,120.2h.01M722.3,154.3h.01M723.0,139.5h.01M722.0,170.6h.01M721.1,131.9h.01M722.5,90.5h.01M722.3,167.8h.01M723.8,92.3h.01M721.5,89.8h.01M721.0,100.9h.01M721.9,193.1h.01M724.1,209.2h.01M731.3,125.1h.01M728.7,108.3h.01M730.6,205.7h.01M731.2,206.8h.01M728.5,103.6h.01M728.9,103.2h.01M731.3,208.1h.01M729.9,99.3h.01M731.1,209.8h.01M731.3,170.6h.01M729.0,121.7h.01M729.0,93.0h.01M732.1,139.7h.01M729.1,93.5h.01M731.3,178.7h.01M729.9,201.0h.01M728.3,130.1h.01M731.7,103.5h.01M729.7,139.5h.01M728.8,114.9h.01M728.9,113.3h.01M732.4,188.8h.01M731.2,177.3h.01M729.7,117.1h.01M728.7,189.2h.01M731.6,193.2h.01M730.4,134.8h.01M731.0,184.1h.01M728.7,96.2h.01M731.2,211.5h.01M730.2,152.9h.01M730.4,206.2h.01M731.7,98.9h.01M729.1,143.2h.01M730.5,204.6h.01M730.6,144.8h.01M728.0,126.3h.01M731.7,206.3h.01M730.9,202.7h.01M732.3,209.2h.01M732.5,204.3h.01M731.5,169.9h.01M731.1,107.3h.01M730.1,194.9h.01M729.9,101.4h.01M730.0,158.0h.01M729.1,208.0h.01M730.1,115.5h.01M728.8,101.7h.01M729.8,113.8h.01M730.4,136.6h.01M729.3,185.4h.01M732.1,205.6h.01M729.0,149.4h.01M730.3,196.8h.01M730.7,97.1h.01M732.2,198.9h.01M731.4,138.6h.01M732.1,202.2h.01M731.3,109.5h.01M731.4,198.7h.01M731.3,194.1h.01M731.1,131.7h.01M731.3,156.1h.01M728.5,136.4h.01M729.8,125.6h.01M730.3,105.7h.01M729.5,128.0h.01M731.1,139.9h.01M732.1,208.7h.01M730.5,185.8h.01M732.3,174.6h.01M730.5,204.6h.01M731.5,152.9h.01M731.6,189.3h.01M731.6,165.5h.01M729.3,101.4h.01M730.7,206.3h.01M729.8,95.1h.01M728.9,102.8h.01M731.2,106.5h.01M730.2,121.0h.01M732.0,207.1h.01M730.9,94.4h.01M738.4,197.7h.01M737.4,186.6h.01M738.3,202.7h.01M738.1,206.8h.01M736.5,100.1h.01M738.4,103.5h.01M738.7,99.6h.01M739.8,190.7h.01M737.6,154.3h.01M737.6,203.4h.01M739.2,175.5h.01M739.6,179.6h.01M740.4,207.4h.01M736.9,101.3h.01M740.1,197.3h.01M736.4,135.9h.01M738.8,162.0h.01M737.1,202.1h.01M738.7,163.0h.01M738.1,196.9h.01M738.3,185.4h.01M738.7,118.4h.01M736.0,150.8h.01M736.7,122.3h.01M737.6,206.9h.01M738.1,112.6h.01M737.6,152.4h.01M739.8,202.4h.01M739.4,182.7h.01M737.8,115.5h.01M738.7,206.6h.01M739.0,198.6h.01M737.4,99.0h.01M736.3,103.0h.01M738.7,199.9h.01M737.7,120.8h.01M738.0,152.5h.01M738.6,198.2h.01M739.5,202.6h.01M736.1,101.9h.01M737.0,99.8h.01M738.4,199.7h.01M736.7,97.8h.01M735.6,147.3h.01M737.8,212.0h.01M736.3,106.3h.01M739.0,186.3h.01M736.2,136.3h.01M736.9,186.6h.01M736.8,173.9h.01M739.4,172.1h.01M737.7,148.3h.01M738.8,151.0h.01M738.8,161.0h.01M736.5,132.4h.01M736.2,165.1h.01M735.9,124.7h.01M740.2,204.8h.01M738.2,153.7h.01M738.2,102.2h.01M737.3,172.8h.01M736.0,97.5h.01M738.3,207.8h.01M739.2,156.7h.01M738.9,201.5h.01M736.5,144.1h.01M739.3,202.6h.01M738.8,176.8h.01M737.8,201.2h.01M738.6,209.8h.01M739.4,108.4h.01M736.9,111.3h.01M736.4,179.2h.01M739.8,136.8h.01M739.3,206.4h.01M739.8,155.9h.01M739.0,102.8h.01M736.4,166.2h.01M740.2,123.7h.01M739.4,115.3h.01M736.2,110.0h.01M738.4,199.7h.01M738.7,204.0h.01M735.9,142.6h.01M745.2,189.1h.01M746.1,105.2h.01M745.9,202.5h.01M746.5,102.4h.01M746.3,97.5h.01M744.7,138.4h.01M747.3,208.2h.01M745.5,99.0h.01M746.9,192.9h.01M745.4,208.0h.01M748.2,168.9h.01M744.5,154.4h.01M746.6,135.8h.01M744.1,98.9h.01M745.6,109.8h.01M745.0,201.2h.01M747.2,135.4h.01M745.2,99.1h.01M746.1,127.7h.01M747.6,152.5h.01M744.0,141.8h.01M746.8,201.0h.01M744.5,130.9h.01M747.2,189.3h.01M746.2,175.6h.01M747.6,133.8h.01M746.5,179.5h.01M745.3,148.4h.01M746.8,134.7h.01M745.7,167.0h.01M744.8,124.0h.01M745.0,183.0h.01M746.9,203.1h.01M743.9,183.4h.01M744.4,99.8h.01M744.2,122.1h.01M747.6,203.8h.01M744.9,208.1h.01M745.7,125.0h.01M746.4,169.4h.01M743.8,109.9h.01M747.4,196.3h.01M745.2,116.7h.01M747.3,129.5h.01M747.6,200.1h.01M745.3,191.5h.01M746.7,174.2h.01M746.2,132.1h.01M744.9,205.7h.01M747.9,209.2h.01M745.5,108.1h.01M745.1,188.4h.01M745.1,198.3h.01M745.7,176.9h.01M745.8,199.1h.01M746.1,209.1h.01M747.0,173.4h.01M748.1,201.3h.01M747.1,136.9h.01M744.3,153.3h.01M744.1,134.6h.01M747.5,199.1h.01M744.3,98.8h.01M746.8,191.0h.01M744.1,113.0h.01M746.8,200.8h.01M744.5,126.2h.01M746.3,187.4h.01M744.4,118.3h.01M747.1,136.9h.01M746.3,115.5h.01M746.6,197.3h.01M744.0,133.8h.01M745.1,152.5h.01M746.7,187.4h.01M747.2,165.6h.01M746.1,147.5h.01M744.2,147.2h.01M747.2,163.5h.01M746.4,203.2h.01M745.3,177.4h.01M745.0,97.3h.01M746.5,142.0h.01M746.9,207.1h.01M753.6,101.6h.01M753.0,120.5h.01M751.6,194.1h.01M754.6,138.9h.01M754.3,122.6h.01M754.1,171.0h.01M755.2,168.5h.01M753.7,192.9h.01M752.9,119.3h.01M752.9,173.7h.01M755.1,208.8h.01M752.2,137.1h.01M755.5,193.4h.01M755.6,199.5h.01M752.9,197.7h.01M755.4,116.9h.01M754.0,199.9h.01M752.4,197.1h.01M755.0,186.1h.01M752.4,114.0h.01M751.7,108.2h.01M755.9,204.9h.01M751.8,102.4h.01M753.6,202.7h.01M755.4,187.2h.01M753.9,104.6h.01M752.1,179.2h.01M753.5,100.6h.01M755.9,107.4h.01M754.2,130.8h.01M754.8,182.1h.01M753.5,139.6h.01M755.5,208.1h.01M753.4,124.9h.01M753.1,114.3h.01M753.7,123.1h.01M754.9,98.6h.01M753.3,207.4h.01M753.2,107.5h.01M751.4,125.6h.01M756.1,169.6h.01M753.3,148.3h.01M753.5,108.6h.01M752.7,101.6h.01M751.5,114.6h.01M752.3,98.2h.01M752.6,211.5h.01M752.6,104.6h.01M754.8,182.1h.01M753.7,144.0h.01M755.4,205.2h.01M752.1,120.7h.01M753.6,101.5h.01M755.4,186.2h.01M754.8,188.4h.01M753.2,146.2h.01M755.4,206.9h.01M756.2,204.5h.01M752.0,101.2h.01M754.1,100.9h.01M751.5,158.5h.01M753.1,136.7h.01M753.4,180.3h.01M751.5,172.6h.01M754.5,119.0h.01M755.3,105.5h.01M753.9,121.2h.01M752.5,105.5h.01M754.6,140.3h.01M756.2,182.2h.01M754.6,199.2h.01M752.1,102.3h.01M752.4,109.2h.01M755.7,98.8h.01M754.9,172.2h.01M753.1,182.4h.01M753.3,118.4h.01M754.6,194.9h.01M755.3,204.5h.01M755.0,166.9h.01M756.1,152.4h.01M754.3,128.1h.01M754.9,100.5h.01M753.5,153.4h.01M762.4,158.2h.01M761.6,133.6h.01M761.3,138.9h.01M762.0,157.3h.01M760.5,135.2h.01M759.6,100.2h.01M762.7,114.6h.01M760.4,158.4h.01M760.7,100.0h.01M759.3,118.8h.01M762.2,179.2h.01M761.3,187.4h.01M760.5,176.7h.01M760.0,105.3h.01M761.4,107.5h.01M762.8,205.0h.01M760.0,104.1h.01M762.7,139.8h.01M762.1,146.8h.01M762.1,157.3h.01M759.2,195.9h.01M762.7,172.7h.01M760.5,151.0h.01M762.2,150.4h.01M761.0,180.6h.01M761.2,178.8h.01M762.7,162.4h.01M762.4,136.8h.01M763.6,193.6h.01M763.5,175.7h.01M761.5,206.8h.01M761.7,126.3h.01M760.4,183.4h.01M761.7,193.7h.01M762.7,206.5h.01M763.0,208.2h.01M762.3,104.4h.01M761.5,96.0h.01M760.1,122.2h.01M761.6,102.5h.01M763.3,202.7h.01M762.1,101.6h.01M760.5,104.5h.01M763.2,129.5h.01M759.7,104.6h.01M760.1,107.3h.01M762.4,197.0h.01M762.5,207.5h.01M760.8,103.0h.01M761.4,150.3h.01M760.6,192.8h.01M760.5,119.1h.01M763.8,142.2h.01M762.9,151.5h.01M761.5,205.7h.01M762.4,197.3h.01M760.9,109.7h.01M762.5,196.9h.01M762.4,100.3h.01M763.2,129.1h.01M763.0,198.2h.01M761.1,200.9h.01M763.1,201.7h.01M759.6,142.9h.01M761.2,201.4h.01M760.3,156.3h.01M761.7,102.6h.01M760.3,117.7h.01M762.4,195.6h.01M762.6,178.5h.01M763.4,207.8h.01M761.1,106.3h.01M763.1,170.4h.01M760.4,101.7h.01M761.4,98.4h.01M763.1,149.8h.01M763.1,148.2h.01M761.2,137.6h.01M762.0,99.8h.01M759.6,108.6h.01M762.3,202.7h.01M760.1,174.6h.01M759.9,136.7h.01M760.2,150.5h.01M767.6,116.1h.01M769.6,196.5h.01M768.9,138.3h.01M770.0,206.8h.01M770.3,205.7h.01M768.7,196.6h.01M768.3,115.2h.01M769.9,152.2h.01M768.3,201.4h.01M769.5,196.6h.01M770.2,164.8h.01M767.2,196.7h.01M769.4,130.4h.01M767.9,100.1h.01M770.4,160.5h.01M770.4,205.3h.01M769.9,139.8h.01M769.5,202.8h.01M770.1,198.5h.01M768.6,135.3h.01M768.5,106.4h.01M767.2,167.5h.01M771.0,186.2h.01M771.2,143.7h.01M768.0,99.5h.01M771.5,195.9h.01M769.8,169.6h.01M768.0,105.2h.01M767.4,109.2h.01M768.5,160.9h.01M768.7,156.0h.01M768.8,103.2h.01M768.7,135.0h.01M767.7,117.5h.01M770.4,207.7h.01M767.8,115.1h.01M770.1,200.5h.01M768.4,100.1h.01M769.3,200.2h.01M768.8,114.9h.01M770.3,106.6h.01M770.6,102.3h.01M769.2,197.2h.01M768.7,100.6h.01M770.5,98.5h.01M768.6,114.5h.01M771.4,131.3h.01M770.6,187.6h.01M769.6,146.9h.01M768.2,131.2h.01M770.1,139.6h.01M769.7,204.1h.01M768.0,102.6h.01M767.2,150.8h.01M768.9,102.3h.01M767.8,207.0h.01M769.4,136.4h.01M768.0,138.5h.01M768.8,199.2h.01M770.8,200.8h.01M770.4,97.5h.01M771.7,105.4h.01M770.8,178.9h.01M767.8,157.7h.01M769.2,143.3h.01M769.1,105.9h.01M770.0,124.8h.01M770.2,201.3h.01M768.5,204.6h.01M770.0,203.6h.01M770.9,129.6h.01M769.8,182.6h.01M771.1,166.1h.01M768.7,129.3h.01M767.7,151.1h.01M767.5,194.3h.01M768.3,122.9h.01M771.1,198.6h.01M768.2,140.0h.01M768.1,147.0h.01M769.7,174.2h.01M766.7,124.2h.01M770.3,190.7h.01M769.4,206.5h.01M774.7,165.3h.01M776.4,158.9h.01M779.0,180.2h.01M778.4,107.0h.01M775.9,199.3h.01M775.5,128.9h.01M776.0,110.7h.01M776.7,133.9h.01M778.6,164.8h.01M777.0,144.0h.01M776.2,103.7h.01M778.3,193.2h.01M779.3,126.6h.01M775.4,200.8h.01M775.7,108.2h.01M775.8,123.0h.01M777.4,152.2h.01M776.6,182.1h.01M776.3,200.3h.01M777.2,103.0h.01M776.2,190.3h.01M777.8,142.6h.01M776.9,131.4h.01M775.1,156.5h.01M778.3,144.6h.01M775.2,163.8h.01M778.2,152.0h.01M776.7,148.3h.01M776.5,200.8h.01M777.8,126.7h.01M776.1,123.8h.01M776.1,121.4h.01M778.2,102.5h.01M776.0,100.4h.01M779.1,190.2h.01M776.6,173.2h.01M777.7,149.4h.01M779.1,139.4h.01M776.1,120.8h.01M777.1,194.5h.01M777.3,100.1h.01M775.3,108.2h.01M774.7,103.0h.01M774.7,96.3h.01M778.3,175.7h.01M778.2,152.5h.01M779.1,114.2h.01M776.0,105.8h.01M777.4,101.3h.01M776.2,198.6h.01M777.8,158.2h.01M776.0,107.2h.01M778.3,198.2h.01M778.3,104.2h.01M775.0,104.2h.01M775.8,104.6h.01M777.4,167.0h.01M778.6,198.7h.01M778.8,208.4h.01M778.5,194.2h.01M776.5,113.1h.01M777.3,199.8h.01M778.1,146.0h.01M778.0,148.7h.01M776.5,184.5h.01M778.0,173.9h.01M777.7,204.6h.01M776.1,103.8h.01M777.1,193.8h.01M778.8,131.3h.01M776.6,140.5h.01M778.8,110.4h.01M777.5,195.6h.01M776.8,104.8h.01M777.7,102.6h.01M776.3,165.8h.01M776.5,164.0h.01M777.3,206.0h.01M777.7,100.8h.01M779.7,115.9h.01M778.3,194.3h.01M775.1,103.7h.01M776.6,137.4h.01M778.1,133.4h.01M786.2,202.0h.01M784.0,118.6h.01M783.1,202.5h.01M786.2,204.2h.01M783.8,200.7h.01M783.3,133.4h.01M782.7,113.0h.01M785.0,180.5h.01M784.1,97.5h.01M783.0,95.4h.01M785.5,196.0h.01M785.7,177.2h.01M785.0,118.2h.01M786.2,183.4h.01M785.8,205.9h.01M785.5,103.8h.01M782.9,107.0h.01M783.8,135.9h.01M784.3,105.0h.01M784.2,122.9h.01M785.0,159.8h.01M784.5,135.5h.01M784.5,99.2h.01M784.9,116.3h.01M787.3,175.1h.01M786.0,158.2h.01M786.0,195.7h.01M783.7,111.9h.01M785.6,108.9h.01M786.3,193.2h.01M783.2,99.4h.01M783.6,188.0h.01M786.2,165.7h.01M783.5,104.9h.01M783.6,138.5h.01M785.9,185.9h.01M786.3,173.4h.01M784.9,111.6h.01M784.0,124.3h.01M783.3,103.7h.01M785.5,200.3h.01M783.9,102.1h.01M785.6,205.3h.01M786.9,110.0h.01M784.6,101.0h.01M786.2,189.9h.01M785.3,103.5h.01M785.7,194.4h.01M787.0,193.2h.01M786.2,165.4h.01M785.3,103.4h.01M784.8,114.6h.01M782.8,178.1h.01M783.8,155.0h.01M785.1,153.1h.01M786.4,174.1h.01M784.4,107.2h.01M784.7,189.0h.01M785.9,120.3h.01M784.0,203.1h.01M786.5,192.2h.01M786.1,148.1h.01M785.2,151.0h.01M784.8,184.0h.01M786.1,191.2h.01M784.7,202.0h.01M785.0,113.7h.01M782.5,138.4h.01M785.8,103.3h.01M785.6,202.9h.01M785.2,203.7h.01M785.7,145.2h.01M787.1,199.7h.01M783.0,99.4h.01M787.5,192.0h.01M787.5,208.6h.01M784.2,161.8h.01M785.2,165.5h.01M784.1,141.3h.01M784.4,98.6h.01M786.4,104.7h.01M786.7,200.1h.01M786.3,160.0h.01M785.7,107.8h.01M794.3,129.6h.01M791.0,168.4h.01M793.0,103.3h.01M793.1,144.2h.01M792.6,115.8h.01M793.4,111.3h.01M791.3,101.5h.01M794.6,202.8h.01M791.3,142.2h.01M794.2,120.6h.01M792.9,119.0h.01M790.9,139.3h.01M790.5,127.4h.01M793.0,196.4h.01M792.9,134.3h.01M794.3,193.1h.01M791.2,199.0h.01M791.9,198.3h.01M791.1,114.1h.01M793.8,200.7h.01M794.7,193.3h.01M793.8,134.8h.01M792.1,104.1h.01M794.4,158.3h.01M793.0,203.7h.01M790.3,106.7h.01M793.3,157.6h.01M793.0,106.3h.01M790.9,108.9h.01M792.8,117.6h.01M793.6,204.1h.01M793.6,201.3h.01M793.2,152.8h.01M792.4,191.7h.01M793.1,102.6h.01M792.7,134.4h.01M791.0,188.1h.01M791.8,105.1h.01M791.7,178.4h.01M793.6,190.5h.01M792.6,188.1h.01M793.2,194.8h.01M790.7,112.9h.01M794.2,206.0h.01M790.3,191.9h.01M793.7,199.3h.01M791.9,110.6h.01M793.7,156.0h.01M792.8,100.0h.01M794.9,105.1h.01M792.1,133.0h.01M792.2,194.8h.01M794.5,156.3h.01M791.4,103.9h.01M790.7,100.4h.01M790.9,182.8h.01M792.0,171.4h.01M792.6,107.2h.01M792.3,100.0h.01M793.8,112.4h.01M794.8,201.7h.01M792.8,152.3h.01M793.3,188.1h.01M792.6,177.6h.01M791.5,107.4h.01M792.3,200.2h.01M793.9,145.2h.01M793.0,104.3h.01M794.7,158.5h.01M793.2,196.4h.01M792.7,164.5h.01M793.0,207.7h.01M794.4,200.1h.01M792.5,137.5h.01M793.5,106.0h.01M793.7,157.6h.01M792.5,203.1h.01M791.8,120.9h.01M793.8,172.9h.01M792.8,141.0h.01M791.2,126.3h.01M794.3,102.9h.01M792.4,131.2h.01M791.0,125.0h.01M802.0,199.1h.01M800.3,97.2h.01M800.8,182.2h.01M800.0,202.5h.01M798.7,109.9h.01M801.6,183.9h.01M799.5,141.5h.01M801.6,196.9h.01M800.3,118.9h.01M799.3,102.3h.01M801.9,104.7h.01M801.6,175.7h.01M800.3,114.8h.01M801.7,102.6h.01M800.2,200.2h.01M799.6,101.4h.01M801.2,107.0h.01M800.0,170.4h.01M799.6,110.3h.01M800.9,178.5h.01M800.5,194.9h.01M801.1,169.7h.01M799.5,203.0h.01M800.4,105.5h.01M801.6,193.9h.01M798.9,102.0h.01M801.0,201.5h.01M800.8,150.6h.01M800.8,192.6h.01M801.3,199.0h.01M800.9,132.0h.01M801.4,192.5h.01M800.5,200.3h.01M799.0,162.5h.01M798.9,106.7h.01M802.1,174.3h.01M802.2,165.2h.01M799.4,146.2h.01M800.5,169.4h.01M801.7,160.8h.01M799.0,124.4h.01M802.6,193.6h.01M802.5,158.5h.01M798.9,105.7h.01M799.7,102.5h.01M799.4,162.9h.01M798.7,121.6h.01M799.6,174.5h.01M801.0,203.1h.01M800.5,173.4h.01M798.9,196.6h.01M801.0,114.4h.01M801.2,188.6h.01M799.6,146.2h.01M800.4,130.7h.01M800.3,199.4h.01M799.4,187.3h.01M802.1,136.5h.01M799.0,101.1h.01M800.6,176.9h.01M800.0,129.9h.01M800.7,142.8h.01M801.1,192.1h.01M799.9,159.0h.01M803.0,152.1h.01M801.9,167.4h.01M801.1,146.6h.01M800.6,119.1h.01M800.7,202.1h.01M800.7,134.6h.01M801.7,201.4h.01M799.7,201.7h.01M799.2,102.6h.01M801.0,104.1h.01M800.0,135.5h.01M801.2,175.1h.01M802.1,194.3h.01M801.5,202.0h.01M802.2,155.3h.01M800.8,204.0h.01M798.7,200.4h.01M800.0,160.8h.01M800.6,98.6h.01M799.8,200.1h.01M808.6,131.5h.01M807.9,132.9h.01M808.9,199.1h.01M808.4,125.4h.01M806.7,99.3h.01M809.9,115.5h.01M809.5,125.5h.01M807.8,121.0h.01M810.4,177.0h.01M805.8,144.0h.01M809.3,132.3h.01M809.5,198.8h.01M805.8,168.1h.01M807.6,160.7h.01M809.3,133.8h.01M807.3,100.3h.01M806.0,162.3h.01M807.5,154.7h.01M806.9,100.6h.01M808.8,169.7h.01M808.0,173.1h.01M809.4,158.9h.01M808.8,196.1h.01M808.4,115.8h.01M808.0,101.3h.01M810.3,201.3h.01M808.5,138.1h.01M806.9,109.4h.01M809.5,197.1h.01M809.4,197.5h.01M806.5,123.7h.01M809.2,202.3h.01M808.5,105.7h.01M806.6,110.2h.01M807.6,196.3h.01M808.9,204.5h.01M810.1,174.3h.01M809.3,156.0h.01M806.6,102.2h.01M807.0,116.4h.01M807.4,98.6h.01M806.9,132.0h.01M808.1,197.8h.01M807.7,124.0h.01M809.4,145.7h.01M808.9,192.1h.01M807.3,158.2h.01M809.5,189.4h.01M807.6,100.3h.01M806.5,104.7h.01M807.8,111.6h.01M809.6,162.8h.01M807.7,157.7h.01M809.7,183.8h.01M807.4,111.1h.01M808.8,99.2h.01M808.1,136.4h.01M809.6,125.5h.01M807.9,186.7h.01M810.3,149.5h.01M808.1,126.0h.01M808.7,205.0h.01M807.0,102.5h.01M810.0,195.4h.01M810.0,190.2h.01M806.8,108.2h.01M808.6,114.5h.01M807.7,127.4h.01M807.1,125.6h.01M808.0,114.7h.01M809.1,201.5h.01M809.0,104.3h.01M809.3,191.9h.01M809.3,129.1h.01M808.1,124.5h.01M807.1,143.9h.01M807.4,140.3h.01M809.8,191.2h.01M809.9,139.6h.01M808.9,130.0h.01M807.7,197.7h.01M808.3,159.3h.01M807.3,177.7h.01M808.2,133.3h.01M815.2,110.9h.01M814.4,145.4h.01M815.8,151.2h.01M813.9,110.8h.01M814.2,110.1h.01M814.7,101.0h.01M814.8,125.9h.01M815.7,123.2h.01M814.6,102.2h.01M816.9,131.2h.01M816.1,112.7h.01M817.9,167.1h.01M817.9,116.0h.01M817.0,182.8h.01M815.1,201.9h.01M815.4,102.6h.01M817.2,190.4h.01M816.2,198.1h.01M815.1,188.6h.01M813.1,112.5h.01M814.7,186.6h.01M816.6,202.0h.01M816.6,160.4h.01M816.3,170.3h.01M814.3,103.9h.01M816.0,141.6h.01M814.5,165.9h.01M817.7,102.5h.01M816.7,197.0h.01M816.2,192.2h.01M813.7,123.0h.01M815.2,157.6h.01M815.2,129.4h.01M814.0,105.2h.01M815.8,204.8h.01M817.0,111.6h.01M816.2,160.3h.01M818.0,159.1h.01M816.8,129.1h.01M816.9,189.0h.01M815.3,125.3h.01M818.1,110.4h.01M816.4,103.7h.01M815.9,159.2h.01M817.1,155.3h.01M816.7,123.3h.01M818.4,195.8h.01M814.6,103.6h.01M815.1,167.7h.01M816.1,100.8h.01M816.8,168.3h.01M816.4,129.2h.01M817.1,201.7h.01M813.8,147.0h.01M817.6,141.7h.01M818.4,206.5h.01M815.7,146.7h.01M816.1,199.7h.01M815.3,101.8h.01M814.4,108.3h.01M817.0,100.8h.01M818.2,180.2h.01M815.7,143.0h.01M817.0,195.2h.01M814.1,197.8h.01M814.6,202.3h.01M814.7,103.2h.01M816.4,158.8h.01M814.7,117.3h.01M815.0,185.1h.01M815.5,103.9h.01M814.9,185.0h.01M817.2,101.7h.01M815.5,180.4h.01M814.4,104.5h.01M816.7,116.4h.01M814.7,106.1h.01M817.4,197.7h.01M815.8,113.8h.01M817.5,192.2h.01M816.1,117.3h.01M814.0,175.6h.01M816.6,116.9h.01M817.1,127.1h.01M822.7,105.3h.01M821.8,178.6h.01M823.5,100.7h.01M824.1,113.2h.01M822.5,106.8h.01M825.3,169.8h.01M823.8,203.2h.01M824.7,109.2h.01M823.9,195.9h.01M822.8,196.0h.01M825.5,108.5h.01M823.7,137.3h.01M823.5,163.7h.01M825.5,186.8h.01M824.9,113.0h.01M822.3,183.3h.01M821.4,177.2h.01M826.2,139.5h.01M823.1,200.7h.01M822.3,124.2h.01M822.1,106.3h.01M824.0,103.4h.01M824.7,106.8h.01M824.4,107.3h.01M824.9,189.3h.01M824.3,203.3h.01M823.3,104.4h.01M823.9,189.2h.01M823.6,202.9h.01M825.4,109.2h.01M824.5,190.2h.01M822.9,127.0h.01M824.4,187.3h.01M823.5,166.5h.01M821.9,127.8h.01M823.7,126.4h.01M823.4,183.6h.01M823.8,120.4h.01M823.3,189.3h.01M825.8,129.0h.01M822.8,126.3h.01M825.9,151.9h.01M822.7,115.2h.01M821.7,202.3h.01M825.0,130.5h.01M822.3,126.6h.01M823.4,106.5h.01M824.1,202.3h.01M823.4,204.5h.01M821.5,117.8h.01M822.1,102.7h.01M825.7,164.2h.01M822.8,135.7h.01M823.7,132.0h.01M822.4,161.4h.01M822.6,161.6h.01M824.1,204.5h.01M822.5,181.5h.01M823.3,133.4h.01M825.7,169.8h.01M822.1,108.7h.01M822.4,173.4h.01M823.3,163.6h.01M823.0,123.9h.01M824.4,106.2h.01M825.4,108.8h.01M821.5,153.9h.01M822.2,104.2h.01M822.9,189.9h.01M825.1,110.3h.01M822.3,198.8h.01M824.7,142.3h.01M824.8,111.0h.01M822.3,194.0h.01M823.1,98.9h.01M822.9,104.8h.01M823.1,104.5h.01M822.9,151.7h.01M823.3,184.4h.01M824.0,204.9h.01M822.0,158.2h.01M824.1,193.3h.01M823.9,169.1h.01M822.7,106.6h.01M830.1,180.4h.01M829.6,189.4h.01M829.8,103.8h.01M829.8,108.7h.01M830.2,171.6h.01M829.6,199.0h.01M828.9,102.0h.01M830.3,123.9h.01M830.5,166.3h.01M830.0,194.4h.01" stroke="#000" stroke-width="1.8" stroke-linecap="square" fill="none"/>
<path d="M657.7,88.8L660.6,89.8L663.6,90.9L666.5,92.1L669.4,93.2L672.4,94.1L675.3,94.8L678.2,95.5L681.1,96.0L684.1,96.4L687.0,96.5L689.9,96.4L692.9,96.2L695.8,95.8L698.7,95.4L701.7,95.0L704.6,94.6L707.5,94.4L710.4,94.2L713.4,94.3L716.3,94.4L719.2,94.7L722.2,95.0L725.1,95.3L728.0,95.7L731.0,96.2L733.9,96.6L736.8,97.0L739.8,97.3L742.7,97.6L745.6,97.8L748.5,98.0L751.5,98.2L754.4,98.3L757.3,98.5L760.3,98.7L763.2,98.8L766.1,99.0L769.1,99.1L772.0,99.2L774.9,99.4L777.9,99.6L780.8,99.7L783.7,99.9L786.6,100.0L789.6,100.2L792.5,100.4L795.4,100.5L798.4,100.7L801.3,100.9L804.2,101.0L807.2,101.2L810.1,101.4L813.0,101.5L815.9,101.7L818.9,101.8L821.8,102.0L824.7,102.2L827.7,102.3L830.6,102.5" stroke="#1414c8" stroke-width="1.8" fill="none"/>
<path d="M657.7,217.2L660.6,216.4L663.6,215.4L666.5,214.3L669.4,212.9L672.4,211.9L675.3,211.0L678.2,210.2L681.1,209.6L684.1,209.1L687.0,209.0L689.9,209.1L692.9,209.3L695.8,209.7L698.7,210.2L701.7,210.6L704.6,211.1L707.5,211.4L710.4,211.5L713.4,211.5L716.3,211.4L719.2,211.1L722.2,210.9L725.1,210.5L728.0,210.2L731.0,209.8L733.9,209.4L736.8,209.1L739.8,208.7L742.7,208.4L745.6,208.2L748.5,207.9L751.5,207.7L754.4,207.5L757.3,207.2L760.3,207.0L763.2,206.8L766.1,206.6L769.1,206.4L772.0,206.2L774.9,206.0L777.9,205.8L780.8,205.6L783.7,205.5L786.6,205.3L789.6,205.1L792.5,205.0L795.4,204.8L798.4,204.6L801.3,204.5L804.2,204.3L807.2,204.2L810.1,204.0L813.0,203.9L815.9,203.8L818.9,203.6L821.8,203.5L824.7,203.4L827.7,203.3L830.6,203.1" stroke="#1414c8" stroke-width="1.8" fill="none"/>
<path d="M657.7,223.2v-1.8M657.7,82.8v1.8M674.9,223.2v-3.0M674.9,82.8v3.0M692.1,223.2v-1.8M692.1,82.8v1.8M709.4,223.2v-1.8M709.4,82.8v1.8M726.6,223.2v-1.8M726.6,82.8v1.8M743.8,223.2v-3.0M743.8,82.8v3.0M761.0,223.2v-1.8M761.0,82.8v1.8M778.2,223.2v-1.8M778.2,82.8v1.8M795.5,223.2v-1.8M795.5,82.8v1.8M812.7,223.2v-3.0M812.7,82.8v3.0M829.9,223.2v-1.8M829.9,82.8v1.8M657.7,216.6h3.0M830.6,216.6h-3.0M657.7,184.8h1.8M830.6,184.8h-1.8M657.7,153.0h3.0M830.6,153.0h-3.0M657.7,121.2h1.8M830.6,121.2h-1.8M657.7,89.4h3.0M830.6,89.4h-3.0" stroke="#7a7a7a" stroke-width="1" fill="none"/>
<rect x="657.7" y="82.8" width="172.9" height="140.4" fill="none" stroke="#7a7a7a" stroke-width="1.3"/>
<text x="820.1" y="95.2" font-size="11.7" text-anchor="end">(d)</text>
<text x="674.9" y="235.7" font-size="11.7" text-anchor="middle">0.1</text>
<text x="743.8" y="235.7" font-size="11.7" text-anchor="middle">0.5</text>
<text x="812.7" y="235.7" font-size="11.7" text-anchor="middle">0.9</text>
<text x="117.6" y="93.3" font-size="11.7" text-anchor="end">1.0</text>
<text x="834.2" y="93.3" font-size="11.7">1.0</text>
<text x="117.6" y="156.9" font-size="11.7" text-anchor="end">0.5</text>
<text x="834.2" y="156.9" font-size="11.7">0.5</text>
<text x="117.6" y="220.5" font-size="11.7" text-anchor="end">0.0</text>
<text x="834.2" y="220.5" font-size="11.7">0.0</text>
<text transform="translate(97.3,153) rotate(-90)" font-size="13.7" text-anchor="middle">Population transfer <tspan font-style="italic">P</tspan></text>
<text x="475.8" y="250" font-size="13.7" text-anchor="middle">Interrogation time (s)</text>
</svg>
<div class="b " style="left:1009.00px;top:276.36px;width:769.00px;font-size:14.20px;line-height:16.50px;--h:16.50px">
<p class="j" id="L82">FIG. 1.&nbsp; Population transfer <span class="m"><i>P</i> = <i>N</i><sub class="a">&uarr;</sub>/(<i>N</i><sub class="a">&uarr;</sub> + <i>N</i><sub class="a">&darr;</sub>)</span> after a Ramsey sequence as a function of the interrogation time.&nbsp; The mean density</p>
<p class="j" id="L83" style="margin-top:1.60px">increasing from (a) to (d) is {0.18, 0.36, 0.65, 1.38}&thinsp;&times;&thinsp;10<sup>12</sup> cm<sup>&minus;3</sup>. Both the increase of the coherence time and the characteristic contrast</p>
<p class="j" id="L84">revivals due to spin self-rephasing are clearly visible.&nbsp; Further revivals at longer interrogation times are damped out due to a mixing</p>
<p class="j" id="L85">of trap states.&nbsp; Both conditions for spin self-rephasing are fulfilled: <span class="m"><i>&omega;</i><sub>ex</sub>/&Delta;<sub>0</sub></span> increases with density from 4.3 to 23, giving rise to the</p>
<p class="j" id="L86">observed onset of rephasing, while <span class="m"><i>&omega;</i><sub>ex</sub>/(<i>&pi;&gamma;</i><sub>c</sub>)</span>&thinsp;=&thinsp;4.8 does not depend on density. The solid lines indicate fits according to the numeric</p>
<p class="e" id="L87">model (see text), closely reproducing the characteristic behavior of the contrast.</p>
</div>
<div class="b " style="left:1009.00px;top:411.10px;width:371.00px;font-size:15.80px;line-height:18.14px;--h:18.14px">
<p class="j" id="L88">bosons (fermions), the interaction energy shifts solely the</p>
<p class="j" id="L89">triplet (singlet) state due to the symmetry of the spatial</p>
<p class="j" id="L90">wave function. The shift tunes the states out of resonance</p>
<p class="j" id="L91" style="word-spacing:-0.52px">and thereby suppresses the Rabi flopping and hence the de-</p>
<p class="j" id="L92">phasing.&nbsp; The effect can also be visualized in the Bloch</p>
<p class="j" id="L93">sphere representation, where the exchange interaction cor-</p>
<p class="j" id="L94">responds to a rotation of two individual spins around their</p>
<p class="j" id="L95" style="word-spacing:-0.72px">sum [26]. In the following, we apply the quantitative model</p>
<p class="j" id="L96">developed in Ref. [1].&nbsp; In this approach, the atoms are di-</p>
<p class="j" id="L97">vided into classes of constant energy and a mean spin for</p>
<p class="e" id="L98">each class is considered.</p>
<p class="j i" id="L99" style="margin-top:8.10px">Two conditions have to be met for SSR to occur: (i) the</p>
<p class="j" id="L100">inhomogeneity of the transition frequency, i.e. the dephas-</p>
<p class="j" id="L101">ing rate, must be smaller than the exchange rate, &Delta;<sub>0</sub> &lt; <span class="m"><i>&omega;</i><sub>ex</sub></span>;</p>
<p class="j" id="L102" style="word-spacing:-0.23px">(ii) the rate of velocity changing collisions must be smaller</p>
<p class="j" id="L103">than the exchange rate so that rephasing establishes be-</p>
<p class="j" id="L104">fore atoms change energy class, <i>&gamma;</i><sub>c</sub> &lt; <span class="m"><i>&omega;</i><sub>ex</sub>/<i>&pi;</i></span>.&nbsp; These three</p>
<p class="j" id="L105">parameters can be predicted for a thermal gas in a har-</p>
<p class="j" id="L106">monic potential.&nbsp; We use the definition of &Delta;<sub>0</sub>, <i>&gamma;</i><sub>c</sub> and <span class="m"><i>&omega;</i><sub>ex</sub></span></p>
<p class="j" id="L107" style="word-spacing:-0.18px">from [1]. In our case, the dephasing rate &Delta;<sub>0</sub> is composed of</p>
<p class="j" id="L108">two inhomogeneous frequency shifts, the differential light</p>
<p class="j" id="L109" style="word-spacing:-0.20px">shift and the density shift in the mean-field approximation:</p>
<p class="j" id="L110"><span class="m">&Delta;<sub>0</sub> = <i>k</i><sub>B</sub><i>T</i>/2<i>&#295;</i> &times; <i>&delta;&alpha;</i>/<i>&alpha;</i> &minus; <i>&gamma;</i><i class="nb">n</i>/4</span>.&nbsp; Here, <i>&delta;&alpha;</i> and <i>&alpha;</i> de-</p>
<p class="j" id="L111">note the differential and the total light shift per intensity,</p>
<p class="j" id="L112"><i>T</i> is the ensemble temperature, <i class="nb">n</i> the mean density and</p>
<p class="j" id="L113"><i>&gamma;</i>&thinsp;=&thinsp;<span class="fr" style="width:22px"><span class="n">4<i>&pi;&#295;</i></span><span class="d"><i>m</i></span></span><span class="m">(<i>a</i><sub class="a">&uarr;&uarr;</sub> &minus; <i>a</i><sub class="a">&darr;&darr;</sub>)</span>, where <i>m</i> is the mass and <i>a</i><sub class="a">&uarr;&uarr;</sub>, <i>a</i><sub class="a">&darr;&darr;</sub> are</p>
<p class="e" id="L114">the scattering lengths between atoms in the same state.</p>
<p class="j i" id="L115" style="margin-top:7.40px;word-spacing:-0.52px">In a first set of experiments, we explore the onset of SSR</p>
<p class="j" id="L116">in an optically trapped ensemble.&nbsp; Our experimental appa-</p>
<p class="j" id="L117">ratus has been described in detail in Ref. [27].&nbsp; An optical</p>
<p class="j" id="L118">dipole trap at <i>&lambda;</i> = 1064 nm is provided by two intersect-</p>
<p class="j" id="L119">ing laser beams with beam waists of 60 and 75 <i>&mu;</i>m, yield-</p>
<p class="j" id="L120">ing a mean trap frequency of 2<i>&pi;</i> &times; 70 Hz.&nbsp; A cloud of</p>
<p class="j" id="L121"><sup>87</sup>Rb-atoms is prepared in the state <span class="m">|&darr;&rang;&thinsp;=&thinsp;|<i>F</i>&thinsp;=&thinsp;1, <i>m</i><sub><i>F</i></sub>&thinsp;=&thinsp;0&rang;</span></p>
<p class="j" id="L122">at a temperature of 400(20) nK with a variable mean den-</p>
<p class="j" id="L123">sity <i class="nb">n</i> from 0.18 to <span class="m">1.38 &times; 10<sup>12</sup> cm<sup>&minus;3</sup></span>.&nbsp; The atoms are</p>
<p class="j" id="L124">held in the trap for a constant hold time of 1.06 s, dur-</p>
</div>
<div class="b " style="left:1407.30px;top:411.10px;width:370.80px;font-size:15.80px;line-height:18.14px;--h:18.14px">
<p class="j" id="L125">ing which Ramsey spectroscopy of the clock transition to</p>
<p class="j" id="L126"><span class="m">|&uarr;&rang; = |<i>F</i> = 2, <i>m</i><sub><i>F</i></sub> = 0&rang;</span> is performed.&nbsp; The Ramsey se-</p>
<p class="j" id="L127">quence with a variable interrogation time of 0 &minus; 1 s is</p>
<p class="j" id="L128">placed at the end within this hold time.&nbsp; The coupling is</p>
<p class="j" id="L129">realized by two microwave <i>&pi;</i>/2-pulses of 100 <i>&mu;</i>s duration,</p>
<p class="j" id="L130">generated by a low phase noise synthesizer [28] locked to</p>
<p class="j" id="L131">a hydrogen maser.&nbsp; After the Ramsey sequence, the trap</p>
<p class="j" id="L132">is switched off to allow for ballistic expansion and Stern-</p>
<p class="j" id="L133">Gerlach separation of the two states. The number of atoms</p>
<p class="j" id="L134">in both states, <i>N</i><sub class="a">&uarr;</sub> and <i>N</i><sub class="a">&darr;</sub>, is detected by simultaneous ab-</p>
<p class="e" id="L135">sorption imaging, calibrated according to Ref. [29].</p>
<p class="j i" id="L136" style="margin-top:8.10px">Figure 1 shows the population transfer <span class="m"><i>P</i>&thinsp;=&thinsp;<i>N</i><sub class="a">&uarr;</sub>/(<i>N</i><sub class="a">&uarr;</sub> +</span></p>
<p class="j" id="L137"><i>N</i><sub class="a">&darr;</sub>) as a function of the interrogation time for four differ-</p>
<p class="j" id="L138">ent densities. Each subplot shows clear sinusoidal Ramsey</p>
<p class="j" id="L139">fringes with a period of &asymp;&thinsp;45 ms, in agreement with a mi-</p>
<p class="j" id="L140">crowave detuning of 15 Hz and residual shifts of &minus;7 Hz</p>
<p class="j" id="L141">(see below).&nbsp; Throughout this work, the microwave de-</p>
<p class="j" id="L142">tuning is referenced to the hyperfine frequency at zero</p>
<p class="j" id="L143">field [30].&nbsp; For the lowest density, the contrast of the</p>
<p class="j" id="L144">Ramsey fringes drops within the first 500 ms due to de-</p>
<p class="j" id="L145">phasing. However, the contrast does not decay completely</p>
<p class="j" id="L146">within 1 s, as expected for pure dephasing, indicating the</p>
<p class="j" id="L147">presence of SSR. At higher mean density, a revival of the</p>
<p class="j" id="L148" style="word-spacing:-0.37px">contrast emerges and a considerably longer coherence time</p>
<p class="j" id="L149">is observed.&nbsp; As the density is increased further, the con-</p>
<p class="j" id="L150">trast revivals appear at earlier times, since the higher ex-</p>
<p class="j" id="L151" style="word-spacing:-0.62px">change rate <span class="m"><i>&omega;</i><sub>ex</sub></span> ensures faster rephasing. The contrast does</p>
<p class="j" id="L152" style="word-spacing:-0.11px">not recover fully at later times, because the rate of velocity</p>
<p class="j" id="L153" style="word-spacing:-0.10px">changing collisions <i>&gamma;</i><sub>c</sub> abates rephasing by a mixing of trap</p>
<p class="e" id="L154">states.</p>
<p class="j i" id="L155" style="margin-top:7.00px;word-spacing:-0.12px">The measured contrast is well reproduced by the numer-</p>
<p class="j" id="L156">ical model of Ref. [1], where &Delta;<sub>0</sub>, <span class="m"><i>&omega;</i><sub>ex</sub></span> and <i>&gamma;</i><sub>c</sub> are used as</p>
<p class="j" id="L157">free fitting parameters.&nbsp; They agree within 25% with their</p>
<p class="j" id="L158">prediction if the same correction factors of 1.6 for &Delta;<sub>0</sub> and</p>
<p class="j" id="L159">0.6 for <span class="m"><i>&omega;</i><sub>ex</sub></span> are included.&nbsp; For the case of highest density</p>
<p class="j" id="L160">(<span class="m">1.38 &times; 10<sup>12</sup> cm<sup>&minus;3</sup></span>) the agreement is within 50%, which</p>
<p class="j" id="L161">indicates failure of the infinite-range approximation.&nbsp; Note</p>
</div>
<div class="t " style="left:2305.20px;width:400px;text-align:right;top:40.59px;font-size:15.80px;line-height:18.96px;">3</div>
<svg style="left:1854px;top:0" width="927" height="350">
<path d="M124.5,97.2h.01M124.7,251.2h.01M125.0,142.6h.01M125.0,252.7h.01M126.0,111.9h.01M126.3,134.3h.01M126.4,118.9h.01M126.5,256.9h.01M126.8,160.7h.01M126.9,108.4h.01M127.0,254.4h.01M127.3,252.1h.01M127.9,260.8h.01M128.0,284.2h.01M128.0,262.9h.01M128.1,156.0h.01M128.2,165.7h.01M129.2,272.5h.01M129.3,240.6h.01M129.7,101.5h.01M129.7,204.6h.01M130.1,142.6h.01M130.1,100.2h.01M130.2,252.1h.01M130.3,234.6h.01M130.4,169.9h.01M130.4,120.3h.01M130.7,178.4h.01M131.1,208.5h.01M131.2,219.1h.01M131.8,103.1h.01M132.0,259.8h.01M132.2,147.0h.01M132.4,253.0h.01M132.6,258.2h.01M132.9,113.5h.01M133.0,256.1h.01M133.0,275.6h.01M133.3,107.2h.01M133.5,259.3h.01M133.5,222.1h.01M133.6,235.2h.01M133.6,138.2h.01M133.6,258.6h.01M133.7,272.1h.01M133.7,147.0h.01M133.7,99.0h.01M133.8,110.3h.01M134.0,99.3h.01M134.2,125.5h.01M134.3,242.1h.01M134.7,101.7h.01M134.8,101.9h.01M134.8,234.7h.01M134.9,246.6h.01M134.9,140.9h.01M134.9,201.8h.01M134.9,262.8h.01M135.2,209.1h.01M135.4,190.0h.01M135.5,147.8h.01M135.7,216.4h.01M135.8,121.6h.01M136.0,216.6h.01M136.7,165.5h.01M137.1,91.8h.01M137.6,167.0h.01M137.6,265.0h.01M137.8,268.6h.01M138.3,181.8h.01M138.5,247.5h.01M138.6,105.6h.01M138.7,110.4h.01M138.8,191.9h.01M138.9,161.6h.01M138.9,172.4h.01M138.9,224.0h.01M138.9,155.6h.01M139.4,130.9h.01M139.9,206.0h.01M140.0,187.5h.01M140.1,113.5h.01M140.4,187.9h.01M140.6,227.0h.01M140.7,250.8h.01M140.7,224.8h.01M140.8,101.2h.01M140.9,138.9h.01M141.2,133.2h.01M141.4,203.9h.01M141.8,204.2h.01M142.0,243.6h.01M142.3,263.5h.01M142.6,226.3h.01M142.8,262.8h.01M143.0,220.6h.01M143.0,266.2h.01M143.8,100.5h.01M144.1,112.5h.01M144.1,260.1h.01M144.2,153.8h.01M144.2,100.4h.01M144.3,166.4h.01M144.6,269.8h.01M145.6,234.8h.01M145.6,218.3h.01M145.7,191.8h.01M145.8,114.1h.01M145.9,225.6h.01M145.9,274.1h.01M146.0,163.4h.01M146.2,168.5h.01M146.5,128.2h.01M146.9,117.8h.01M146.9,104.7h.01M147.2,125.1h.01M147.7,120.3h.01M148.0,144.7h.01M148.3,191.6h.01M148.3,210.5h.01M148.6,187.3h.01M148.6,113.5h.01M148.7,123.2h.01M148.8,176.9h.01M149.0,261.1h.01M149.5,98.5h.01M149.5,278.8h.01M149.5,108.4h.01M149.5,194.5h.01M149.7,107.8h.01M149.7,152.6h.01M149.8,142.2h.01M150.0,137.8h.01M150.2,239.0h.01M150.4,99.5h.01M150.4,137.7h.01M150.5,254.2h.01M150.9,163.2h.01M151.0,169.7h.01M151.0,163.2h.01M151.1,150.9h.01M151.2,113.4h.01M151.9,119.6h.01M152.0,90.0h.01M152.5,207.0h.01M152.7,186.5h.01M152.8,267.1h.01M152.9,148.6h.01M153.4,124.9h.01M153.4,134.5h.01M153.6,273.3h.01M153.8,258.4h.01M154.0,266.0h.01M154.0,165.2h.01M154.1,193.6h.01M154.2,119.6h.01M154.6,138.9h.01M154.8,110.2h.01M155.1,125.0h.01M155.5,127.3h.01M155.8,223.5h.01M156.5,271.9h.01M156.6,108.5h.01M156.8,247.8h.01M157.0,100.9h.01M157.2,260.5h.01M157.6,263.3h.01M157.7,263.3h.01M157.7,125.1h.01M158.2,113.2h.01M158.6,140.3h.01M158.8,251.8h.01M159.0,194.1h.01M159.4,259.3h.01M159.5,208.8h.01M159.6,229.8h.01M159.6,192.6h.01M160.3,269.9h.01M160.4,257.9h.01M160.6,141.2h.01M160.8,147.9h.01M161.0,259.5h.01M161.1,256.6h.01M161.2,161.2h.01M161.3,203.7h.01M161.3,250.8h.01M161.3,230.9h.01M161.7,260.5h.01M161.7,162.4h.01M161.9,145.6h.01M162.0,257.4h.01M162.0,135.9h.01M162.3,254.3h.01M162.8,181.2h.01M163.0,161.2h.01M163.1,204.3h.01M163.1,150.7h.01M163.3,239.9h.01M163.4,265.3h.01M163.4,241.0h.01M163.5,167.2h.01M163.5,257.4h.01M163.7,250.5h.01M163.9,107.1h.01M164.1,245.3h.01M164.3,105.9h.01M164.5,137.2h.01M164.9,256.2h.01M165.0,102.0h.01M165.0,164.3h.01M165.0,130.0h.01M165.2,187.3h.01M165.3,140.9h.01M165.3,231.4h.01M165.5,217.0h.01M165.5,265.7h.01M165.5,188.6h.01M165.9,215.5h.01M166.0,152.3h.01M166.1,203.3h.01M166.8,107.7h.01M166.9,248.5h.01M167.0,196.5h.01M167.2,140.1h.01M167.4,120.5h.01M167.6,234.0h.01M167.8,236.2h.01M168.3,255.7h.01M168.4,159.8h.01M168.5,110.8h.01M168.5,259.5h.01M169.1,246.9h.01M169.2,166.1h.01M169.4,123.6h.01M169.7,182.3h.01M169.9,132.1h.01M170.1,174.4h.01M170.3,120.0h.01M170.4,244.7h.01M170.4,155.5h.01M170.4,249.8h.01M170.6,145.1h.01M170.8,152.8h.01M171.1,261.6h.01M171.2,270.4h.01M171.6,167.5h.01M171.6,249.0h.01M171.7,184.5h.01M172.1,200.6h.01M172.2,130.9h.01M172.6,232.5h.01M172.7,263.0h.01M172.8,180.2h.01M172.8,258.6h.01M173.0,253.7h.01M173.2,229.2h.01M173.4,221.7h.01M173.5,127.9h.01M173.9,266.9h.01M174.0,250.1h.01M174.3,115.8h.01M174.3,151.3h.01M175.2,184.6h.01M175.2,171.7h.01M175.2,275.9h.01M175.3,160.1h.01M175.4,249.5h.01M175.4,161.0h.01M175.4,124.6h.01M175.4,176.7h.01M175.5,268.6h.01M175.6,110.2h.01M176.4,149.4h.01M176.4,260.7h.01M176.4,241.6h.01M176.5,133.4h.01M176.5,258.6h.01M176.8,190.9h.01M177.2,229.4h.01M177.3,251.5h.01M177.5,142.5h.01M177.5,238.9h.01M177.9,110.9h.01M178.1,189.8h.01M178.2,124.1h.01M178.2,217.0h.01M178.7,135.1h.01M178.8,119.8h.01M179.0,234.6h.01M179.1,208.5h.01M179.2,228.6h.01M179.2,185.4h.01M179.5,253.4h.01M179.6,200.4h.01M180.0,262.4h.01M180.3,247.3h.01M180.7,130.3h.01M181.3,254.9h.01M181.6,150.7h.01M181.9,117.7h.01M182.1,259.5h.01M182.2,159.6h.01M182.3,109.3h.01M182.6,171.9h.01M182.8,217.2h.01M182.9,249.6h.01M183.3,226.0h.01M183.7,202.5h.01M184.0,257.2h.01M184.3,235.0h.01M185.1,255.8h.01M185.2,206.2h.01M185.2,180.6h.01M185.7,246.0h.01M186.9,220.8h.01M186.9,140.9h.01M186.9,235.9h.01M187.5,110.8h.01M187.6,149.1h.01M187.6,230.6h.01M187.8,166.0h.01M187.9,177.0h.01M188.4,208.4h.01M188.5,183.8h.01M188.5,115.6h.01M188.6,243.2h.01M189.0,125.8h.01M189.1,116.0h.01M189.1,177.9h.01M189.4,112.6h.01M189.4,122.2h.01M189.6,240.5h.01M189.8,193.9h.01M189.8,127.5h.01M190.3,256.8h.01M190.6,167.0h.01M190.7,176.8h.01M191.0,258.3h.01M191.4,193.3h.01M192.5,111.3h.01M192.6,211.4h.01M192.7,225.2h.01M193.2,164.7h.01M193.4,243.8h.01M193.6,118.8h.01M193.8,116.5h.01M193.8,123.1h.01M194.0,188.9h.01M194.0,121.3h.01M194.1,109.3h.01M194.1,131.7h.01M194.3,195.2h.01M194.3,182.0h.01M194.6,208.8h.01M194.6,141.1h.01M194.9,121.6h.01M195.0,217.2h.01M195.0,132.7h.01M195.2,261.9h.01M195.4,145.9h.01M195.6,130.2h.01M195.8,139.0h.01M195.8,130.6h.01M195.8,237.4h.01M196.0,182.0h.01M196.7,249.2h.01M197.4,131.7h.01M197.4,221.8h.01M197.5,246.3h.01M197.6,251.8h.01M197.6,226.2h.01M197.7,217.4h.01M197.9,191.7h.01M198.5,251.7h.01M198.6,115.5h.01M198.8,177.1h.01M199.0,171.8h.01M199.0,196.8h.01M199.6,244.4h.01M199.8,138.2h.01M200.0,134.3h.01M200.3,185.0h.01M200.3,247.2h.01M200.4,206.8h.01M200.4,115.1h.01M201.0,121.2h.01M201.1,106.0h.01M201.1,154.8h.01M201.9,257.8h.01M202.0,244.2h.01M202.5,158.1h.01M202.6,204.2h.01M202.6,130.7h.01M202.8,209.2h.01M202.9,249.6h.01M203.1,133.7h.01M203.1,250.5h.01M203.4,188.0h.01M203.5,190.8h.01M203.6,170.9h.01M203.7,236.9h.01M203.9,227.8h.01M204.1,111.2h.01M204.1,183.5h.01M204.2,178.3h.01M204.4,127.4h.01M204.6,221.5h.01M204.7,249.5h.01M205.0,193.8h.01M205.0,163.5h.01M205.1,187.2h.01M205.1,138.3h.01M205.4,235.7h.01M205.5,173.5h.01M205.6,169.9h.01M205.8,229.0h.01M205.8,195.0h.01M206.1,110.6h.01M206.5,217.0h.01M206.6,123.4h.01M206.8,240.2h.01M206.8,223.8h.01M206.8,246.6h.01M206.9,121.7h.01M207.1,125.4h.01M207.3,255.7h.01M207.7,237.0h.01M207.9,121.9h.01M208.3,113.7h.01M208.4,177.3h.01M208.4,210.5h.01M208.5,203.8h.01M208.5,176.3h.01M208.7,194.7h.01M208.8,132.8h.01M208.9,151.4h.01M209.0,242.5h.01M209.3,259.9h.01M209.4,201.3h.01M209.4,218.0h.01M209.9,229.5h.01M209.9,173.5h.01M210.3,209.5h.01M210.4,127.6h.01M210.5,155.7h.01M210.6,126.4h.01M211.0,134.7h.01M211.2,188.9h.01M211.6,248.2h.01M211.7,170.2h.01M212.0,115.6h.01M212.3,164.2h.01M212.4,173.7h.01M212.4,127.1h.01M213.0,207.8h.01M213.0,123.7h.01M213.1,240.1h.01M213.2,247.0h.01M213.6,217.0h.01M213.6,240.0h.01M213.9,199.0h.01M214.1,152.8h.01M214.2,206.1h.01M214.6,257.4h.01M214.7,150.7h.01M214.9,198.2h.01M215.5,129.8h.01M215.6,248.8h.01M215.7,129.6h.01M215.8,211.1h.01M215.8,217.1h.01M216.2,254.0h.01M216.2,239.8h.01M216.2,127.3h.01M216.5,188.2h.01M216.5,248.6h.01M216.5,124.5h.01M216.5,119.5h.01M216.6,246.1h.01M216.6,236.3h.01M216.7,246.0h.01M216.9,204.2h.01M217.0,179.6h.01M217.3,229.5h.01M217.3,141.7h.01M217.7,249.9h.01M217.7,245.3h.01M217.8,115.6h.01M218.1,184.4h.01M218.2,235.9h.01M218.6,238.3h.01M218.7,131.4h.01M219.0,236.5h.01M219.4,153.3h.01M219.6,208.0h.01M219.8,126.6h.01M220.0,155.8h.01M220.3,188.9h.01M220.3,244.4h.01M220.5,155.0h.01M220.8,155.2h.01M220.8,150.4h.01M221.2,225.2h.01M222.0,205.8h.01M222.1,144.1h.01M222.2,121.8h.01M222.3,184.5h.01M222.3,218.0h.01M222.4,172.8h.01M222.5,115.9h.01M222.8,226.4h.01M223.0,249.8h.01M223.0,244.2h.01M223.1,204.2h.01M223.1,241.8h.01M223.3,239.5h.01M223.4,145.7h.01M223.6,155.1h.01M223.9,122.8h.01M224.4,123.5h.01M224.8,128.4h.01M224.9,253.5h.01M225.2,152.6h.01M225.2,179.9h.01M225.9,147.3h.01M225.9,203.3h.01M226.1,230.4h.01M226.3,125.8h.01M226.3,206.5h.01M227.0,213.9h.01M227.1,221.5h.01M227.2,149.6h.01M227.5,249.4h.01M227.8,138.3h.01M227.9,157.0h.01M228.0,194.0h.01M228.2,176.8h.01M228.2,131.1h.01M228.3,234.6h.01M228.3,174.4h.01M228.3,201.4h.01M228.3,244.1h.01M228.9,165.2h.01M228.9,170.0h.01M229.5,150.7h.01M229.5,203.3h.01M229.8,232.7h.01M230.0,122.6h.01M230.1,155.0h.01M230.5,178.3h.01M230.6,137.0h.01M230.8,222.8h.01M230.9,119.1h.01M232.1,134.0h.01M232.2,148.0h.01M232.4,221.8h.01M232.6,202.7h.01M232.9,164.1h.01M233.2,129.2h.01M233.4,231.4h.01M233.4,142.7h.01M233.5,240.1h.01M233.9,129.7h.01M233.9,242.9h.01M234.0,164.4h.01M234.1,206.6h.01M234.2,190.7h.01M234.4,120.3h.01M234.4,239.8h.01M235.0,115.3h.01M235.0,121.0h.01M235.4,139.1h.01M235.7,240.6h.01M236.0,195.8h.01M236.0,128.3h.01M236.0,131.3h.01M236.2,125.8h.01M236.5,242.5h.01M236.6,237.2h.01M236.7,218.9h.01M237.0,150.0h.01M237.2,213.9h.01M237.2,206.1h.01M237.4,233.0h.01M237.8,137.9h.01M237.8,155.1h.01M237.8,230.8h.01M237.9,250.4h.01M237.9,226.1h.01M238.1,166.7h.01M238.3,195.3h.01M238.7,220.1h.01M238.7,199.9h.01M238.7,219.9h.01M239.2,246.9h.01M239.4,170.9h.01M239.8,126.8h.01M239.8,232.1h.01M239.9,155.3h.01M240.0,228.7h.01M240.3,222.5h.01M240.7,231.2h.01M240.8,243.8h.01M240.9,223.9h.01M241.2,130.3h.01M241.2,153.7h.01M241.3,234.3h.01M241.4,195.7h.01M242.4,130.2h.01M242.8,230.7h.01M243.0,172.2h.01M243.2,204.3h.01M243.5,240.0h.01M243.5,159.9h.01M243.8,185.8h.01M243.8,208.0h.01M243.9,143.1h.01M244.0,180.4h.01M244.0,249.4h.01M244.3,217.1h.01M244.5,230.9h.01M244.8,174.5h.01M245.0,228.2h.01M245.3,233.2h.01M245.7,237.4h.01M245.8,232.4h.01M246.7,188.3h.01M246.7,142.6h.01M246.8,132.4h.01M246.9,250.4h.01M247.5,133.5h.01M247.5,133.1h.01M247.5,227.6h.01M247.5,150.7h.01M247.6,221.7h.01M247.6,235.2h.01M247.9,202.0h.01M248.3,194.9h.01M248.3,129.8h.01M248.3,217.2h.01M248.5,120.3h.01M248.8,198.6h.01M248.9,252.6h.01M249.1,191.1h.01M249.2,183.6h.01M249.3,229.7h.01M249.6,198.3h.01M249.6,189.9h.01M249.9,138.5h.01M250.2,237.8h.01M250.3,130.9h.01M250.3,197.5h.01M250.3,223.3h.01M250.4,184.0h.01M250.5,128.8h.01M250.6,169.5h.01M250.7,170.5h.01M250.8,234.9h.01M250.8,143.6h.01M251.0,201.3h.01M251.1,220.3h.01M251.5,152.4h.01M251.5,239.1h.01M252.0,216.7h.01M252.2,133.2h.01M252.2,209.7h.01M252.3,164.7h.01M252.6,159.5h.01M253.2,159.6h.01M253.6,136.0h.01M253.6,142.7h.01M253.8,239.1h.01M254.0,138.0h.01M254.1,238.1h.01M254.5,137.6h.01M254.5,200.3h.01M254.6,157.8h.01M254.6,243.2h.01M254.8,144.9h.01M254.8,132.9h.01M255.1,236.2h.01M255.3,222.0h.01M255.6,169.4h.01M256.2,235.4h.01M256.5,205.2h.01M256.8,173.8h.01M256.9,131.5h.01M257.0,171.1h.01M257.2,124.3h.01M257.4,153.5h.01M257.5,174.0h.01M257.7,136.2h.01M257.7,159.2h.01M257.9,197.8h.01M258.0,127.8h.01M258.1,134.7h.01M258.3,248.4h.01M258.3,236.0h.01M258.4,160.8h.01M258.6,132.6h.01M258.6,178.9h.01M258.7,138.8h.01M259.1,227.5h.01M259.7,194.6h.01M259.8,172.1h.01M260.2,205.6h.01M260.3,164.9h.01M261.3,140.9h.01M261.3,152.8h.01M261.4,141.1h.01M261.5,227.6h.01M261.6,156.4h.01M261.9,238.5h.01M263.6,128.7h.01M263.7,227.8h.01M263.8,154.9h.01M263.8,144.0h.01M263.9,230.8h.01M263.9,192.1h.01M263.9,167.5h.01M263.9,188.4h.01M264.0,229.0h.01M264.0,144.8h.01M264.0,233.5h.01M264.1,202.3h.01M264.7,135.0h.01M265.1,244.4h.01M265.3,132.7h.01M265.3,169.6h.01M265.8,201.6h.01M265.8,228.5h.01M266.1,130.5h.01M266.2,190.8h.01M266.2,223.3h.01M266.3,170.6h.01M266.7,138.1h.01M266.7,203.9h.01M266.9,205.8h.01M267.1,145.6h.01M267.3,240.8h.01M267.3,174.5h.01M267.6,231.4h.01M267.7,198.1h.01M267.7,162.4h.01M267.7,187.4h.01M267.7,170.4h.01M267.8,164.0h.01M267.8,135.3h.01M267.9,192.1h.01M268.0,220.1h.01M268.0,169.9h.01M268.6,236.3h.01M268.6,134.4h.01M268.7,150.9h.01M268.9,189.4h.01M268.9,153.4h.01M269.0,175.3h.01M269.2,142.4h.01M269.3,229.5h.01M269.8,211.3h.01M269.9,141.2h.01M270.0,227.3h.01M270.7,137.9h.01M271.0,215.5h.01M271.5,159.1h.01M271.5,137.6h.01M271.8,184.1h.01M272.0,231.2h.01M272.2,181.1h.01M272.4,242.1h.01M272.5,195.9h.01M272.6,151.1h.01M272.9,223.4h.01M272.9,224.5h.01M273.1,154.5h.01M273.2,208.2h.01M273.3,178.2h.01M273.6,136.4h.01M273.6,160.1h.01M273.8,164.3h.01M274.0,203.2h.01M274.2,226.0h.01M274.4,189.4h.01M274.8,202.8h.01M275.2,153.9h.01M275.3,224.9h.01M275.6,132.3h.01M276.0,139.5h.01M276.2,212.5h.01M276.2,175.5h.01M276.2,220.0h.01M276.3,185.7h.01M276.4,151.5h.01M276.5,236.7h.01M276.7,226.4h.01M277.0,138.6h.01M277.2,233.3h.01M277.2,205.9h.01M277.4,232.3h.01M277.6,218.4h.01M277.8,143.0h.01M278.0,166.6h.01M278.3,228.4h.01M278.3,233.3h.01M278.3,140.4h.01M278.7,212.5h.01M278.8,167.4h.01M279.1,165.6h.01M279.1,210.6h.01M279.7,146.0h.01M280.1,159.6h.01M280.2,193.4h.01M280.6,142.7h.01M280.7,181.6h.01M280.7,157.5h.01M282.2,223.0h.01M282.5,134.4h.01M282.7,158.8h.01M283.1,158.3h.01M283.2,160.0h.01M283.7,157.6h.01M283.8,192.9h.01M284.1,135.1h.01M284.2,223.9h.01M284.3,176.8h.01M284.6,178.2h.01M284.9,149.5h.01M285.0,171.2h.01M285.6,172.3h.01M286.2,227.1h.01M286.3,160.1h.01M286.8,147.2h.01M287.3,213.3h.01M287.5,218.7h.01M287.6,187.6h.01M287.8,228.4h.01M287.9,172.6h.01M288.0,232.0h.01M288.0,188.5h.01M288.2,228.4h.01M288.3,162.4h.01M288.3,198.2h.01M288.6,221.3h.01M288.7,222.8h.01M289.6,203.3h.01M289.6,205.7h.01M289.7,178.5h.01M289.8,209.9h.01M289.9,156.8h.01M290.2,236.0h.01M290.4,153.6h.01M290.4,174.8h.01M290.8,224.4h.01M291.0,207.2h.01M291.2,158.4h.01M292.0,186.7h.01M292.2,214.7h.01M292.4,151.6h.01M293.2,192.9h.01M293.2,131.7h.01M293.4,203.4h.01M294.0,199.1h.01M294.1,182.1h.01M295.7,165.9h.01M295.9,167.8h.01M295.9,235.4h.01M296.0,135.4h.01M296.2,177.9h.01M296.3,148.7h.01M296.5,212.8h.01M296.5,158.8h.01M296.7,213.0h.01M296.7,215.1h.01M297.3,151.4h.01M297.6,207.1h.01M297.8,228.1h.01M297.8,169.2h.01M298.0,167.5h.01M298.0,196.5h.01M298.2,152.3h.01M298.5,216.9h.01M299.0,166.9h.01M299.0,211.5h.01M299.0,174.9h.01M299.2,154.0h.01M300.0,208.9h.01M300.1,224.4h.01M300.1,188.2h.01M300.2,148.7h.01M300.6,203.9h.01M300.6,147.8h.01M300.7,231.0h.01M300.9,151.6h.01M301.2,154.1h.01M301.3,224.1h.01M301.4,229.2h.01M301.5,156.3h.01M301.6,185.7h.01M301.7,198.1h.01M302.0,227.0h.01M302.0,196.6h.01M302.0,177.3h.01M302.1,219.9h.01M302.5,139.7h.01M303.4,155.8h.01M303.6,182.0h.01M303.9,145.7h.01M304.0,202.4h.01M304.1,150.1h.01M304.1,159.3h.01M304.3,147.0h.01M304.4,197.8h.01M304.8,214.3h.01M304.8,184.8h.01M305.0,192.5h.01M305.1,174.1h.01M305.3,147.8h.01M305.3,186.0h.01M305.4,207.5h.01M306.0,182.7h.01M306.1,204.1h.01M306.1,150.2h.01M306.2,172.4h.01M306.7,196.6h.01M306.8,160.1h.01M307.1,193.3h.01M307.7,209.1h.01M308.0,215.1h.01M308.3,213.5h.01M308.4,222.1h.01M308.4,175.0h.01M308.4,147.1h.01M308.5,205.2h.01M308.8,150.4h.01M308.8,204.2h.01M309.0,210.0h.01M309.3,186.9h.01M309.4,160.1h.01M309.8,178.2h.01M309.9,156.4h.01M310.0,193.8h.01M310.4,154.4h.01M310.6,194.2h.01M310.6,190.3h.01M310.7,163.3h.01M310.7,162.5h.01M310.8,192.0h.01M311.0,214.9h.01M311.1,208.5h.01M311.2,154.8h.01M311.6,158.0h.01M311.9,202.9h.01M312.0,206.4h.01M312.0,217.5h.01M312.3,161.6h.01M312.3,193.8h.01M312.5,213.6h.01M312.5,174.7h.01M312.9,211.4h.01M313.1,167.8h.01M313.3,173.9h.01M313.7,169.2h.01M313.9,215.2h.01M314.3,146.6h.01M314.4,152.0h.01M314.5,153.3h.01M314.7,194.6h.01M315.0,178.7h.01M315.0,208.4h.01M315.1,160.8h.01M315.1,213.5h.01M315.2,199.9h.01M315.3,189.3h.01M315.5,177.7h.01M315.8,210.9h.01M315.9,198.8h.01M315.9,219.6h.01M316.8,169.6h.01M316.8,168.2h.01M317.1,218.0h.01M317.1,219.0h.01M317.2,206.5h.01M317.2,170.8h.01M317.3,214.1h.01M317.7,174.9h.01M318.1,150.9h.01M318.2,216.7h.01M318.6,159.9h.01M318.7,171.1h.01M318.8,208.0h.01M319.0,177.7h.01M319.0,213.3h.01M319.2,166.5h.01M319.5,166.0h.01M319.5,161.3h.01M319.6,156.9h.01M319.9,210.3h.01M319.9,181.7h.01M320.2,214.6h.01M320.7,202.9h.01M320.8,219.1h.01M321.0,154.9h.01M321.3,220.8h.01M321.4,153.2h.01M321.5,190.0h.01M321.8,179.9h.01M321.8,214.2h.01M321.9,185.3h.01M322.6,198.4h.01M322.6,206.9h.01M322.7,187.4h.01M322.8,189.5h.01M322.8,177.3h.01M323.4,155.0h.01M323.6,200.0h.01M323.6,163.6h.01M323.7,194.2h.01M323.8,196.1h.01M323.9,152.9h.01M324.1,175.3h.01M324.2,144.7h.01M324.3,180.4h.01M324.5,156.3h.01M324.7,171.4h.01M324.7,155.5h.01M325.2,205.1h.01M325.5,174.9h.01M325.7,170.2h.01M325.8,175.6h.01M326.2,189.5h.01M326.3,210.8h.01M326.4,189.1h.01M326.8,163.3h.01M326.9,155.7h.01M327.2,156.3h.01M327.3,201.4h.01M327.4,189.9h.01M327.4,176.7h.01M327.4,159.3h.01M327.5,178.8h.01M327.6,154.9h.01M327.7,156.7h.01M327.9,153.2h.01M328.0,195.2h.01M328.0,162.6h.01M328.2,165.2h.01M328.2,159.4h.01M328.6,207.4h.01M328.9,187.3h.01M328.9,211.6h.01M329.7,165.5h.01M330.0,207.8h.01M330.3,214.2h.01M330.7,216.5h.01M331.2,214.6h.01M331.2,161.4h.01M331.3,171.2h.01M331.6,171.8h.01M331.7,184.7h.01M331.7,190.5h.01M332.0,165.5h.01M332.1,199.6h.01M332.4,159.1h.01M332.6,202.9h.01M333.0,209.5h.01M333.2,207.1h.01M333.2,208.3h.01M333.4,197.4h.01M333.6,208.6h.01M333.8,160.7h.01M333.8,222.6h.01M333.9,165.6h.01M333.9,182.7h.01M334.1,212.3h.01M334.4,217.9h.01M334.6,178.1h.01M335.1,207.3h.01M335.9,168.2h.01M336.0,186.7h.01M336.0,214.0h.01M336.1,181.7h.01M336.1,188.8h.01M336.3,205.7h.01M336.5,188.9h.01M336.6,218.9h.01M336.7,180.9h.01M338.0,162.7h.01M338.7,189.7h.01M338.8,206.4h.01M338.9,167.4h.01M339.0,183.6h.01M339.1,188.8h.01M339.2,170.1h.01M339.7,208.7h.01M339.8,192.8h.01M339.8,201.0h.01M339.8,194.6h.01M339.9,162.3h.01M339.9,161.5h.01M340.3,198.0h.01M340.4,202.6h.01M340.9,172.1h.01M341.1,181.1h.01M341.1,186.7h.01M341.4,188.7h.01M341.5,179.5h.01M341.6,210.9h.01M341.7,167.2h.01M341.7,157.3h.01M342.0,162.7h.01M342.0,197.7h.01M342.3,164.0h.01M342.5,200.0h.01M342.6,176.6h.01M342.7,196.1h.01M342.8,212.0h.01M343.0,194.4h.01M343.1,162.8h.01M343.6,193.4h.01M343.7,163.4h.01M343.8,213.7h.01M343.9,176.0h.01M344.0,187.5h.01M344.2,202.1h.01M344.4,196.5h.01M344.4,189.0h.01M344.5,190.3h.01M344.6,189.2h.01M344.7,165.1h.01M345.0,181.1h.01M345.1,186.9h.01M345.3,204.6h.01M345.3,164.5h.01M345.5,165.2h.01M345.5,198.0h.01M345.7,205.5h.01M345.9,168.3h.01M346.1,170.9h.01M346.7,187.5h.01M346.8,186.1h.01M346.9,168.2h.01M347.0,208.6h.01M347.1,171.1h.01M347.5,204.1h.01M347.5,170.6h.01M347.6,199.2h.01M348.0,187.7h.01M348.5,186.4h.01M348.6,200.2h.01M348.8,210.5h.01M349.0,216.1h.01M350.2,165.2h.01M350.2,211.9h.01M350.6,176.3h.01M350.6,171.0h.01M350.7,179.1h.01M350.9,178.1h.01M351.2,181.1h.01M351.2,195.1h.01M351.2,168.4h.01M351.9,183.6h.01M351.9,176.7h.01M352.0,169.5h.01M352.0,167.5h.01M352.3,181.7h.01M352.6,201.4h.01M352.6,166.1h.01M352.9,182.2h.01M353.1,203.0h.01M353.6,198.9h.01M353.7,173.8h.01M353.8,172.0h.01M354.1,167.2h.01M354.3,210.4h.01M354.8,188.5h.01M355.0,181.8h.01M355.1,173.3h.01M355.5,197.3h.01M355.5,172.3h.01M355.6,183.1h.01M356.7,165.4h.01M356.9,175.2h.01M356.9,172.1h.01M357.0,167.2h.01M357.1,186.3h.01M357.2,173.6h.01M357.3,187.1h.01M357.9,184.2h.01M358.0,192.7h.01M358.0,188.4h.01M358.6,190.1h.01M358.6,172.3h.01M359.0,205.6h.01M359.2,205.9h.01M359.5,195.5h.01M359.8,184.4h.01M360.0,173.1h.01M360.1,186.7h.01M360.4,173.6h.01M360.9,191.1h.01M360.9,173.1h.01M361.2,208.2h.01M361.4,170.3h.01M361.4,173.7h.01M361.6,193.9h.01M361.6,186.2h.01M361.8,166.7h.01M361.8,178.5h.01M361.9,175.9h.01M362.0,169.6h.01M362.2,184.3h.01M362.4,171.6h.01M362.7,188.6h.01M363.1,194.4h.01M363.1,194.4h.01M363.1,172.6h.01M363.3,190.9h.01M363.3,182.8h.01M363.3,172.3h.01M363.4,191.8h.01M363.5,190.7h.01M363.5,201.1h.01M363.9,186.9h.01M364.0,181.8h.01M364.2,195.1h.01M364.2,194.8h.01M364.3,191.6h.01M364.8,190.0h.01M365.1,192.4h.01M365.1,197.1h.01M365.4,177.7h.01M365.6,191.7h.01M366.1,177.5h.01M366.4,176.3h.01M366.5,195.8h.01M366.9,182.6h.01M366.9,195.6h.01M366.9,183.6h.01M367.2,174.2h.01M367.3,194.4h.01M367.3,177.3h.01M367.6,171.5h.01M367.7,201.3h.01M367.9,198.3h.01M367.9,175.7h.01M368.0,171.1h.01M368.6,182.9h.01M368.6,180.4h.01M368.7,186.5h.01M368.9,166.1h.01M369.0,179.5h.01M369.1,177.2h.01M369.6,175.0h.01M370.0,181.0h.01M370.3,186.9h.01M370.4,178.4h.01M370.5,181.0h.01M370.6,164.5h.01M370.8,167.1h.01M370.9,189.5h.01M371.0,188.8h.01M371.6,203.3h.01M372.3,192.1h.01M372.4,180.6h.01M372.9,195.9h.01M373.1,176.0h.01M373.6,169.6h.01M373.9,173.8h.01M374.3,194.8h.01M374.6,195.6h.01M374.9,187.8h.01M375.2,181.1h.01M375.4,186.8h.01M375.9,184.3h.01M376.0,179.9h.01M376.0,172.4h.01M376.1,173.0h.01M376.4,175.1h.01M376.6,166.9h.01M377.1,191.2h.01M377.1,187.1h.01M377.2,178.7h.01M377.6,180.5h.01M377.6,190.6h.01M377.9,190.1h.01M378.3,191.0h.01M378.4,183.1h.01M378.7,187.5h.01M379.0,182.2h.01M379.2,183.4h.01M379.3,185.1h.01M379.5,192.0h.01M379.7,185.5h.01M380.0,185.3h.01M380.0,177.7h.01M380.0,191.2h.01M380.1,175.1h.01M380.1,198.5h.01M380.2,184.3h.01M380.3,177.7h.01M380.4,176.3h.01M380.5,193.2h.01M380.7,192.6h.01M381.0,190.5h.01M381.1,185.8h.01M381.3,191.5h.01M381.4,190.1h.01M381.5,190.9h.01M381.8,183.5h.01M381.9,187.0h.01M381.9,181.6h.01M382.0,179.2h.01M382.0,176.4h.01M382.3,191.6h.01M382.3,165.6h.01M382.3,189.3h.01M382.4,171.4h.01M383.0,189.6h.01M383.1,189.1h.01M383.2,181.7h.01M383.3,179.5h.01M383.4,175.8h.01M383.7,181.2h.01M383.8,191.2h.01M383.9,177.1h.01M384.4,182.5h.01M384.5,182.7h.01M384.8,182.1h.01M385.0,190.5h.01M385.1,181.5h.01M385.7,174.8h.01M386.0,175.6h.01M386.1,184.3h.01M386.2,184.6h.01M386.3,190.7h.01M387.1,190.6h.01M387.1,187.3h.01M387.3,176.3h.01M387.4,186.3h.01M387.7,183.7h.01M387.8,186.6h.01M387.9,184.9h.01M388.2,184.2h.01M388.3,189.6h.01M389.4,180.3h.01M389.7,174.0h.01M390.3,183.3h.01M390.4,186.7h.01M390.7,187.3h.01M390.9,185.1h.01M391.1,179.1h.01M391.1,179.8h.01M391.2,181.3h.01M391.2,179.2h.01M391.4,178.9h.01M392.8,177.5h.01M392.9,172.7h.01M392.9,187.7h.01M393.0,186.9h.01M393.8,190.3h.01M394.2,193.2h.01M394.2,179.6h.01M394.2,179.6h.01M394.9,191.2h.01M394.9,179.8h.01M395.1,183.3h.01M395.3,178.2h.01M395.4,177.1h.01M395.5,189.5h.01M395.6,177.0h.01M395.7,185.1h.01M396.2,179.4h.01M396.3,189.3h.01M396.3,175.7h.01M396.7,186.7h.01M396.9,189.4h.01M396.9,191.6h.01M396.9,185.6h.01M397.0,173.9h.01M397.0,178.9h.01M397.1,184.9h.01M397.3,188.0h.01M397.3,190.7h.01M397.6,184.8h.01M398.0,195.2h.01M398.1,184.5h.01M398.4,175.4h.01M399.5,185.8h.01M399.7,184.4h.01M400.1,187.3h.01M400.3,182.4h.01M400.8,179.4h.01M400.9,176.3h.01M401.3,186.0h.01M401.4,192.3h.01M401.5,188.5h.01M401.5,189.6h.01M401.6,186.4h.01M401.6,184.8h.01M401.6,188.0h.01M401.8,182.3h.01M401.9,176.5h.01M402.1,178.4h.01M402.3,189.2h.01M402.8,185.8h.01M402.9,184.0h.01M402.9,179.4h.01M403.0,187.8h.01M403.1,189.5h.01M403.6,180.1h.01M404.0,191.3h.01M404.0,187.5h.01M404.2,184.0h.01M404.3,177.3h.01M404.6,188.1h.01M404.9,181.9h.01M404.9,186.1h.01M404.9,185.7h.01M405.2,178.6h.01M405.9,188.0h.01M406.0,180.9h.01M406.1,182.7h.01M406.1,192.9h.01M406.4,192.1h.01M406.7,199.8h.01M406.9,182.4h.01M407.1,184.5h.01M407.3,187.9h.01M407.3,185.9h.01M407.4,187.3h.01M407.9,187.4h.01M408.3,183.1h.01M408.4,185.9h.01M408.4,188.1h.01M408.7,175.8h.01M409.0,180.4h.01M409.3,186.4h.01M409.4,174.0h.01M410.7,170.0h.01M411.0,177.9h.01M411.0,176.5h.01M411.1,186.2h.01M411.2,187.2h.01M411.2,192.3h.01M411.3,185.2h.01M411.5,177.7h.01M411.8,186.9h.01M412.1,194.6h.01M412.4,174.4h.01M412.5,172.6h.01M412.8,176.0h.01M412.9,194.0h.01M413.0,180.9h.01M413.0,188.4h.01M413.1,184.5h.01M413.1,181.6h.01M413.1,177.0h.01M413.2,187.0h.01M414.0,186.2h.01M414.1,190.6h.01M414.2,185.0h.01M414.4,189.0h.01M414.7,186.0h.01M414.7,179.0h.01M414.8,183.3h.01M415.1,183.7h.01M415.1,181.8h.01M415.2,180.6h.01M415.3,177.0h.01M415.3,189.7h.01M415.4,193.8h.01M415.6,180.7h.01M415.7,181.3h.01M415.8,176.9h.01M416.1,181.1h.01M416.2,175.9h.01M416.2,181.4h.01M416.3,187.4h.01M416.4,177.8h.01M416.9,188.4h.01M416.9,188.9h.01M417.0,183.2h.01M417.2,186.7h.01M417.3,179.3h.01M417.6,186.3h.01M417.7,173.9h.01M417.7,189.8h.01M417.9,181.0h.01M418.0,187.9h.01M418.0,177.7h.01M418.3,186.9h.01M418.5,181.1h.01M418.8,201.2h.01M418.9,187.4h.01M419.1,176.2h.01M419.3,182.9h.01M419.9,183.2h.01M420.9,179.3h.01M421.0,172.0h.01M421.2,189.6h.01M421.2,184.7h.01M421.4,186.4h.01M421.7,181.2h.01M421.7,188.9h.01M422.2,192.7h.01M422.2,193.2h.01M423.0,181.5h.01M423.2,182.9h.01M423.5,180.3h.01M423.8,193.9h.01M423.8,188.7h.01M423.8,186.7h.01M423.9,179.0h.01M424.0,181.0h.01M424.0,184.8h.01M424.4,190.4h.01M424.6,183.6h.01M424.7,186.4h.01M425.0,178.7h.01M425.0,174.0h.01M425.4,183.8h.01M425.5,189.7h.01M425.5,172.0h.01M425.6,181.5h.01M425.6,182.1h.01M425.7,184.4h.01M425.8,183.4h.01M426.1,184.3h.01M426.4,183.5h.01M426.6,192.1h.01M426.6,188.4h.01M426.9,184.5h.01M426.9,183.0h.01M427.2,183.8h.01M427.2,181.8h.01M427.2,194.1h.01M427.5,189.7h.01M427.6,188.1h.01M427.9,183.9h.01M428.3,185.5h.01M429.6,173.7h.01M429.9,186.9h.01M430.1,185.0h.01M430.7,192.2h.01M430.8,174.3h.01M430.9,184.2h.01M430.9,184.4h.01M431.4,188.0h.01M432.0,183.5h.01M432.1,186.5h.01M432.1,177.0h.01M432.7,188.7h.01M433.0,187.0h.01M433.9,187.4h.01M434.0,181.5h.01M434.0,182.7h.01M434.1,179.1h.01M434.2,181.7h.01M434.2,181.1h.01M434.3,183.4h.01M434.3,179.3h.01M435.0,181.3h.01M435.0,182.9h.01M435.3,193.4h.01M435.4,186.7h.01M435.7,187.6h.01M436.1,194.5h.01M436.2,176.6h.01M436.4,176.3h.01M436.5,177.9h.01M437.0,180.6h.01M437.2,176.2h.01M437.5,193.9h.01M437.5,177.2h.01M437.8,195.6h.01M437.9,183.1h.01M437.9,183.9h.01M437.9,181.3h.01M438.0,180.8h.01M438.2,180.7h.01M438.2,188.0h.01M438.3,187.7h.01M438.3,189.0h.01M438.8,183.1h.01M440.0,186.6h.01M440.3,193.1h.01M440.5,179.4h.01M440.9,190.5h.01M441.0,187.2h.01M441.0,188.2h.01M441.5,188.4h.01M441.6,181.3h.01M442.7,188.2h.01M442.8,192.2h.01M443.1,187.6h.01M443.1,189.8h.01M443.2,192.4h.01M443.3,179.6h.01M443.8,178.3h.01M444.0,192.5h.01" stroke="#000" stroke-width="3.3" stroke-linecap="round" fill="none"/>
<path d="M123.4,89.4L123.9,90.2L124.3,91.8L124.8,93.9L125.3,96.3L125.7,98.7L126.2,100.9L126.7,102.8L127.1,104.1L127.6,104.8L128.0,104.9L128.5,104.4L129.0,103.4L129.4,102.1L129.9,100.6L130.4,99.0L130.8,97.7L131.3,96.6L131.8,95.9L132.2,95.6L132.7,95.7L133.2,96.2L133.6,97.1L134.1,98.1L134.5,99.3L135.0,100.5L135.5,101.5L135.9,102.4L136.4,102.9L136.9,103.2L137.3,103.2L137.8,103.0L138.3,102.5L138.7,101.9L139.2,101.3L139.7,100.6L140.1,100.1L140.6,99.7L141.0,99.4L141.5,99.4L142.0,99.6L142.4,99.9L142.9,100.4L143.4,100.9L143.8,101.5L144.3,102.1L144.8,102.6L145.2,103.0L145.7,103.3L146.2,103.4L146.6,103.5L147.1,103.4L147.5,103.2L148.0,103.0L148.5,102.7L148.9,102.5L149.4,102.3L149.9,102.1L150.3,102.1L150.8,102.2L151.3,102.3L151.7,102.5L152.2,102.8L152.7,103.1L153.1,103.4L153.6,103.8L154.0,104.0L154.5,104.3L155.0,104.4L155.4,104.5L155.9,104.6L156.4,104.6L156.8,104.6L157.3,104.5L157.8,104.4L158.2,104.4L158.7,104.3L159.2,104.3L159.6,104.4L160.1,104.5L161.0,104.8L164.6,106.1L168.2,106.4L171.8,107.4L175.4,108.3L178.9,109.0L182.5,110.0L186.1,110.9L189.7,111.9L193.3,112.9L196.9,113.9L200.5,115.0L204.1,116.0L207.6,117.0L211.2,118.0L214.8,119.0L218.4,119.9L222.0,120.8L225.6,121.7L229.2,122.6L232.7,123.4L236.3,124.3L239.9,125.2L243.5,126.1L247.1,127.1L250.7,128.1L254.3,129.2L257.9,130.3L261.4,131.6L265.0,132.8L268.6,134.1L272.2,135.5L275.8,136.8L279.4,138.2L283.0,139.6L286.6,141.0L290.1,142.3L293.7,143.7L297.3,145.0L300.9,146.3L304.5,147.6L308.1,148.9L311.7,150.2L315.3,151.5L318.8,152.9L322.4,154.2L326.0,155.5L329.6,156.9L333.2,158.3L336.8,159.7L340.4,161.1L344.0,162.6L347.5,164.0L351.1,165.4L354.7,166.8L358.3,168.2L361.9,169.7L365.5,171.1L369.1,172.5L372.7,173.9L376.2,175.3L379.8,176.7L383.4,177.9L387.0,178.9L390.6,179.7L394.2,180.4L397.8,181.0L401.4,181.5L404.9,182.0L408.5,182.5L412.1,182.8L415.7,183.1L419.3,183.2L422.9,183.4L426.5,183.5L430.1,183.6L433.6,183.7L437.2,183.8L440.8,183.9L444.4,183.9" stroke="#1414c8" stroke-width="2" fill="none"/>
<path d="M123.4,284.6L123.9,283.7L124.3,282.2L124.8,280.0L125.3,277.6L125.7,275.2L126.2,272.9L126.7,271.0L127.1,269.7L127.6,269.0L128.0,268.9L128.5,269.4L129.0,270.3L129.4,271.6L129.9,273.1L130.4,274.6L130.8,276.0L131.3,277.0L131.8,277.7L132.2,278.0L132.7,277.9L133.2,277.3L133.6,276.5L134.1,275.4L134.5,274.2L135.0,273.0L135.5,272.0L135.9,271.1L136.4,270.5L136.9,270.2L137.3,270.1L137.8,270.4L138.3,270.8L138.7,271.4L139.2,272.0L139.7,272.7L140.1,273.2L140.6,273.6L141.0,273.8L141.5,273.9L142.0,273.7L142.4,273.3L142.9,272.9L143.4,272.3L143.8,271.7L144.3,271.1L144.8,270.6L145.2,270.1L145.7,269.8L146.2,269.7L146.6,269.6L147.1,269.7L147.5,269.9L148.0,270.1L148.5,270.4L148.9,270.6L149.4,270.8L149.9,270.9L150.3,270.9L150.8,270.9L151.3,270.7L151.7,270.5L152.2,270.2L152.7,269.9L153.1,269.5L153.6,269.2L154.0,268.9L154.5,268.7L155.0,268.5L155.4,268.4L155.9,268.4L156.4,268.4L156.8,268.4L157.3,268.5L157.8,268.5L158.2,268.6L158.7,268.6L159.2,268.6L159.6,268.6L160.1,268.5L161.0,268.2L164.6,266.9L168.2,266.6L171.8,265.7L175.4,264.8L178.9,264.0L182.5,262.9L186.1,261.9L189.7,260.7L193.3,259.4L196.9,258.2L200.5,256.8L204.1,255.6L207.6,254.3L211.2,253.1L214.8,251.9L218.4,250.8L222.0,249.7L225.6,248.7L229.2,247.7L232.7,246.7L236.3,245.7L239.9,244.7L243.5,243.7L247.1,242.7L250.7,241.6L254.3,240.5L257.9,239.5L261.4,238.4L265.0,237.3L268.6,236.2L272.2,235.1L275.8,234.0L279.4,232.9L283.0,231.7L286.6,230.6L290.1,229.4L293.7,228.1L297.3,226.9L300.9,225.6L304.5,224.2L308.1,222.8L311.7,221.4L315.3,220.0L318.8,218.5L322.4,217.0L326.0,215.5L329.6,214.0L333.2,212.5L336.8,210.9L340.4,209.3L344.0,207.7L347.5,206.1L351.1,204.4L354.7,202.8L358.3,201.1L361.9,199.3L365.5,197.6L369.1,195.8L372.7,194.1L376.2,192.6L379.8,191.0L383.4,189.6L387.0,188.6L390.6,187.8L394.2,187.1L397.8,186.6L401.4,186.3L404.9,186.0L408.5,185.8L412.1,185.6L415.7,185.4L419.3,185.3L422.9,185.2L426.5,185.0L430.1,184.9L433.6,184.8L437.2,184.7L440.8,184.7L444.4,184.7" stroke="#1414c8" stroke-width="2" fill="none"/>
<path d="M123.4,293.9v-4.0M123.4,80.1v4.0M146.3,293.9v-2.2M146.3,80.1v2.2M169.3,293.9v-4.0M169.3,80.1v4.0M192.2,293.9v-2.2M192.2,80.1v2.2M215.1,293.9v-4.0M215.1,80.1v4.0M238.0,293.9v-2.2M238.0,80.1v2.2M261.0,293.9v-4.0M261.0,80.1v4.0M283.9,293.9v-2.2M283.9,80.1v2.2M306.8,293.9v-4.0M306.8,80.1v4.0M329.8,293.9v-2.2M329.8,80.1v2.2M352.7,293.9v-4.0M352.7,80.1v4.0M375.6,293.9v-2.2M375.6,80.1v2.2M398.5,293.9v-4.0M398.5,80.1v4.0M421.5,293.9v-2.2M421.5,80.1v2.2M444.4,293.9v-4.0M444.4,80.1v4.0M123.4,284.6h4.0M444.4,284.6h-4.0M123.4,265.1h2.2M444.4,265.1h-2.2M123.4,245.6h4.0M444.4,245.6h-4.0M123.4,226.0h2.2M444.4,226.0h-2.2M123.4,206.5h4.0M444.4,206.5h-4.0M123.4,187.0h2.2M444.4,187.0h-2.2M123.4,167.5h4.0M444.4,167.5h-4.0M123.4,148.0h2.2M444.4,148.0h-2.2M123.4,128.4h4.0M444.4,128.4h-4.0M123.4,108.9h2.2M444.4,108.9h-2.2M123.4,89.4h4.0M444.4,89.4h-4.0" stroke="#222" stroke-width="0.9" fill="none"/>
<rect x="123.4" y="80.1" width="321.0" height="213.8" fill="none" stroke="#222" stroke-width="1.1"/>
<text x="123.4" y="307.3" font-size="11.2" text-anchor="middle">0</text>
<text x="169.3" y="307.3" font-size="11.2" text-anchor="middle">5</text>
<text x="215.1" y="307.3" font-size="11.2" text-anchor="middle">10</text>
<text x="261.0" y="307.3" font-size="11.2" text-anchor="middle">15</text>
<text x="306.8" y="307.3" font-size="11.2" text-anchor="middle">20</text>
<text x="352.7" y="307.3" font-size="11.2" text-anchor="middle">25</text>
<text x="398.5" y="307.3" font-size="11.2" text-anchor="middle">30</text>
<text x="444.4" y="307.3" font-size="11.2" text-anchor="middle">35</text>
<text x="117.4" y="288.4" font-size="11.2" text-anchor="end">0.0</text>
<text x="117.4" y="249.4" font-size="11.2" text-anchor="end">0.2</text>
<text x="117.4" y="210.3" font-size="11.2" text-anchor="end">0.4</text>
<text x="117.4" y="171.3" font-size="11.2" text-anchor="end">0.6</text>
<text x="117.4" y="132.2" font-size="11.2" text-anchor="end">0.8</text>
<text x="117.4" y="93.2" font-size="11.2" text-anchor="end">1.0</text>
<text transform="translate(95.6,186) rotate(-90)" font-size="14.9" text-anchor="middle">Population transfer <tspan font-style="italic">P</tspan></text>
<text x="288.5" y="326" font-size="13.1" text-anchor="middle">Interrogation time (s)</text>
<path d="M318.9,237.3L319.8,237.7L320.8,238.7L321.7,240.4L322.7,242.7L323.6,245.4L324.5,248.4L325.5,251.7L326.4,254.9L327.4,258.1L328.3,261.0L329.2,263.6L330.2,265.6L331.1,267.0L332.1,267.8L333.0,267.8L333.9,267.2L334.9,265.8L335.8,263.9L336.8,261.4L337.7,258.6L338.6,255.4L339.6,252.1L340.5,248.9L341.5,245.8L342.4,243.0L343.3,240.7L344.3,238.9L345.2,237.8L346.1,237.3L347.1,237.6L348.0,238.5L349.0,240.1L349.9,242.3L350.8,245.0L351.8,248.0L352.7,251.2L353.7,254.5L354.6,257.7L355.5,260.6L356.5,263.2L357.4,265.3L358.4,266.8L359.3,267.7L360.2,267.8L361.2,267.3L362.1,266.1L363.1,264.2L364.0,261.8L364.9,259.0L365.9,255.9L366.8,252.6L367.8,249.3L368.7,246.2L369.6,243.4L370.6,241.0L371.5,239.1L372.5,237.9L373.4,237.4L374.3,237.5L375.3,238.4L376.2,239.9L377.2,242.0L378.1,244.6L379.0,247.5L380.0,250.7L380.9,254.0L381.9,257.2L382.8,260.2L383.7,262.9L384.7,265.1L385.6,266.7L386.6,267.6L387.5,267.9L388.4,267.4L389.4,266.3L390.3,264.5L391.3,262.2L392.2,259.4L393.1,256.3L394.1,253.1L395.0,249.8L396.0,246.6L396.9,243.8L397.8,241.3L398.8,239.4L399.7,238.0L400.6,237.4L401.6,237.4L402.5,238.2L403.5,239.6L404.4,241.6L405.3,244.2L406.3,247.1L407.2,250.3L408.2,253.5L409.1,256.8L410.0,259.8L411.0,262.5L411.9,264.8L412.9,266.5L413.8,267.5L414.7,267.9L415.7,267.5L416.6,266.5L417.6,264.8L418.5,262.5L419.4,259.8L420.4,256.8L421.3,253.5L422.3,250.3L423.2,247.1L424.1,244.2L425.1,241.6L426.0,239.6L427.0,238.2L427.9,237.4L428.8,237.4L429.8,238.0L430.7,239.4" stroke="#1a8a1a" stroke-width="1.5" fill="none"/>
<path d="M318.9,234.7h.01M321.2,236.3h.01M323.5,247.3h.01M325.7,251.9h.01M328.0,260.7h.01M330.3,264.5h.01M332.6,272.8h.01M334.9,264.8h.01M337.2,260.9h.01M339.4,251.8h.01M341.7,243.5h.01M344.0,243.3h.01M346.3,237.4h.01M348.6,239.4h.01M350.8,244.0h.01M353.1,250.7h.01M355.4,259.0h.01M357.7,267.1h.01M360.0,266.7h.01M362.3,267.1h.01M364.5,259.0h.01M366.8,252.9h.01M369.1,245.3h.01M371.4,239.2h.01M373.7,240.0h.01M375.9,239.9h.01M378.2,247.0h.01M380.5,251.1h.01M382.8,258.1h.01M385.1,268.2h.01M387.4,271.6h.01M389.6,265.4h.01M391.9,261.2h.01M394.2,254.2h.01M396.5,241.2h.01M398.8,240.1h.01M401.1,239.0h.01M403.3,239.8h.01M405.6,244.5h.01M407.9,250.0h.01M410.2,259.7h.01M412.5,267.9h.01M414.7,268.7h.01M417.0,262.8h.01M419.3,263.1h.01M421.6,252.7h.01M423.9,243.0h.01M426.2,238.9h.01M428.4,237.7h.01M430.7,240.9h.01" stroke="#000" stroke-width="3" stroke-linecap="round" fill="none"/>
<path d="M318.9,274.5v-3.0M318.9,230.7v3.0M337.9,274.5v-1.8M337.9,230.7v1.8M356.9,274.5v-3.0M356.9,230.7v3.0M375.9,274.5v-1.8M375.9,230.7v1.8M395.0,274.5v-3.0M395.0,230.7v3.0M414.0,274.5v-1.8M414.0,230.7v1.8M433.0,274.5v-3.0M433.0,230.7v3.0M318.9,269.2h3.0M433.0,269.2h-3.0M318.9,252.6h1.8M433.0,252.6h-1.8M318.9,236.0h3.0M433.0,236.0h-3.0" stroke="#222" stroke-width="0.9" fill="none"/>
<rect x="318.9" y="230.7" width="114.1" height="43.8" fill="none" stroke="#222" stroke-width="1"/>
<text x="318.9" y="283.9" font-size="10.3" text-anchor="middle">0.0</text>
<text x="356.9" y="283.9" font-size="10.3" text-anchor="middle">0.5</text>
<text x="395.0" y="283.9" font-size="10.3" text-anchor="middle">1.0</text>
<text x="433.0" y="283.9" font-size="10.3" text-anchor="middle">1.5</text>
<text x="316.4" y="239.5" font-size="10.3" text-anchor="end">1.0</text>
<text x="316.4" y="272.7" font-size="10.3" text-anchor="end">0.0</text>
</svg>
<svg style="left:1854px;top:0" width="927" height="280">
<path d="M515.5,96.3L543.8,103.7M515.5,124.8L621.7,152.7M515.5,176.6L639.8,210.8" stroke="#000" stroke-width="1.1" fill="none"/>
<path d="M525.7,95.8l2.6,4.4h-5.2z" fill="#1a8a1a"/>
<path d="M530.2,97.0l2.6,4.4h-5.2z" fill="#1a8a1a"/>
<path d="M534.7,98.1l2.6,4.4h-5.2z" fill="#1a8a1a"/>
<path d="M539.2,99.6l2.6,4.4h-5.2z" fill="#1a8a1a"/>
<path d="M542.1,100.5l2.6,4.4h-5.2z" fill="#1a8a1a"/>
<path d="M518.7,126.3h5.7" stroke="#1a1aee" stroke-width="1.2"/>
<rect x="519.3" y="124.1" width="4.4" height="4.4" fill="#1a1aee"/>
<path d="M527.7,129.6h6.8" stroke="#1a1aee" stroke-width="1.2"/>
<rect x="528.9" y="127.4" width="4.4" height="4.4" fill="#1a1aee"/>
<path d="M536.2,131.6h11.3" stroke="#1a1aee" stroke-width="1.2"/>
<rect x="539.6" y="129.4" width="4.4" height="4.4" fill="#1a1aee"/>
<path d="M541.5,134.9h31.6" stroke="#1a1aee" stroke-width="1.2"/>
<rect x="555.1" y="132.7" width="4.4" height="4.4" fill="#1a1aee"/>
<path d="M576.5,144.7h29.4" stroke="#1a1aee" stroke-width="1.2"/>
<rect x="589.0" y="142.5" width="4.4" height="4.4" fill="#1a1aee"/>
<path d="M600.9,152.4h40.7" stroke="#1a1aee" stroke-width="1.2"/>
<rect x="619.1" y="150.2" width="4.4" height="4.4" fill="#1a1aee"/>
<path d="M528.3,180.7h4.5" stroke="#ee1a1a" stroke-width="1.2"/>
<circle cx="530.5" cy="180.7" r="2.5" fill="#ee1a1a"/>
<path d="M541.7,184.3h5.7" stroke="#ee1a1a" stroke-width="1.2"/>
<circle cx="544.5" cy="184.3" r="2.5" fill="#ee1a1a"/>
<path d="M556.9,190.8h11.3" stroke="#ee1a1a" stroke-width="1.2"/>
<circle cx="562.5" cy="190.8" r="2.5" fill="#ee1a1a"/>
<path d="M597.4,202.0h14.7" stroke="#ee1a1a" stroke-width="1.2"/>
<circle cx="604.8" cy="202.0" r="2.5" fill="#ee1a1a"/>
<path d="M621.8,210.8h37.3" stroke="#ee1a1a" stroke-width="1.2"/>
<circle cx="640.5" cy="210.8" r="2.5" fill="#ee1a1a"/>
<path d="M515.5,157.0V79.9H659.4V157.0M515.5,160.0V224.4H659.4V160.0" fill="none" stroke="#111" stroke-width="1.1"/>
<path d="M513.0,158.2l5,-2.4M513.0,161.2l5,-2.4M656.9,158.2l5,-2.4M656.9,161.2l5,-2.4" stroke="#111" stroke-width="0.9"/>
<path d="M515.5,224.4v-3.5M515.5,79.9v3.5M543.8,224.4v-2.0M543.8,79.9v2.0M572.0,224.4v-3.5M572.0,79.9v3.5M600.2,224.4v-2.0M600.2,79.9v2.0M628.5,224.4v-3.5M628.5,79.9v3.5M656.8,224.4v-2.0M656.8,79.9v2.0M515.5,85.6h3.5M659.4,85.6h-3.5M515.5,100.4h2.0M659.4,100.4h-2.0M515.5,115.3h3.5M659.4,115.3h-3.5M515.5,130.2h2.0M659.4,130.2h-2.0M515.5,145.0h3.5M659.4,145.0h-3.5M515.5,165.4h3.5M659.4,165.4h-3.5M515.5,180.2h2.0M659.4,180.2h-2.0M515.5,194.9h3.5M659.4,194.9h-3.5M515.5,209.7h2.0M659.4,209.7h-2.0" stroke="#111" stroke-width="0.9" fill="none"/>
<text x="512.3" y="89.4" font-size="11.2" text-anchor="end">0</text>
<text x="512.3" y="119.1" font-size="11.2" text-anchor="end">-5</text>
<text x="512.3" y="148.8" font-size="11.2" text-anchor="end">-10</text>
<text x="512.3" y="169.2" font-size="11.2" text-anchor="end">-40</text>
<text x="512.3" y="198.7" font-size="11.2" text-anchor="end">-45</text>
<text x="512.3" y="228.2" font-size="11.2" text-anchor="end">-50</text>
<text x="515.5" y="238" font-size="11.2" text-anchor="middle">0</text>
<text x="572.0" y="238" font-size="11.2" text-anchor="middle">5</text>
<text x="628.5" y="238" font-size="11.2" text-anchor="middle">10</text>
<text x="587.4" y="254.4" font-size="13" text-anchor="middle">Mean density (10<tspan font-size="9" dy="-4.5">12</tspan><tspan dy="4.5">/cm</tspan><tspan font-size="9" dy="-4.5">3</tspan><tspan dy="4.5">)</tspan></text>
<text transform="translate(490.3,157.7) rotate(-90)" font-size="13" text-anchor="middle">Frequency shift (Hz)</text>
<text x="644" y="100" font-size="12.5" text-anchor="middle">(a)</text>
<path d="M704.4,86.6L829.1,216.6" stroke="#000" stroke-width="1.1"/>
<path d="M723.0,102.4l2.6,4.4h-5.2z" fill="#1a8a1a"/>
<path d="M733.1,119.4h6.4" stroke="#1a1aee" stroke-width="1.2"/>
<rect x="734.1" y="117.2" width="4.4" height="4.4" fill="#1a1aee"/>
<path d="M817.1,216.3h24.0" stroke="#ee1a1a" stroke-width="1.2"/>
<circle cx="829.1" cy="216.3" r="2.5" fill="#ee1a1a"/>
<rect x="704.4" y="79.9" width="146.3" height="144.5" fill="none" stroke="#111" stroke-width="1.1"/>
<path d="M704.4,224.4v-3.5M704.4,79.9v3.5M733.4,224.4v-2.0M733.4,79.9v2.0M762.4,224.4v-3.5M762.4,79.9v3.5M791.4,224.4v-2.0M791.4,79.9v2.0M820.4,224.4v-3.5M820.4,79.9v3.5M849.4,224.4v-2.0M849.4,79.9v2.0M704.4,87.1h2.0M850.7,87.1h-2.0M704.4,100.9h3.5M850.7,100.9h-3.5M704.4,114.7h2.0M850.7,114.7h-2.0M704.4,128.4h3.5M850.7,128.4h-3.5M704.4,142.2h2.0M850.7,142.2h-2.0M704.4,156.0h3.5M850.7,156.0h-3.5M704.4,169.8h2.0M850.7,169.8h-2.0M704.4,183.5h3.5M850.7,183.5h-3.5M704.4,197.3h2.0M850.7,197.3h-2.0M704.4,211.1h3.5M850.7,211.1h-3.5" stroke="#111" stroke-width="0.9" fill="none"/>
<text x="701.3" y="104.7" font-size="11.2" text-anchor="end">0</text>
<text x="701.3" y="132.2" font-size="11.2" text-anchor="end">-10</text>
<text x="701.3" y="159.8" font-size="11.2" text-anchor="end">-20</text>
<text x="701.3" y="187.3" font-size="11.2" text-anchor="end">-30</text>
<text x="701.3" y="214.9" font-size="11.2" text-anchor="end">-40</text>
<text x="704.4" y="238" font-size="11.2" text-anchor="middle">0</text>
<text x="762.4" y="238" font-size="11.2" text-anchor="middle">10</text>
<text x="820.4" y="238" font-size="11.2" text-anchor="middle">20</text>
<text x="777.8" y="254.4" font-size="13" text-anchor="middle">Intensity (kW/cm<tspan font-size="9" dy="-4.5">2</tspan><tspan dy="4.5">)</tspan></text>
<text transform="translate(681.3,157.7) rotate(-90)" font-size="13" text-anchor="middle">Frequency shift (Hz)</text>
<text x="834.5" y="100" font-size="12.5" text-anchor="middle">(b)</text>
</svg>
<div class="b " style="left:1936.00px;top:347.24px;width:371.00px;font-size:14.20px;line-height:16.53px;--h:16.53px">
<p class="j" id="L162">FIG. 2.&nbsp; Population transfer <i>P</i> in a Ramsey sequence optimized</p>
<p class="j" id="L163">for long coherence time (see text). The inset shows clear fringes</p>
<p class="j" id="L164" style="word-spacing:-0.05px">for the first 1.5 s. However, they wash out due to frequency noise</p>
<p class="j" id="L165" style="word-spacing:-0.14px">after some seconds. Nonetheless the contrast remains well visible</p>
<p class="j" id="L166">and a 1/<i>e</i> coherence time of 21 s is obtained, which constitutes</p>
<p class="j" id="L167">a dramatic increase over previous experiments.&nbsp; The solid line</p>
<p class="e" id="L168">represents a solution of the numeric model.</p>
</div>
<div class="b " style="left:1936.00px;top:497.07px;width:371.00px;font-size:15.80px;line-height:18.19px;--h:18.19px">
<p class="j" id="L169">that the determination of &Delta;<sub>0</sub> necessitates a good knowl-</p>
<p class="j" id="L170">edge of the DLS and the density shift (see below).&nbsp; The</p>
<p class="j" id="L171" style="word-spacing:-0.41px">simple theoretical model provides an excellent understand-</p>
<p class="j" id="L172">ing of the measurements and allows for an optimization of</p>
<p class="j" id="L173">the relevant experimental parameters towards a drastic in-</p>
<p class="e" id="L174">crease of the coherence time.</p>
<p class="j i" id="L175">Improvement of the coherence time requires simultane-</p>
<p class="j" id="L176">ous optimization of conditions (i) and (ii).&nbsp; While <span class="m"><i>&omega;</i><sub>ex</sub>/&Delta;<sub>0</sub></span></p>
<p class="j" id="L177" style="word-spacing:-0.41px">can easily be increased with density, <span class="m"><i>&omega;</i><sub>ex</sub>/(<i>&pi;&gamma;</i><sub>c</sub>)</span> can only be</p>
<p class="j" id="L178">increased by lowering the temperature. The mean trap fre-</p>
<p class="j" id="L179" style="word-spacing:-0.85px">quency is therefore reduced to 2<i>&pi;</i>&thinsp;&times;&thinsp;51 Hz while cooling the</p>
<p class="j" id="L180">ensemble to a temperature of 100(20) nK at a mean den-</p>
<p class="j" id="L181" style="word-spacing:-0.36px">sity of 0.3&thinsp;&times;&thinsp;10<sup>12</sup>&thinsp;cm<sup>&minus;3</sup>. In such an optimized configuration,</p>
<p class="j" id="L182"><span class="m"><i>&omega;</i><sub>ex</sub>/(<i>&pi;&gamma;</i><sub>c</sub>)</span> is increased to 9.6 while preserving <span class="m">&Delta;<sub>0</sub>/<i>&omega;</i><sub>ex</sub></span> at</p>
<p class="j" id="L183">20.8. Under these conditions, the coherence time is inves-</p>
<p class="j" id="L184">tigated within an extended hold time of 36.2 s.&nbsp; Figure 2</p>
<p class="j" id="L185">shows the population transfer <i>P</i> for a variable interroga-</p>
<p class="j" id="L186">tion time with a microwave detuning of 0 Hz.&nbsp; Although</p>
<p class="j" id="L187">the fringes are quickly washed out due to the instability of</p>
<p class="j" id="L188" style="word-spacing:-0.56px">the absolute frequency, the contrast persists over many sec-</p>
<p class="j" id="L189">onds. The 1/<i>e</i> coherence time is 21 s and complete loss of</p>
<p class="j" id="L190">coherence occurs at 26 s.&nbsp; A reduction of the contrast due</p>
<p class="j" id="L191">to asymmetric atom loss can be neglected since we mea-</p>
<p class="j" id="L192">sure a 38 s differential lifetime of |&uarr;&rang; and |&darr;&rang;.&nbsp; The mea-</p>
<p class="j" id="L193">sured contrast is well reproduced by the numerical model</p>
<p class="j" id="L194">without parameter fitting.&nbsp; Note that the model reflects the</p>
<p class="e" id="L195">non-exponential shape of the contrast reduction.</p>
<p class="j i" id="L196">The presented analysis of spin self-rephasing requires</p>
<p class="j" id="L197">precise knowledge of both the mean field density shift and</p>
<p class="j" id="L198">the DLS. To determine these values, we perform mea-</p>
<p class="j" id="L199">surements of the absolute frequency for various atomic</p>
<p class="j" id="L200">densities in three different trap configurations with mean</p>
<p class="j" id="L201">trap frequencies of 2<i>&pi;</i>&thinsp;&times;&thinsp;{51,70, and 112} Hz.&nbsp; The mea-</p>
</div>
<div class="b " style="left:2334.30px;top:277.16px;width:370.80px;font-size:14.20px;line-height:16.50px;--h:16.50px">
<p class="j" id="L202">FIG. 3.&nbsp; Measurement of the relevant frequency shifts compared</p>
<p class="j" id="L203">to the zero field transition.&nbsp; Three trap configurations with mean</p>
<p class="j" id="L204">trap frequencies of 2<i>&pi;</i> &times; 51 Hz (green triangles), 2<i>&pi;</i> &times; 70 Hz</p>
<p class="j" id="L205">(blue squares), and 2<i>&pi;</i> &times; 112 Hz (red circles) were investigated.</p>
<p class="j" id="L206">(a) Frequency shift as a function of the mean density (statistical</p>
<p class="j" id="L207">error bars).&nbsp; The extrapolation to zero density yields a residual</p>
<p class="j" id="L208">shift, plotted in (b) as a function of the ensemble averaged light</p>
<p class="j" id="L209">intensity for each trap (estimated uncertainties).&nbsp; The slope of a</p>
<p class="e" id="L210">linear fit determines the DLS.</p>
</div>
<div class="b " style="left:2334.30px;top:460.67px;width:370.80px;font-size:15.80px;line-height:18.19px;--h:18.19px">
<p class="j" id="L211">sured frequency shifts are presented in Fig. 3(a).&nbsp; All</p>
<p class="j" id="L212">three configurations show a clear linear dependence on</p>
<p class="j" id="L213">the mean density.&nbsp; The fitted slopes lie within 10% of</p>
<p class="j" id="L214"><span class="m"><i>&gamma;</i>/2<i>&pi;</i> = &minus;0.52 Hz/(10<sup>12</sup>cm<sup>&minus;3</sup>)</span> and agree well with the</p>
<p class="j" id="L215">predicted value of <span class="m">&minus;0.48 Hz/(10<sup>12</sup>cm<sup>&minus;3</sup>)</span> [31]. The DLS</p>
<p class="j" id="L216">can be obtained from an extrapolation of this frequency</p>
<p class="j" id="L217">shift to zero density.&nbsp; Figure 3(b) shows this value as a</p>
<p class="j" id="L218">function of the ensemble averaged light intensity.&nbsp; We</p>
<p class="j" id="L219">find a linear dependence on the intensity with <span class="m"><i>&delta;&alpha;</i>/2<i>&pi;</i> =</span></p>
<p class="j" id="L220">&minus;2.2(3) Hz/(kW cm<sup>&minus;2</sup>), which constitutes the first direct</p>
<p class="j" id="L221">measurement of the <sup>87</sup>Rb clock shift at 1064 nm.&nbsp; This</p>
<p class="j" id="L222">value confirms a first principle calculation [32] yielding</p>
<p class="j" id="L223">&minus;2.4 Hz/(kW cm<sup>&minus;2</sup>).&nbsp; The extrapolation to zero inten-</p>
<p class="j" id="L224">sity results in a residual shift of 5.2(6) Hz.&nbsp; This value is</p>
<p class="j" id="L225">in excellent agreement with the quadratic Zeeman shift of</p>
<p class="j" id="L226">5.2(1) Hz at the magnetic offset field of 95(1) mG which</p>
<p class="j" id="L227">is determined from the &Delta;<i>m</i><sub><i>F</i></sub>&thinsp;=&thinsp;1 transition. The presented</p>
<p class="j" id="L228">extrapolation procedure will allow for an absolute mea-</p>
<p class="e" id="L229">surement of the <sup>87</sup>Rb clock frequency in an optical trap.</p>
<p class="j i" id="L230">Finally, we present the frequency stability of our mea-</p>
<p class="j" id="L231">surements and analyze its principal noise contributions.</p>
<p class="j" id="L232">Thereby, we can infer the potential benefit of long coher-</p>
<p class="j" id="L233">ence times for a microwave frequency standard using an</p>
<p class="j" id="L234">optically trapped ensemble in a purpose-built setup.&nbsp; To</p>
<p class="j" id="L235">determine the noise contributions, the frequency is mea-</p>
<p class="j" id="L236">sured by Ramsey spectroscopy in a similar configuration</p>
<p class="j" id="L237">to Fig. 1(d).&nbsp; The interrogation time was set to 350 ms</p>
<p class="j" id="L238">coinciding with the first contrast revival.&nbsp; The detuning of</p>
<p class="j" id="L239" style="word-spacing:-0.29px">&minus;8.4 Hz was chosen such that the mean population transfer</p>
<p class="j" id="L240">is <i>P</i>&thinsp;&asymp;&thinsp;0.5 on the central Ramsey fringe.&nbsp; The population</p>
<p class="j" id="L241">transfer <i>P</i> was recorded in 215 consecutive measurements</p>
<p class="j" id="L242">at a cycle time of 28.1 s.&nbsp; The number of measurements</p>
<p class="j" id="L243">was limited to &asymp; 2 hours at night during standstill of the</p>
<p class="j" id="L244">near-by tram line.&nbsp; Figure 4 shows the overlapping Allan</p>
<p class="j" id="L245">standard deviation [33] for the frequencies extracted from</p>
</div>
<div class="t " style="left:3232.20px;width:400px;text-align:right;top:40.59px;font-size:15.80px;line-height:18.96px;">4</div>
<svg style="left:2781px;top:0" width="927" height="350">
<clipPath id="f4c"><rect x="133.4" y="79.6" width="318.2" height="227.4"/></clipPath>
<g clip-path="url(#f4c)">
<path d="M263.8,205.3L451.8,299.3" stroke="#000" stroke-width="1.2"/>
<path d="M261.5,92.2L288.1,107.5L303.6,110.5L314.7,111.3L323.3,112.3L330.3,113.4" stroke="#e85c5c" stroke-width="1.1" stroke-dasharray="3,2" fill="none"/>
<g fill="#fff" stroke="#e85c5c" stroke-width="0.55"><circle cx="261.5" cy="92.2" r="1.5"/><circle cx="288.1" cy="107.5" r="1.5"/><circle cx="303.6" cy="110.5" r="1.5"/><circle cx="314.7" cy="111.3" r="1.5"/><circle cx="323.3" cy="112.3" r="1.5"/><circle cx="330.3" cy="113.4" r="1.5"/><circle cx="336.2" cy="114.3" r="1.5"/><circle cx="341.3" cy="115.5" r="1.5"/><circle cx="345.8" cy="117.0" r="1.5"/><circle cx="349.9" cy="118.5" r="1.5"/><circle cx="353.5" cy="120.1" r="1.5"/><circle cx="356.9" cy="121.8" r="1.5"/><circle cx="359.9" cy="123.4" r="1.5"/><circle cx="362.8" cy="125.0" r="1.5"/><circle cx="365.4" cy="126.5" r="1.5"/><circle cx="367.9" cy="128.0" r="1.5"/><circle cx="370.2" cy="129.5" r="1.5"/><circle cx="372.4" cy="130.8" r="1.5"/><circle cx="374.5" cy="132.0" r="1.5"/><circle cx="376.5" cy="133.2" r="1.5"/><circle cx="378.3" cy="134.3" r="1.5"/><circle cx="380.1" cy="135.3" r="1.5"/><circle cx="381.8" cy="136.2" r="1.5"/><circle cx="383.5" cy="137.0" r="1.5"/><circle cx="385.0" cy="137.8" r="1.5"/><circle cx="386.5" cy="138.6" r="1.5"/><circle cx="388.0" cy="139.3" r="1.5"/><circle cx="389.4" cy="139.9" r="1.5"/><circle cx="390.7" cy="140.2" r="1.5"/><circle cx="392.0" cy="140.2" r="1.5"/><circle cx="393.3" cy="140.1" r="1.5"/><circle cx="394.5" cy="140.0" r="1.5"/><circle cx="395.7" cy="139.8" r="1.5"/><circle cx="396.8" cy="139.5" r="1.5"/><circle cx="398.0" cy="139.3" r="1.5"/><circle cx="399.0" cy="139.1" r="1.5"/><circle cx="400.1" cy="138.8" r="1.5"/><circle cx="401.1" cy="138.4" r="1.5"/><circle cx="402.1" cy="138.0" r="1.5"/><circle cx="403.1" cy="137.6" r="1.5"/><circle cx="404.0" cy="137.1" r="1.5"/><circle cx="405.0" cy="136.6" r="1.5"/><circle cx="405.9" cy="136.1" r="1.5"/><circle cx="406.7" cy="135.6" r="1.5"/><circle cx="407.6" cy="135.1" r="1.5"/><circle cx="408.5" cy="134.6" r="1.5"/><circle cx="409.3" cy="134.1" r="1.5"/><circle cx="410.1" cy="133.7" r="1.5"/><circle cx="410.9" cy="133.2" r="1.5"/><circle cx="411.7" cy="132.7" r="1.5"/><circle cx="412.4" cy="132.1" r="1.5"/><circle cx="413.2" cy="131.6" r="1.5"/><circle cx="413.9" cy="131.1" r="1.5"/><circle cx="414.6" cy="130.6" r="1.5"/><circle cx="415.3" cy="130.1" r="1.5"/><circle cx="416.0" cy="129.6" r="1.5"/><circle cx="416.7" cy="129.1" r="1.5"/><circle cx="417.4" cy="128.7" r="1.5"/><circle cx="418.0" cy="128.2" r="1.5"/><circle cx="418.7" cy="127.8" r="1.5"/><circle cx="419.3" cy="127.4" r="1.5"/><circle cx="419.9" cy="127.0" r="1.5"/><circle cx="420.5" cy="126.6" r="1.5"/><circle cx="421.1" cy="126.2" r="1.5"/><circle cx="421.7" cy="125.9" r="1.5"/><circle cx="422.3" cy="125.6" r="1.5"/><circle cx="422.9" cy="125.2" r="1.5"/><circle cx="423.5" cy="124.9" r="1.5"/><circle cx="424.0" cy="124.6" r="1.5"/><circle cx="424.6" cy="124.3" r="1.5"/><circle cx="425.1" cy="124.0" r="1.5"/><circle cx="425.7" cy="123.7" r="1.5"/><circle cx="426.2" cy="123.4" r="1.5"/><circle cx="426.7" cy="123.1" r="1.5"/><circle cx="427.2" cy="122.9" r="1.5"/><circle cx="427.7" cy="122.6" r="1.5"/><circle cx="428.2" cy="122.4" r="1.5"/><circle cx="428.7" cy="122.2" r="1.5"/><circle cx="429.2" cy="121.9" r="1.5"/><circle cx="429.7" cy="121.7" r="1.5"/><circle cx="430.2" cy="121.6" r="1.5"/><circle cx="430.6" cy="121.4" r="1.5"/><circle cx="431.1" cy="121.2" r="1.5"/><circle cx="431.6" cy="121.0" r="1.5"/><circle cx="432.0" cy="120.8" r="1.5"/><circle cx="432.5" cy="120.6" r="1.5"/><circle cx="432.9" cy="120.5" r="1.5"/><circle cx="433.4" cy="120.3" r="1.5"/><circle cx="433.8" cy="120.2" r="1.5"/><circle cx="434.2" cy="120.1" r="1.5"/><circle cx="434.6" cy="120.0" r="1.5"/><circle cx="435.1" cy="119.9" r="1.5"/><circle cx="435.5" cy="119.9" r="1.5"/><circle cx="435.9" cy="120.0" r="1.5"/><circle cx="436.3" cy="120.1" r="1.5"/><circle cx="436.7" cy="120.3" r="1.5"/><circle cx="437.1" cy="120.5" r="1.5"/><circle cx="437.5" cy="120.8" r="1.5"/><circle cx="437.9" cy="121.2" r="1.5"/><circle cx="438.3" cy="121.5" r="1.5"/><circle cx="438.6" cy="121.9" r="1.5"/><circle cx="439.0" cy="122.3" r="1.5"/><circle cx="439.4" cy="122.7" r="1.5"/></g>
<path d="M261.5,125.4L288.1,136.3L303.6,138.4L314.7,138.6L323.3,138.6L330.3,138.7" stroke="#5050e4" stroke-width="1.1" stroke-dasharray="3,2" fill="none"/>
<path d="M261.5,123.5l1.6,2.8h-3.2zM288.1,134.5l1.6,2.8h-3.2zM303.6,136.6l1.6,2.8h-3.2zM314.7,136.8l1.6,2.8h-3.2zM323.3,136.8l1.6,2.8h-3.2zM330.3,136.8l1.6,2.8h-3.2zM336.2,137.1l1.6,2.8h-3.2zM341.3,137.3l1.6,2.8h-3.2zM345.8,137.7l1.6,2.8h-3.2zM349.9,138.3l1.6,2.8h-3.2zM353.5,139.5l1.6,2.8h-3.2zM356.9,141.7l1.6,2.8h-3.2zM359.9,144.0l1.6,2.8h-3.2zM362.8,146.6l1.6,2.8h-3.2zM365.4,149.4l1.6,2.8h-3.2zM367.9,152.0l1.6,2.8h-3.2zM370.2,154.5l1.6,2.8h-3.2zM372.4,156.9l1.6,2.8h-3.2zM374.5,158.9l1.6,2.8h-3.2zM376.5,160.3l1.6,2.8h-3.2zM378.3,161.3l1.6,2.8h-3.2zM380.1,162.2l1.6,2.8h-3.2zM381.8,162.8l1.6,2.8h-3.2zM383.5,163.3l1.6,2.8h-3.2zM385.0,163.7l1.6,2.8h-3.2zM386.5,164.0l1.6,2.8h-3.2zM388.0,164.2l1.6,2.8h-3.2zM389.4,164.4l1.6,2.8h-3.2zM390.7,164.5l1.6,2.8h-3.2zM392.0,164.5l1.6,2.8h-3.2zM393.3,164.5l1.6,2.8h-3.2zM394.5,164.4l1.6,2.8h-3.2zM395.7,164.3l1.6,2.8h-3.2zM396.8,164.2l1.6,2.8h-3.2zM398.0,164.1l1.6,2.8h-3.2zM399.0,164.0l1.6,2.8h-3.2zM400.1,163.8l1.6,2.8h-3.2zM401.1,163.7l1.6,2.8h-3.2zM402.1,163.6l1.6,2.8h-3.2zM403.1,163.4l1.6,2.8h-3.2zM404.0,163.2l1.6,2.8h-3.2zM405.0,162.9l1.6,2.8h-3.2zM405.9,162.7l1.6,2.8h-3.2zM406.7,162.4l1.6,2.8h-3.2zM407.6,162.1l1.6,2.8h-3.2zM408.5,161.8l1.6,2.8h-3.2zM409.3,161.5l1.6,2.8h-3.2zM410.1,161.2l1.6,2.8h-3.2zM410.9,160.9l1.6,2.8h-3.2zM411.7,160.6l1.6,2.8h-3.2zM412.4,160.3l1.6,2.8h-3.2zM413.2,160.1l1.6,2.8h-3.2zM413.9,159.8l1.6,2.8h-3.2zM414.6,159.5l1.6,2.8h-3.2zM415.3,159.2l1.6,2.8h-3.2zM416.0,158.9l1.6,2.8h-3.2zM416.7,158.6l1.6,2.8h-3.2zM417.4,158.3l1.6,2.8h-3.2zM418.0,158.0l1.6,2.8h-3.2zM418.7,157.7l1.6,2.8h-3.2zM419.3,157.4l1.6,2.8h-3.2zM419.9,157.1l1.6,2.8h-3.2zM420.5,156.8l1.6,2.8h-3.2zM421.1,156.5l1.6,2.8h-3.2zM421.7,156.2l1.6,2.8h-3.2zM422.3,155.9l1.6,2.8h-3.2zM422.9,155.6l1.6,2.8h-3.2zM423.5,155.3l1.6,2.8h-3.2zM424.0,155.0l1.6,2.8h-3.2zM424.6,154.7l1.6,2.8h-3.2zM425.1,154.4l1.6,2.8h-3.2zM425.7,154.1l1.6,2.8h-3.2zM426.2,153.8l1.6,2.8h-3.2zM426.7,153.5l1.6,2.8h-3.2zM427.2,153.2l1.6,2.8h-3.2zM427.7,152.9l1.6,2.8h-3.2zM428.2,152.6l1.6,2.8h-3.2zM428.7,152.3l1.6,2.8h-3.2zM429.2,152.0l1.6,2.8h-3.2zM429.7,151.7l1.6,2.8h-3.2zM430.2,151.4l1.6,2.8h-3.2zM430.6,151.1l1.6,2.8h-3.2zM431.1,150.8l1.6,2.8h-3.2zM431.6,150.5l1.6,2.8h-3.2zM432.0,150.2l1.6,2.8h-3.2zM432.5,150.0l1.6,2.8h-3.2zM432.9,149.7l1.6,2.8h-3.2zM433.4,149.4l1.6,2.8h-3.2zM433.8,149.1l1.6,2.8h-3.2zM434.2,148.8l1.6,2.8h-3.2zM434.6,148.5l1.6,2.8h-3.2zM435.1,148.2l1.6,2.8h-3.2zM435.5,147.9l1.6,2.8h-3.2zM435.9,147.6l1.6,2.8h-3.2zM436.3,147.3l1.6,2.8h-3.2zM436.7,147.0l1.6,2.8h-3.2zM437.1,146.7l1.6,2.8h-3.2zM437.5,146.4l1.6,2.8h-3.2zM437.9,146.1l1.6,2.8h-3.2zM438.3,145.8l1.6,2.8h-3.2zM438.6,145.5l1.6,2.8h-3.2zM439.0,145.2l1.6,2.8h-3.2zM439.4,145.0l1.6,2.8h-3.2z" fill="#fff" stroke="#5050e4" stroke-width="0.55"/>
<path d="M261.5,162.1L288.1,187.8L303.6,196.2L314.7,202.4L323.3,203.5L330.3,204.1L336.2,204.5L341.3,205.1L345.8,206.5L349.9,209.1L353.5,211.8L356.9,214.6L359.9,217.4L362.8,218.2L365.4,218.0L367.9,217.7L370.2,217.4L372.4,216.5L374.5,215.7L376.5,215.6L378.3,216.8L380.1,219.0L381.8,224.0" stroke="#7d1414" stroke-width="1.2" fill="none"/>
<path d="M302.1,194.7h3v3h-3zM313.2,200.9h3v3h-3zM321.8,202.0h3v3h-3zM328.8,202.6h3v3h-3zM334.7,203.0h3v3h-3zM339.8,203.6h3v3h-3zM344.3,205.0h3v3h-3zM348.4,207.6h3v3h-3zM352.0,210.3h3v3h-3zM355.4,213.1h3v3h-3zM358.4,215.9h3v3h-3zM361.3,216.7h3v3h-3zM363.9,216.5h3v3h-3zM366.4,216.2h3v3h-3zM368.7,215.9h3v3h-3zM370.9,215.0h3v3h-3zM373.0,214.2h3v3h-3zM375.0,214.1h3v3h-3zM376.8,215.3h3v3h-3zM378.6,217.5h3v3h-3zM380.3,222.5h3v3h-3z" fill="#fff" stroke="#7d1414" stroke-width="0.7"/>
<path d="M261.5,169.5L288.1,183.9L303.6,186.2L314.7,186.9L323.3,187.0L330.3,187.0L336.2,187.0L341.3,187.0L345.8,187.0L349.9,187.0L353.5,187.3L356.9,188.1L359.9,189.1L362.8,190.0L365.4,191.0L367.9,192.1L370.2,193.3L372.4,194.3L374.5,195.1L376.5,195.8L378.3,196.4L380.1,197.0L381.8,197.5L383.5,198.0L385.0,198.6L386.5,199.0L388.0,199.5L389.4,199.9L390.7,200.4L392.0,200.8L393.3,201.2L394.5,201.6L395.7,202.0L396.8,202.5L398.0,202.9L399.0,203.4L400.1,203.8L401.1,204.3L402.1,204.8L403.1,205.3L404.0,205.9L405.0,206.5L405.9,207.2L406.7,208.0L407.6,208.9L408.5,209.9L409.3,210.9L410.1,212.0L410.9,213.2L411.7,214.4L412.4,215.6L413.2,216.9L413.9,218.5L414.6,220.3L415.3,222.3L416.0,224.4L416.7,226.4L417.4,228.5L418.0,230.3L418.7,232.1L419.3,233.5L419.9,234.8L420.5,235.7L421.1,236.4L421.7,237.0L422.3,237.6L422.9,238.2L423.5,238.6L424.0,238.8L424.6,238.9L425.1,238.8L425.7,238.5L426.2,238.2L426.7,238.0L427.2,237.8L427.7,237.7L428.2,237.9L428.7,238.5L429.2,239.2L429.7,240.2L430.2,241.3L430.6,242.5L431.1,243.8L431.6,245.2L432.0,246.6L432.5,248.0L432.9,249.8L433.4,251.9L433.8,254.3L434.2,256.9L434.6,259.6L435.1,262.2L435.5,264.8L435.9,267.2L436.3,269.4L436.7,271.5L437.1,273.5L437.5,275.5L437.9,277.4L438.3,279.3L438.6,281.2L439.0,282.6" stroke="#e81ee8" stroke-width="1.4" fill="none"/>
<path d="M261.5,167.2l2.0,3.5h-4.0zM288.1,181.6l2.0,3.5h-4.0zM303.6,183.9l2.0,3.5h-4.0zM314.7,184.6l2.0,3.5h-4.0zM323.3,184.7l2.0,3.5h-4.0zM330.3,184.7l2.0,3.5h-4.0zM336.2,184.7l2.0,3.5h-4.0zM341.3,184.7l2.0,3.5h-4.0zM345.8,184.7l2.0,3.5h-4.0zM349.9,184.7l2.0,3.5h-4.0zM353.5,185.0l2.0,3.5h-4.0zM356.9,185.8l2.0,3.5h-4.0zM359.9,186.8l2.0,3.5h-4.0zM362.8,187.7l2.0,3.5h-4.0zM365.4,188.7l2.0,3.5h-4.0zM367.9,189.8l2.0,3.5h-4.0zM370.2,191.0l2.0,3.5h-4.0zM372.4,192.0l2.0,3.5h-4.0zM374.5,192.8l2.0,3.5h-4.0zM376.5,193.5l2.0,3.5h-4.0zM378.3,194.1l2.0,3.5h-4.0zM380.1,194.7l2.0,3.5h-4.0zM381.8,195.2l2.0,3.5h-4.0zM383.5,195.7l2.0,3.5h-4.0zM385.0,196.3l2.0,3.5h-4.0zM386.5,196.7l2.0,3.5h-4.0zM388.0,197.2l2.0,3.5h-4.0zM389.4,197.6l2.0,3.5h-4.0zM390.7,198.1l2.0,3.5h-4.0zM392.0,198.5l2.0,3.5h-4.0zM393.3,198.9l2.0,3.5h-4.0zM394.5,199.3l2.0,3.5h-4.0zM395.7,199.7l2.0,3.5h-4.0zM396.8,200.2l2.0,3.5h-4.0zM398.0,200.6l2.0,3.5h-4.0zM399.0,201.1l2.0,3.5h-4.0zM400.1,201.5l2.0,3.5h-4.0zM401.1,202.0l2.0,3.5h-4.0zM402.1,202.5l2.0,3.5h-4.0zM403.1,203.0l2.0,3.5h-4.0zM404.0,203.6l2.0,3.5h-4.0zM405.0,204.2l2.0,3.5h-4.0zM405.9,204.9l2.0,3.5h-4.0zM406.7,205.7l2.0,3.5h-4.0zM407.6,206.6l2.0,3.5h-4.0zM408.5,207.6l2.0,3.5h-4.0zM409.3,208.6l2.0,3.5h-4.0zM410.1,209.7l2.0,3.5h-4.0zM410.9,210.9l2.0,3.5h-4.0zM411.7,212.1l2.0,3.5h-4.0zM412.4,213.3l2.0,3.5h-4.0zM413.2,214.6l2.0,3.5h-4.0zM413.9,216.2l2.0,3.5h-4.0zM414.6,218.0l2.0,3.5h-4.0zM415.3,220.0l2.0,3.5h-4.0zM416.0,222.1l2.0,3.5h-4.0zM416.7,224.1l2.0,3.5h-4.0zM417.4,226.2l2.0,3.5h-4.0zM418.0,228.0l2.0,3.5h-4.0zM418.7,229.8l2.0,3.5h-4.0zM419.3,231.2l2.0,3.5h-4.0zM419.9,232.5l2.0,3.5h-4.0zM420.5,233.4l2.0,3.5h-4.0zM421.1,234.1l2.0,3.5h-4.0zM421.7,234.7l2.0,3.5h-4.0zM422.3,235.3l2.0,3.5h-4.0zM422.9,235.9l2.0,3.5h-4.0zM423.5,236.3l2.0,3.5h-4.0zM424.0,236.5l2.0,3.5h-4.0zM424.6,236.6l2.0,3.5h-4.0zM425.1,236.5l2.0,3.5h-4.0zM425.7,236.2l2.0,3.5h-4.0zM426.2,235.9l2.0,3.5h-4.0zM426.7,235.7l2.0,3.5h-4.0zM427.2,235.5l2.0,3.5h-4.0zM427.7,235.4l2.0,3.5h-4.0zM428.2,235.6l2.0,3.5h-4.0zM428.7,236.2l2.0,3.5h-4.0zM429.2,236.9l2.0,3.5h-4.0zM429.7,237.9l2.0,3.5h-4.0zM430.2,239.0l2.0,3.5h-4.0zM430.6,240.2l2.0,3.5h-4.0zM431.1,241.5l2.0,3.5h-4.0zM431.6,242.9l2.0,3.5h-4.0zM432.0,244.3l2.0,3.5h-4.0zM432.5,245.7l2.0,3.5h-4.0zM432.9,247.5l2.0,3.5h-4.0zM433.4,249.6l2.0,3.5h-4.0zM433.8,252.0l2.0,3.5h-4.0zM434.2,254.6l2.0,3.5h-4.0zM434.6,257.3l2.0,3.5h-4.0zM435.1,259.9l2.0,3.5h-4.0zM435.5,262.5l2.0,3.5h-4.0zM435.9,264.9l2.0,3.5h-4.0zM436.3,267.1l2.0,3.5h-4.0zM436.7,269.2l2.0,3.5h-4.0zM437.1,271.2l2.0,3.5h-4.0zM437.5,273.2l2.0,3.5h-4.0zM437.9,275.1l2.0,3.5h-4.0zM438.3,277.0l2.0,3.5h-4.0zM438.6,278.9l2.0,3.5h-4.0zM439.0,280.3l2.0,3.5h-4.0z" fill="#e81ee8"/>
<path d="M261.5,207.3L288.1,218.1L303.6,215.2L314.7,209.3L323.3,204.3L330.3,200.9L336.2,198.6L341.3,197.0L345.8,196.3L349.9,196.0L353.5,196.4L356.9,197.4L359.9,198.8L362.8,201.1L365.4,203.9L367.9,207.4L370.2,212.2L372.4,217.1L374.5,221.7L376.5,226.4L378.3,231.0L380.1,235.0L381.8,238.1L383.5,240.8L385.0,243.3L386.5,245.2L388.0,246.2L389.4,246.2L390.7,245.6L392.0,244.7L393.3,243.6L394.5,241.4L395.7,237.7L396.8,233.3" stroke="#ff8c1a" stroke-width="1.4" fill="none"/>
<g fill="#ff8c1a"><circle cx="261.5" cy="207.3" r="1.9"/><circle cx="288.1" cy="218.1" r="1.9"/><circle cx="303.6" cy="215.2" r="1.9"/><circle cx="314.7" cy="209.3" r="1.9"/><circle cx="323.3" cy="204.3" r="1.9"/><circle cx="330.3" cy="200.9" r="1.9"/><circle cx="336.2" cy="198.6" r="1.9"/><circle cx="341.3" cy="197.0" r="1.9"/><circle cx="345.8" cy="196.3" r="1.9"/><circle cx="349.9" cy="196.0" r="1.9"/><circle cx="353.5" cy="196.4" r="1.9"/><circle cx="356.9" cy="197.4" r="1.9"/><circle cx="359.9" cy="198.8" r="1.9"/><circle cx="362.8" cy="201.1" r="1.9"/><circle cx="365.4" cy="203.9" r="1.9"/><circle cx="367.9" cy="207.4" r="1.9"/><circle cx="370.2" cy="212.2" r="1.9"/><circle cx="372.4" cy="217.1" r="1.9"/><circle cx="374.5" cy="221.7" r="1.9"/><circle cx="376.5" cy="226.4" r="1.9"/><circle cx="378.3" cy="231.0" r="1.9"/><circle cx="380.1" cy="235.0" r="1.9"/><circle cx="381.8" cy="238.1" r="1.9"/><circle cx="383.5" cy="240.8" r="1.9"/><circle cx="385.0" cy="243.3" r="1.9"/><circle cx="386.5" cy="245.2" r="1.9"/><circle cx="388.0" cy="246.2" r="1.9"/><circle cx="389.4" cy="246.2" r="1.9"/><circle cx="390.7" cy="245.6" r="1.9"/><circle cx="392.0" cy="244.7" r="1.9"/><circle cx="393.3" cy="243.6" r="1.9"/><circle cx="394.5" cy="241.4" r="1.9"/><circle cx="395.7" cy="237.7" r="1.9"/><circle cx="396.8" cy="233.3" r="1.9"/></g>
<path d="M261.5,265.0L288.1,256.5L303.6,242.8L314.7,234.8L323.3,228.7L330.3,225.4L336.2,223.4L341.3,222.2L345.8,222.1L349.9,222.1L353.5,222.2L356.9,223.3L359.9,225.1L362.8,227.9L365.4,232.0L367.9,237.3L370.2,244.1L372.4,251.9L374.5,260.8L376.5,271.1L378.3,280.2L380.1,285.8L381.8,290.2L383.5,292.3L385.0,292.7L386.5,292.9L388.0,293.1L389.4,292.7L390.7,290.3L392.0,287.0L393.3,283.7L394.5,280.2L395.7,276.3L396.8,272.9L398.0,270.2L399.0,267.7L400.1,265.7L401.1,265.0L402.1,265.6L403.1,267.0L404.0,268.8L405.0,270.8L405.9,273.2L406.7,276.5L407.6,279.9L408.5,283.1L409.3,285.6L410.1,288.3L410.9,290.9L411.7,292.9L412.4,294.1L413.2,294.2L413.9,294.1L414.6,293.8L415.3,293.5L416.0,293.0L416.7,291.6L417.4,289.2L418.0,286.6L418.7,284.5L419.3,283.4L419.9,282.7L420.5,282.1L421.1,281.8L421.7,281.9L422.3,282.7L422.9,284.1L423.5,285.6L424.0,287.2L424.6,288.6L425.1,290.1L425.7,291.8L426.2,293.6L426.7,295.0L427.2,296.0L427.7,296.2L428.2,296.0L428.7,295.5L429.2,294.9L429.7,294.1L430.2,293.3L430.6,292.5L431.1,291.5L431.6,290.2L432.0,288.7L432.5,287.3L432.9,286.2L433.4,285.7L433.8,285.7L434.2,286.0L434.6,286.4L435.1,286.8L435.5,287.4L435.9,288.0L436.3,288.5L436.7,289.2L437.1,289.9L437.5,290.7L437.9,291.6L438.3,292.5L438.6,293.5L439.0,294.3" stroke="#1a8a1a" stroke-width="1.2" fill="none"/>
<path d="M261.5,262.0L262.2,264.0L264.3,264.1L262.7,265.4L263.2,267.4L261.5,266.3L259.7,267.4L260.3,265.4L258.6,264.1L260.7,264.0zM288.1,253.5L288.8,255.5L290.9,255.6L289.3,256.9L289.8,259.0L288.1,257.8L286.3,259.0L286.9,256.9L285.2,255.6L287.3,255.5zM303.6,239.8L304.4,241.8L306.5,241.9L304.8,243.2L305.4,245.2L303.6,244.1L301.9,245.2L302.4,243.2L300.8,241.9L302.9,241.8zM314.7,231.8L315.4,233.7L317.5,233.8L315.9,235.2L316.5,237.2L314.7,236.0L312.9,237.2L313.5,235.2L311.8,233.8L313.9,233.7zM323.3,225.7L324.0,227.6L326.1,227.7L324.5,229.0L325.0,231.1L323.3,229.9L321.5,231.1L322.1,229.0L320.4,227.7L322.5,227.6zM330.3,222.4L331.0,224.3L333.1,224.4L331.5,225.7L332.0,227.8L330.3,226.6L328.5,227.8L329.1,225.7L327.4,224.4L329.5,224.3zM336.2,220.4L336.9,222.3L339.0,222.4L337.4,223.8L337.9,225.8L336.2,224.6L334.4,225.8L335.0,223.8L333.3,222.4L335.4,222.3zM341.3,219.2L342.0,221.2L344.2,221.2L342.5,222.6L343.1,224.6L341.3,223.4L339.5,224.6L340.1,222.6L338.4,221.2L340.6,221.2zM345.8,219.1L346.6,221.1L348.7,221.2L347.0,222.5L347.6,224.5L345.8,223.4L344.1,224.5L344.6,222.5L343.0,221.2L345.1,221.1zM349.9,219.1L350.6,221.1L352.7,221.2L351.1,222.5L351.6,224.5L349.9,223.4L348.1,224.5L348.7,222.5L347.0,221.2L349.1,221.1zM353.5,219.2L354.3,221.2L356.4,221.3L354.7,222.6L355.3,224.6L353.5,223.5L351.8,224.6L352.3,222.6L350.7,221.3L352.8,221.2zM356.9,220.3L357.6,222.3L359.7,222.4L358.1,223.7L358.6,225.8L356.9,224.6L355.1,225.8L355.7,223.7L354.0,222.4L356.1,222.3zM359.9,222.1L360.7,224.1L362.8,224.2L361.1,225.5L361.7,227.5L359.9,226.4L358.2,227.5L358.7,225.5L357.1,224.2L359.2,224.1zM362.8,224.9L363.5,226.8L365.6,226.9L364.0,228.3L364.5,230.3L362.8,229.1L361.0,230.3L361.6,228.3L359.9,226.9L362.0,226.8zM365.4,229.0L366.2,231.0L368.3,231.1L366.6,232.4L367.2,234.4L365.4,233.3L363.7,234.4L364.2,232.4L362.6,231.1L364.7,231.0zM367.9,234.3L368.7,236.3L370.8,236.3L369.1,237.7L369.7,239.7L367.9,238.5L366.1,239.7L366.7,237.7L365.1,236.3L367.2,236.3zM370.2,241.1L371.0,243.1L373.1,243.2L371.4,244.5L372.0,246.5L370.2,245.3L368.5,246.5L369.0,244.5L367.4,243.2L369.5,243.1zM372.4,248.9L373.2,250.9L375.3,251.0L373.6,252.3L374.2,254.3L372.4,253.1L370.7,254.3L371.2,252.3L369.6,251.0L371.7,250.9zM374.5,257.8L375.2,259.7L377.4,259.8L375.7,261.2L376.3,263.2L374.5,262.0L372.7,263.2L373.3,261.2L371.7,259.8L373.8,259.7zM376.5,268.1L377.2,270.1L379.3,270.2L377.7,271.5L378.2,273.6L376.5,272.4L374.7,273.6L375.3,271.5L373.6,270.2L375.7,270.1zM378.3,277.2L379.1,279.1L381.2,279.2L379.5,280.5L380.1,282.6L378.3,281.4L376.6,282.6L377.2,280.5L375.5,279.2L377.6,279.1zM380.1,282.8L380.9,284.8L383.0,284.9L381.3,286.2L381.9,288.3L380.1,287.1L378.4,288.3L378.9,286.2L377.3,284.9L379.4,284.8zM381.8,287.2L382.6,289.2L384.7,289.3L383.0,290.6L383.6,292.6L381.8,291.5L380.1,292.6L380.6,290.6L379.0,289.3L381.1,289.2zM383.5,289.3L384.2,291.3L386.3,291.4L384.7,292.7L385.2,294.7L383.5,293.5L381.7,294.7L382.3,292.7L380.6,291.4L382.7,291.3zM385.0,289.7L385.8,291.7L387.9,291.8L386.2,293.1L386.8,295.1L385.0,293.9L383.3,295.1L383.8,293.1L382.2,291.8L384.3,291.7zM386.5,289.9L387.3,291.9L389.4,292.0L387.7,293.3L388.3,295.4L386.5,294.2L384.8,295.4L385.4,293.3L383.7,292.0L385.8,291.9zM388.0,290.1L388.7,292.1L390.9,292.1L389.2,293.5L389.8,295.5L388.0,294.3L386.2,295.5L386.8,293.5L385.1,292.1L387.3,292.1zM389.4,289.7L390.1,291.6L392.2,291.7L390.6,293.1L391.2,295.1L389.4,293.9L387.6,295.1L388.2,293.1L386.5,291.7L388.7,291.6zM390.7,287.3L391.5,289.3L393.6,289.4L391.9,290.7L392.5,292.8L390.7,291.6L389.0,292.8L389.5,290.7L387.9,289.4L390.0,289.3zM392.0,284.0L392.8,286.0L394.9,286.1L393.2,287.4L393.8,289.5L392.0,288.3L390.3,289.5L390.8,287.4L389.2,286.1L391.3,286.0zM393.3,280.7L394.0,282.7L396.2,282.8L394.5,284.1L395.1,286.2L393.3,285.0L391.5,286.2L392.1,284.1L390.4,282.8L392.6,282.7zM394.5,277.2L395.3,279.2L397.4,279.3L395.7,280.6L396.3,282.7L394.5,281.5L392.8,282.7L393.3,280.6L391.7,279.3L393.8,279.2zM395.7,273.3L396.4,275.3L398.6,275.4L396.9,276.7L397.5,278.7L395.7,277.6L393.9,278.7L394.5,276.7L392.8,275.4L395.0,275.3zM396.8,269.9L397.6,271.9L399.7,272.0L398.0,273.3L398.6,275.3L396.8,274.2L395.1,275.3L395.7,273.3L394.0,272.0L396.1,271.9zM398.0,267.2L398.7,269.2L400.8,269.3L399.2,270.6L399.7,272.7L398.0,271.5L396.2,272.7L396.8,270.6L395.1,269.3L397.2,269.2zM399.0,264.7L399.8,266.6L401.9,266.7L400.2,268.1L400.8,270.1L399.0,268.9L397.3,270.1L397.8,268.1L396.2,266.7L398.3,266.6zM400.1,262.7L400.8,264.7L402.9,264.8L401.3,266.1L401.9,268.2L400.1,267.0L398.3,268.2L398.9,266.1L397.2,264.8L399.4,264.7zM401.1,262.0L401.9,264.0L404.0,264.1L402.3,265.4L402.9,267.4L401.1,266.3L399.4,267.4L399.9,265.4L398.3,264.1L400.4,264.0zM402.1,262.6L402.9,264.6L405.0,264.6L403.3,266.0L403.9,268.0L402.1,266.8L400.4,268.0L400.9,266.0L399.3,264.6L401.4,264.6zM403.1,264.0L403.8,265.9L405.9,266.0L404.3,267.4L404.9,269.4L403.1,268.2L401.3,269.4L401.9,267.4L400.2,266.0L402.3,265.9zM404.0,265.8L404.8,267.8L406.9,267.9L405.2,269.2L405.8,271.2L404.0,270.1L402.3,271.2L402.8,269.2L401.2,267.9L403.3,267.8zM405.0,267.8L405.7,269.7L407.8,269.8L406.2,271.2L406.7,273.2L405.0,272.0L403.2,273.2L403.8,271.2L402.1,269.8L404.2,269.7zM405.9,270.2L406.6,272.2L408.7,272.3L407.1,273.6L407.6,275.6L405.9,274.5L404.1,275.6L404.7,273.6L403.0,272.3L405.1,272.2zM406.7,273.5L407.5,275.4L409.6,275.5L407.9,276.8L408.5,278.9L406.7,277.7L405.0,278.9L405.5,276.8L403.9,275.5L406.0,275.4zM407.6,276.9L408.4,278.9L410.5,279.0L408.8,280.3L409.4,282.3L407.6,281.2L405.8,282.3L406.4,280.3L404.8,279.0L406.9,278.9zM408.5,280.1L409.2,282.0L411.3,282.1L409.7,283.5L410.2,285.5L408.5,284.3L406.7,285.5L407.3,283.5L405.6,282.1L407.7,282.0zM409.3,282.6L410.0,284.6L412.1,284.7L410.5,286.0L411.0,288.1L409.3,286.9L407.5,288.1L408.1,286.0L406.4,284.7L408.5,284.6zM410.1,285.3L410.8,287.3L412.9,287.4L411.3,288.7L411.9,290.8L410.1,289.6L408.3,290.8L408.9,288.7L407.2,287.4L409.3,287.3zM410.9,287.9L411.6,289.9L413.7,289.9L412.1,291.3L412.6,293.3L410.9,292.1L409.1,293.3L409.7,291.3L408.0,289.9L410.1,289.9zM411.7,289.9L412.4,291.9L414.5,292.0L412.9,293.3L413.4,295.3L411.7,294.2L409.9,295.3L410.5,293.3L408.8,292.0L410.9,291.9zM412.4,291.1L413.2,293.1L415.3,293.2L413.6,294.5L414.2,296.5L412.4,295.3L410.7,296.5L411.2,294.5L409.6,293.2L411.7,293.1zM413.2,291.2L413.9,293.2L416.0,293.3L414.4,294.6L414.9,296.7L413.2,295.5L411.4,296.7L412.0,294.6L410.3,293.3L412.4,293.2zM413.9,291.1L414.6,293.1L416.7,293.2L415.1,294.5L415.7,296.5L413.9,295.4L412.1,296.5L412.7,294.5L411.0,293.2L413.2,293.1zM414.6,290.8L415.3,292.8L417.5,292.9L415.8,294.2L416.4,296.3L414.6,295.1L412.8,296.3L413.4,294.2L411.8,292.9L413.9,292.8zM415.3,290.5L416.1,292.5L418.2,292.5L416.5,293.9L417.1,295.9L415.3,294.7L413.6,295.9L414.1,293.9L412.5,292.5L414.6,292.5zM416.0,290.0L416.7,292.0L418.9,292.1L417.2,293.4L417.8,295.5L416.0,294.3L414.2,295.5L414.8,293.4L413.2,292.1L415.3,292.0zM416.7,288.6L417.4,290.6L419.5,290.7L417.9,292.0L418.4,294.0L416.7,292.8L414.9,294.0L415.5,292.0L413.8,290.7L415.9,290.6zM417.4,286.2L418.1,288.2L420.2,288.3L418.6,289.6L419.1,291.6L417.4,290.4L415.6,291.6L416.2,289.6L414.5,288.3L416.6,288.2zM418.0,283.6L418.7,285.6L420.9,285.7L419.2,287.0L419.8,289.0L418.0,287.8L416.2,289.0L416.8,287.0L415.2,285.7L417.3,285.6zM418.7,281.5L419.4,283.5L421.5,283.6L419.9,284.9L420.4,286.9L418.7,285.7L416.9,286.9L417.5,284.9L415.8,283.6L417.9,283.5zM419.3,280.4L420.0,282.4L422.1,282.5L420.5,283.8L421.1,285.9L419.3,284.7L417.5,285.9L418.1,283.8L416.4,282.5L418.5,282.4zM419.9,279.7L420.7,281.7L422.8,281.8L421.1,283.1L421.7,285.1L419.9,283.9L418.1,285.1L418.7,283.1L417.1,281.8L419.2,281.7zM420.5,279.1L421.3,281.1L423.4,281.2L421.7,282.5L422.3,284.5L420.5,283.4L418.8,284.5L419.3,282.5L417.7,281.2L419.8,281.1zM421.1,278.8L421.9,280.8L424.0,280.9L422.3,282.2L422.9,284.2L421.1,283.1L419.4,284.2L419.9,282.2L418.3,280.9L420.4,280.8zM421.7,278.9L422.5,280.9L424.6,281.0L422.9,282.3L423.5,284.3L421.7,283.2L420.0,284.3L420.5,282.3L418.9,281.0L421.0,280.9zM422.3,279.7L423.1,281.7L425.2,281.8L423.5,283.1L424.1,285.2L422.3,284.0L420.5,285.2L421.1,283.1L419.5,281.8L421.6,281.7zM422.9,281.1L423.6,283.0L425.7,283.1L424.1,284.4L424.7,286.5L422.9,285.3L421.1,286.5L421.7,284.4L420.0,283.1L422.2,283.0zM423.5,282.6L424.2,284.6L426.3,284.7L424.7,286.0L425.2,288.0L423.5,286.9L421.7,288.0L422.3,286.0L420.6,284.7L422.7,284.6zM424.0,284.2L424.8,286.2L426.9,286.3L425.2,287.6L425.8,289.6L424.0,288.4L422.3,289.6L422.8,287.6L421.2,286.3L423.3,286.2zM424.6,285.6L425.3,287.5L427.4,287.6L425.8,289.0L426.3,291.0L424.6,289.8L422.8,291.0L423.4,289.0L421.7,287.6L423.8,287.5zM425.1,287.1L425.9,289.1L428.0,289.2L426.3,290.5L426.9,292.5L425.1,291.4L423.4,292.5L423.9,290.5L422.3,289.2L424.4,289.1zM425.7,288.8L426.4,290.8L428.5,290.9L426.9,292.2L427.4,294.3L425.7,293.1L423.9,294.3L424.5,292.2L422.8,290.9L424.9,290.8zM426.2,290.6L426.9,292.5L429.0,292.6L427.4,294.0L427.9,296.0L426.2,294.8L424.4,296.0L425.0,294.0L423.3,292.6L425.4,292.5zM426.7,292.0L427.4,294.0L429.6,294.1L427.9,295.4L428.5,297.4L426.7,296.3L424.9,297.4L425.5,295.4L423.9,294.1L426.0,294.0zM427.2,293.0L428.0,294.9L430.1,295.0L428.4,296.3L429.0,298.4L427.2,297.2L425.5,298.4L426.0,296.3L424.4,295.0L426.5,294.9zM427.7,293.2L428.5,295.2L430.6,295.3L428.9,296.6L429.5,298.6L427.7,297.5L426.0,298.6L426.5,296.6L424.9,295.3L427.0,295.2zM428.2,293.0L429.0,295.0L431.1,295.1L429.4,296.4L430.0,298.4L428.2,297.2L426.5,298.4L427.0,296.4L425.4,295.1L427.5,295.0zM428.7,292.5L429.5,294.5L431.6,294.6L429.9,295.9L430.5,297.9L428.7,296.8L427.0,297.9L427.5,295.9L425.9,294.6L428.0,294.5zM429.2,291.9L430.0,293.8L432.1,293.9L430.4,295.3L431.0,297.3L429.2,296.1L427.5,297.3L428.0,295.3L426.4,293.9L428.5,293.8zM429.7,291.1L430.4,293.1L432.6,293.2L430.9,294.5L431.5,296.5L429.7,295.4L427.9,296.5L428.5,294.5L426.8,293.2L429.0,293.1zM430.2,290.3L430.9,292.3L433.0,292.4L431.4,293.7L431.9,295.7L430.2,294.5L428.4,295.7L429.0,293.7L427.3,292.4L429.4,292.3zM430.6,289.5L431.4,291.5L433.5,291.6L431.8,292.9L432.4,294.9L430.6,293.7L428.9,294.9L429.4,292.9L427.8,291.6L429.9,291.5zM431.1,288.5L431.9,290.5L434.0,290.6L432.3,291.9L432.9,294.0L431.1,292.8L429.3,294.0L429.9,291.9L428.3,290.6L430.4,290.5zM431.6,287.2L432.3,289.2L434.4,289.3L432.8,290.6L433.3,292.6L431.6,291.5L429.8,292.6L430.4,290.6L428.7,289.3L430.8,289.2zM432.0,285.7L432.8,287.7L434.9,287.8L433.2,289.1L433.8,291.1L432.0,290.0L430.3,291.1L430.8,289.1L429.2,287.8L431.3,287.7zM432.5,284.3L433.2,286.3L435.3,286.4L433.7,287.7L434.2,289.7L432.5,288.6L430.7,289.7L431.3,287.7L429.6,286.4L431.7,286.3zM432.9,283.2L433.7,285.2L435.8,285.3L434.1,286.6L434.7,288.7L432.9,287.5L431.2,288.7L431.7,286.6L430.1,285.3L432.2,285.2zM433.4,282.7L434.1,284.7L436.2,284.8L434.6,286.1L435.1,288.1L433.4,287.0L431.6,288.1L432.2,286.1L430.5,284.8L432.6,284.7zM433.8,282.7L434.5,284.7L436.6,284.8L435.0,286.1L435.6,288.2L433.8,287.0L432.0,288.2L432.6,286.1L430.9,284.8L433.1,284.7zM434.2,283.0L435.0,285.0L437.1,285.0L435.4,286.4L436.0,288.4L434.2,287.2L432.5,288.4L433.0,286.4L431.4,285.0L433.5,285.0zM434.6,283.4L435.4,285.3L437.5,285.4L435.8,286.7L436.4,288.8L434.6,287.6L432.9,288.8L433.4,286.7L431.8,285.4L433.9,285.3zM435.1,283.8L435.8,285.8L437.9,285.9L436.3,287.2L436.8,289.3L435.1,288.1L433.3,289.3L433.9,287.2L432.2,285.9L434.3,285.8zM435.5,284.4L436.2,286.4L438.3,286.5L436.7,287.8L437.2,289.8L435.5,288.7L433.7,289.8L434.3,287.8L432.6,286.5L434.7,286.4zM435.9,285.0L436.6,286.9L438.7,287.0L437.1,288.4L437.7,290.4L435.9,289.2L434.1,290.4L434.7,288.4L433.0,287.0L435.1,286.9zM436.3,285.5L437.0,287.5L439.1,287.6L437.5,288.9L438.1,291.0L436.3,289.8L434.5,291.0L435.1,288.9L433.4,287.6L435.6,287.5zM436.7,286.2L437.4,288.1L439.6,288.2L437.9,289.6L438.5,291.6L436.7,290.4L434.9,291.6L435.5,289.6L433.8,288.2L436.0,288.1zM437.1,286.9L437.8,288.9L439.9,289.0L438.3,290.3L438.9,292.3L437.1,291.1L435.3,292.3L435.9,290.3L434.2,289.0L436.4,288.9zM437.5,287.7L438.2,289.7L440.3,289.8L438.7,291.1L439.3,293.1L437.5,292.0L435.7,293.1L436.3,291.1L434.6,289.8L436.7,289.7zM437.9,288.6L438.6,290.6L440.7,290.6L439.1,292.0L439.6,294.0L437.9,292.8L436.1,294.0L436.7,292.0L435.0,290.6L437.1,290.6zM438.3,289.5L439.0,291.5L441.1,291.6L439.5,292.9L440.0,294.9L438.3,293.8L436.5,294.9L437.1,292.9L435.4,291.6L437.5,291.5zM438.6,290.5L439.4,292.5L441.5,292.6L439.8,293.9L440.4,295.9L438.6,294.7L436.9,295.9L437.4,293.9L435.8,292.6L437.9,292.5zM439.0,291.3L439.8,293.2L441.9,293.3L440.2,294.6L440.8,296.7L439.0,295.5L437.3,296.7L437.8,294.6L436.2,293.3L438.3,293.2z" fill="#1a8a1a"/>
<path d="M261.5,125.4L288.1,134.4L303.6,141.4L314.7,146.4L323.3,150.0L330.3,152.6L336.2,154.6L341.3,156.2L345.8,157.5L349.9,158.5L353.5,159.3L356.9,160.2L359.9,161.0L362.8,161.9L365.4,162.8L367.9,163.8L370.2,164.8L372.4,165.7L374.5,166.7L376.5,167.7L378.3,168.8L380.1,169.8L381.8,170.6L383.5,171.4L385.0,172.0L386.5,172.7L388.0,173.3L389.4,173.8L390.7,174.2L392.0,174.4L393.3,174.5L394.5,174.5L395.7,174.3L396.8,174.1L398.0,173.8L399.0,173.5L400.1,173.2L401.1,173.0L402.1,172.7L403.1,172.6L404.0,172.4L405.0,172.3L405.9,172.1L406.7,172.0L407.6,171.9L408.5,171.7L409.3,171.6L410.1,171.5L410.9,171.5L411.7,171.4L412.4,171.4L413.2,171.4L413.9,171.5L414.6,171.6L415.3,171.8L416.0,172.0L416.7,172.3L417.4,172.6L418.0,173.0L418.7,173.3L419.3,173.7L419.9,174.1L420.5,174.5L421.1,174.9L421.7,175.5L422.3,176.2L422.9,177.0L423.5,177.8L424.0,178.7L424.6,179.6L425.1,180.6L425.7,181.6L426.2,182.6L426.7,183.6L427.2,184.7L427.7,186.0L428.2,187.3L428.7,188.7L429.2,190.0L429.7,191.3L430.2,192.4L430.6,193.5L431.1,194.6L431.6,195.8L432.0,196.9L432.5,197.9L432.9,198.8L433.4,199.6L433.8,200.2L434.2,200.6L434.6,200.9L435.1,201.2L435.5,201.4L435.9,201.6L436.3,201.8L436.7,202.0L437.1,202.2L437.5,202.3L437.9,202.4L438.3,202.5L438.6,202.6L439.0,202.6L439.4,202.6" stroke="#000" stroke-width="2.6" fill="none"/>
<g fill="#000"><circle cx="261.5" cy="125.4" r="2.5"/><circle cx="288.1" cy="134.4" r="2.5"/><circle cx="303.6" cy="141.4" r="2.5"/><circle cx="314.7" cy="146.4" r="2.5"/><circle cx="323.3" cy="150.0" r="2.5"/><circle cx="330.3" cy="152.6" r="2.5"/><circle cx="336.2" cy="154.6" r="2.5"/><circle cx="341.3" cy="156.2" r="2.5"/><circle cx="345.8" cy="157.5" r="2.5"/><circle cx="349.9" cy="158.5" r="2.5"/><circle cx="353.5" cy="159.3" r="2.5"/><circle cx="356.9" cy="160.2" r="2.5"/><circle cx="359.9" cy="161.0" r="2.5"/><circle cx="362.8" cy="161.9" r="2.5"/><circle cx="365.4" cy="162.8" r="2.5"/><circle cx="367.9" cy="163.8" r="2.5"/><circle cx="370.2" cy="164.8" r="2.5"/><circle cx="372.4" cy="165.7" r="2.5"/><circle cx="374.5" cy="166.7" r="2.5"/><circle cx="376.5" cy="167.7" r="2.5"/><circle cx="378.3" cy="168.8" r="2.5"/><circle cx="380.1" cy="169.8" r="2.5"/><circle cx="381.8" cy="170.6" r="2.5"/><circle cx="383.5" cy="171.4" r="2.5"/><circle cx="385.0" cy="172.0" r="2.5"/><circle cx="386.5" cy="172.7" r="2.5"/><circle cx="388.0" cy="173.3" r="2.5"/><circle cx="389.4" cy="173.8" r="2.5"/><circle cx="390.7" cy="174.2" r="2.5"/><circle cx="392.0" cy="174.4" r="2.5"/><circle cx="393.3" cy="174.5" r="2.5"/><circle cx="394.5" cy="174.5" r="2.5"/><circle cx="395.7" cy="174.3" r="2.5"/><circle cx="396.8" cy="174.1" r="2.5"/><circle cx="398.0" cy="173.8" r="2.5"/><circle cx="399.0" cy="173.5" r="2.5"/><circle cx="400.1" cy="173.2" r="2.5"/><circle cx="401.1" cy="173.0" r="2.5"/><circle cx="402.1" cy="172.7" r="2.5"/><circle cx="403.1" cy="172.6" r="2.5"/><circle cx="404.0" cy="172.4" r="2.5"/><circle cx="405.0" cy="172.3" r="2.5"/><circle cx="405.9" cy="172.1" r="2.5"/><circle cx="406.7" cy="172.0" r="2.5"/><circle cx="407.6" cy="171.9" r="2.5"/><circle cx="408.5" cy="171.7" r="2.5"/><circle cx="409.3" cy="171.6" r="2.5"/><circle cx="410.1" cy="171.5" r="2.5"/><circle cx="410.9" cy="171.5" r="2.5"/><circle cx="411.7" cy="171.4" r="2.5"/><circle cx="412.4" cy="171.4" r="2.5"/><circle cx="413.2" cy="171.4" r="2.5"/><circle cx="413.9" cy="171.5" r="2.5"/><circle cx="414.6" cy="171.6" r="2.5"/><circle cx="415.3" cy="171.8" r="2.5"/><circle cx="416.0" cy="172.0" r="2.5"/><circle cx="416.7" cy="172.3" r="2.5"/><circle cx="417.4" cy="172.6" r="2.5"/><circle cx="418.0" cy="173.0" r="2.5"/><circle cx="418.7" cy="173.3" r="2.5"/><circle cx="419.3" cy="173.7" r="2.5"/><circle cx="419.9" cy="174.1" r="2.5"/><circle cx="420.5" cy="174.5" r="2.5"/><circle cx="421.1" cy="174.9" r="2.5"/><circle cx="421.7" cy="175.5" r="2.5"/><circle cx="422.3" cy="176.2" r="2.5"/><circle cx="422.9" cy="177.0" r="2.5"/><circle cx="423.5" cy="177.8" r="2.5"/><circle cx="424.0" cy="178.7" r="2.5"/><circle cx="424.6" cy="179.6" r="2.5"/><circle cx="425.1" cy="180.6" r="2.5"/><circle cx="425.7" cy="181.6" r="2.5"/><circle cx="426.2" cy="182.6" r="2.5"/><circle cx="426.7" cy="183.6" r="2.5"/><circle cx="427.2" cy="184.7" r="2.5"/><circle cx="427.7" cy="186.0" r="2.5"/><circle cx="428.2" cy="187.3" r="2.5"/><circle cx="428.7" cy="188.7" r="2.5"/><circle cx="429.2" cy="190.0" r="2.5"/><circle cx="429.7" cy="191.3" r="2.5"/><circle cx="430.2" cy="192.4" r="2.5"/><circle cx="430.6" cy="193.5" r="2.5"/><circle cx="431.1" cy="194.6" r="2.5"/><circle cx="431.6" cy="195.8" r="2.5"/><circle cx="432.0" cy="196.9" r="2.5"/><circle cx="432.5" cy="197.9" r="2.5"/><circle cx="432.9" cy="198.8" r="2.5"/><circle cx="433.4" cy="199.6" r="2.5"/><circle cx="433.8" cy="200.2" r="2.5"/><circle cx="434.2" cy="200.6" r="2.5"/><circle cx="434.6" cy="200.9" r="2.5"/><circle cx="435.1" cy="201.2" r="2.5"/><circle cx="435.5" cy="201.4" r="2.5"/><circle cx="435.9" cy="201.6" r="2.5"/><circle cx="436.3" cy="201.8" r="2.5"/><circle cx="436.7" cy="202.0" r="2.5"/><circle cx="437.1" cy="202.2" r="2.5"/><circle cx="437.5" cy="202.3" r="2.5"/><circle cx="437.9" cy="202.4" r="2.5"/><circle cx="438.3" cy="202.5" r="2.5"/><circle cx="438.6" cy="202.6" r="2.5"/><circle cx="439.0" cy="202.6" r="2.5"/><circle cx="439.4" cy="202.6" r="2.5"/></g>
</g>
<path d="M133.4,307.0v4.5M133.4,79.6v4.5M160.0,307.0v2.4M160.0,79.6v2.4M175.6,307.0v2.4M175.6,79.6v2.4M186.6,307.0v2.4M186.6,79.6v2.4M195.2,307.0v2.4M195.2,79.6v2.4M202.2,307.0v2.4M202.2,79.6v2.4M208.1,307.0v2.4M208.1,79.6v2.4M213.2,307.0v2.4M213.2,79.6v2.4M217.8,307.0v2.4M217.8,79.6v2.4M221.8,307.0v4.5M221.8,79.6v4.5M248.4,307.0v2.4M248.4,79.6v2.4M264.0,307.0v2.4M264.0,79.6v2.4M275.0,307.0v2.4M275.0,79.6v2.4M283.6,307.0v2.4M283.6,79.6v2.4M290.6,307.0v2.4M290.6,79.6v2.4M296.5,307.0v2.4M296.5,79.6v2.4M301.6,307.0v2.4M301.6,79.6v2.4M306.2,307.0v2.4M306.2,79.6v2.4M310.2,307.0v4.5M310.2,79.6v4.5M336.8,307.0v2.4M336.8,79.6v2.4M352.4,307.0v2.4M352.4,79.6v2.4M363.4,307.0v2.4M363.4,79.6v2.4M372.0,307.0v2.4M372.0,79.6v2.4M379.0,307.0v2.4M379.0,79.6v2.4M384.9,307.0v2.4M384.9,79.6v2.4M390.0,307.0v2.4M390.0,79.6v2.4M394.6,307.0v2.4M394.6,79.6v2.4M398.6,307.0v4.5M398.6,79.6v4.5M425.2,307.0v2.4M425.2,79.6v2.4M440.8,307.0v2.4M440.8,79.6v2.4M133.4,94.8h-4.5M451.6,94.8h-4.5M133.4,183.2h-4.5M451.6,183.2h-4.5M133.4,156.6h-2.4M451.6,156.6h-2.4M133.4,141.0h-2.4M451.6,141.0h-2.4M133.4,130.0h-2.4M451.6,130.0h-2.4M133.4,121.4h-2.4M451.6,121.4h-2.4M133.4,114.4h-2.4M451.6,114.4h-2.4M133.4,108.5h-2.4M451.6,108.5h-2.4M133.4,103.4h-2.4M451.6,103.4h-2.4M133.4,98.8h-2.4M451.6,98.8h-2.4M133.4,271.7h-4.5M451.6,271.7h-4.5M133.4,245.1h-2.4M451.6,245.1h-2.4M133.4,229.5h-2.4M451.6,229.5h-2.4M133.4,218.4h-2.4M451.6,218.4h-2.4M133.4,209.9h-2.4M451.6,209.9h-2.4M133.4,202.9h-2.4M451.6,202.9h-2.4M133.4,197.0h-2.4M451.6,197.0h-2.4M133.4,191.8h-2.4M451.6,191.8h-2.4M133.4,187.3h-2.4M451.6,187.3h-2.4M133.4,306.9h-2.4M451.6,306.9h-2.4M133.4,298.3h-2.4M451.6,298.3h-2.4M133.4,291.3h-2.4M451.6,291.3h-2.4M133.4,285.4h-2.4M451.6,285.4h-2.4M133.4,280.3h-2.4M451.6,280.3h-2.4M133.4,275.7h-2.4M451.6,275.7h-2.4" stroke="#111" stroke-width="0.9" fill="none"/>
<rect x="133.4" y="79.6" width="318.2" height="227.4" fill="none" stroke="#111" stroke-width="1.1"/>
<text x="123" y="99.8" font-size="11.6" text-anchor="end">10<tspan font-size="8.3" dy="-4.6">-11</tspan></text>
<text x="123" y="188.2" font-size="11.6" text-anchor="end">10<tspan font-size="8.3" dy="-4.6">-12</tspan></text>
<text x="123" y="276.7" font-size="11.6" text-anchor="end">10<tspan font-size="8.3" dy="-4.6">-13</tspan></text>
<text x="133.4" y="322.7" font-size="11.6" text-anchor="middle">1</text>
<text x="221.8" y="322.7" font-size="11.6" text-anchor="middle">10</text>
<text x="310.2" y="322.7" font-size="11.6" text-anchor="middle">100</text>
<text x="398.6" y="322.7" font-size="11.6" text-anchor="middle">1000</text>
<text x="292.8" y="338" font-size="13" text-anchor="middle">Integration time (s)</text>
<text transform="translate(95,190.3) rotate(-90)" font-size="13.7" text-anchor="middle">Overlapping Allan standard deviation</text>
<text x="169.9" y="99.7" font-size="11.1">density shift</text>
<text x="169.9" y="127.4" font-size="11.1">temperature (DLS)</text>
<text x="169.9" y="154.7" font-size="11.1">measured frequency</text>
<text x="169.9" y="182.0" font-size="11.1">detection noise</text>
<text x="169.9" y="210.1" font-size="11.1">magnetic field</text>
<text x="169.9" y="237.4" font-size="11.1">maser</text>
<text x="169.9" y="265.5" font-size="11.1">pointing (DLS)</text>
<text x="169.9" y="292.8" font-size="11.1">intensity (DLS)</text>
<path d="M142.2,96.1H166.8" stroke="#e85c5c" stroke-width="1.1" stroke-dasharray="3,2"/><circle cx="154.5" cy="96.1" r="1.5" fill="#fff" stroke="#e85c5c" stroke-width="0.7"/>
<path d="M142.2,123.8H166.8" stroke="#5050e4" stroke-width="1.1" stroke-dasharray="3,2"/><path d="M154.5,122.0l1.6,2.8h-3.2z" fill="#fff" stroke="#5050e4" stroke-width="0.7"/>
<path d="M142.2,151.1H166.8" stroke="#000" stroke-width="2.6"/><circle cx="154.5" cy="151.1" r="2.5"/>
<path d="M142.2,178.4H166.8" stroke="#7d1414" stroke-width="1.2" stroke-dasharray="9,6"/><path d="M153.0,176.9h3v3h-3z" fill="#fff" stroke="#7d1414" stroke-width="0.7"/>
<path d="M142.2,206.5H166.8" stroke="#e81ee8" stroke-width="1.4" stroke-dasharray="9,6"/><path d="M154.5,204.5l1.7,2.9h-3.4z" fill="#e81ee8"/>
<path d="M142.2,233.8H166.8" stroke="#000" stroke-width="1.2"/>
<path d="M142.2,261.9H166.8" stroke="#ff8c1a" stroke-width="1.4" stroke-dasharray="9,6"/><circle cx="154.5" cy="261.9" r="1.9" fill="#ff8c1a"/>
<path d="M142.2,289.2H166.8" stroke="#1a8a1a" stroke-width="1.2" stroke-dasharray="9,6"/><path d="M154.5,286.2L155.2,288.2L157.4,288.3L155.7,289.6L156.3,291.6L154.5,290.5L152.7,291.6L153.3,289.6L151.6,288.3L153.8,288.2z" fill="#1a8a1a"/>
</svg>
<div class="b " style="left:2863.00px;top:360.21px;width:371.00px;font-size:14.20px;line-height:16.60px;--h:16.60px">
<p class="j" id="L246" style="word-spacing:-0.31px">FIG. 4. Stability analysis based on the overlapping Allan standard</p>
<p class="j" id="L247">deviation.&nbsp; The frequency measurement (full black dots) yields</p>
<p class="j" id="L248">a stability of <span class="m">4.6 &times; 10<sup>&minus;12</sup></span> at one shot, corresponding to 2.4 &times;</p>
<p class="j" id="L249">10<sup>&minus;11</sup> at one second.&nbsp; All relevant noise sources are measured</p>
<p class="j" id="L250">independently (see text) and are shown here as frequency noise.</p>
<p class="j" id="L251">The periodic modulation in some of the curves reflects the air-</p>
<p class="e" id="L252">conditioning cycle of 10 minutes.</p>
</div>
<div class="b " style="left:2863.00px;top:513.55px;width:371.00px;font-size:15.80px;line-height:18.24px;--h:18.24px">
<p class="j" id="L253">the population transfer. The data follows a near-white fre-</p>
<p class="j" id="L254">quency noise behavior of <span class="m">2.4 &times; 10<sup>&minus;11</sup><i>&tau;</i><sup>&minus;1/2</sup></span>, equivalent to</p>
<p class="e" id="L255"><span class="m">4.6 &times; 10<sup>&minus;12</sup></span> at one shot.</p>
<p class="j i" id="L256">For our parameters, the quantum projection noise limit</p>
<p class="j" id="L257">is <span class="m">8 &times; 10<sup>&minus;13</sup><i>&tau;</i><sup>&minus;1/2</sup></span>, showing that our measurements are</p>
<p class="j" id="L258">limited by technical noise.&nbsp; Seven relevant noise sources</p>
<p class="j" id="L259">are measured independently and their frequency equiva-</p>
<p class="j" id="L260">lents are plotted in Figure 4: The maser is not limiting our</p>
<p class="j" id="L261" style="word-spacing:-0.07px">measurements as its typical frequency stability shows. The</p>
<p class="j" id="L262">detection noise is 1% at one shot.&nbsp; Both of these effects</p>
<p class="j" id="L263">decrease with a higher duty cycle and may be suppressed</p>
<p class="j" id="L264">substantially by the prolonged interrogation time due to</p>
<p class="j" id="L265" style="word-spacing:-0.88px">SSR. The DLS fluctuates if intensity or pointing of the trap-</p>
<p class="j" id="L266" style="word-spacing:-0.25px">ping beams change, which were measured as <span class="m">6&thinsp;&times;&thinsp;10<sup>&minus;5</sup></span> and</p>
<p class="j" id="L267">0.3 <i>&mu;</i>m at one shot, respectively. The magnetic field con-</p>
<p class="j" id="L268">tribution, determined to be 0.1 mG at one shot with an ex-</p>
<p class="j" id="L269" style="word-spacing:-0.51px">ternal Hall probe, is significant due to the lack of shielding.</p>
<p class="j" id="L270">Figure 4 also shows that the mean field density noise and</p>
<p class="j" id="L271">the DLS noise due to temperature fluctuations are overes-</p>
<p class="j" id="L272">timated due to their imprecise deduction from absorption</p>
<p class="e" id="L273">images.</p>
<p class="j i" id="L274" style="word-spacing:-0.48px">In summary, the effect of SSR was investigated in an op-</p>
<p class="j" id="L275">tically trapped ensemble of <sup>87</sup>Rb. By engineering the spin</p>
<p class="j" id="L276">self-rephasing, we have demonstrated a coherence time</p>
<p class="j" id="L277">of 21 s &ndash; the longest ensemble coherence time reported</p>
<p class="j" id="L278">so far.&nbsp; The shifts and noise contributions to a frequency</p>
<p class="j" id="L279" style="word-spacing:-0.29px">measurement were studied systematically and a stability of</p>
<p class="j" id="L280"><span class="m">2.4 &times; 10<sup>&minus;11</sup><i>&tau;</i><sup>&minus;1/2</sup></span> was reached.&nbsp; For an optimized setup</p>
<p class="j" id="L281">including magnetic field shielding, shallower trapping, a</p>
<p class="j" id="L282">10-fold increase in temperature determination and an in-</p>
<p class="j" id="L283">crease in duty cycle exploiting the full coherence time, we</p>
<p class="j" id="L284">predict an achievable stability of <span class="m">8 &times; 10<sup>&minus;14</sup><i>&tau;</i><sup>&minus;1/2</sup></span>. This ri-</p>
</div>
<div class="b " style="left:3261.30px;top:79.07px;width:370.80px;font-size:15.80px;line-height:18.19px;--h:18.19px">
<p class="j" id="L285">vals the stability range of most atomic fountain clocks [2]</p>
<p class="j" id="L286" style="word-spacing:-0.73px">in a potentially much more compact setup. The proven gen-</p>
<p class="j" id="L287">erality of the giant coherence time due to SSR makes it a</p>
<p class="j" id="L288" style="word-spacing:-0.67px">promising candidate for application in optical lattice clocks</p>
<p class="e" id="L289">and ensemble-based quantum information.</p>
<p class="j i" id="L290" style="margin-top:8.10px">We acknowledge support from the Centre for Quantum</p>
<p class="j" id="L291" style="word-spacing:-0.83px">Engineering and Space-Time Research (QUEST), the Insti-</p>
<p class="j" id="L292" style="word-spacing:-0.54px">tut Francilien de Recherche sur les Atomes Froids (IFRAF)</p>
<p class="j" id="L293">and the Danish National Research Foundation Center for</p>
<p class="e" id="L294">Quantum Optics (QUANTOP).</p>
</div>
<div style="position:absolute;left:3391.8px;top:303.4px;width:109.5px;height:1.2px;background:#000"></div>
<div class="b rf" style="left:3261.30px;top:336.54px;width:370.80px;font-size:14.20px;line-height:16.53px;--h:16.53px;padding-left:30.00px;box-sizing:border-box">
<p class="e" id="L295"><span class="lb"><sup>*</sup></span>kleinebuening@iqo.uni-hannover.de</p>
<p class="j" id="L296"><span class="lb">[1]</span>C. Deutsch, F. Ramirez-Martinez, C. Lacro&ucirc;te, F. Reinhard,</p>
<p class="j" id="L297">T. Schneider, J. N. Fuchs, F. Pi&eacute;chon, F. Lalo&euml;, J. Reichel,</p>
<p class="e" id="L298">and P. Rosenbusch, Phys. Rev. Lett. <b>105</b>, 020401 (2010).</p>
<p class="e" id="L299"><span class="lb">[2]</span>R. Wynands and S. Weyers, Metrologia <b>42</b>, S64 (2005).</p>
<p class="j" id="L300" style="word-spacing:-0.37px"><span class="lb">[3]</span>C. W. Chou, D. B. Hume, J. C. J. Koelemeij, D. J. Wineland,</p>
<p class="e" id="L301">and T. Rosenband, Phys. Rev. Lett. <b>104</b>, 070802 (2010).</p>
<p class="j" id="L302"><span class="lb">[4]</span>A. D. Ludlow, T. Zelevinsky, G. K. Campbell, S. Blatt,</p>
<p class="j" id="L303">M. M. Boyd, M. H. G. de Miranda, M. J. Martin, J. W.</p>
<p class="j" id="L304">Thomsen, S. M. Foreman, J. Ye, T. M. Fortier, J. E. Stal-</p>
<p class="j" id="L305">naker, S. A. Diddams, Y. Le Coq, Z. W. Barber, N. Poli,</p>
<p class="j" id="L306">N. D. Lemke, K. M. Beck, and C. W. Oates, Science <b>319</b>,</p>
<p class="e" id="L307">1805 (2008).</p>
<p class="j" id="L308" style="word-spacing:-0.39px"><span class="lb">[5]</span>Note recent progress in optically trapped Bose-Einstein con-</p>
<p class="j" id="L309" style="word-spacing:-0.36px">densates as reported in P. A. Altin, G. McDonald, D. D&ouml;ring,</p>
<p class="j" id="L310">J. E. Debs, T. Barter, N. P. Robins, J. D. Close, S. A.</p>
<p class="j" id="L311">Haine, T. M. Hanna, and R. P. Anderson, &ldquo;Optically trapped</p>
<p class="j" id="L312">atom interferometry using the clock transition of large <sup>87</sup>Rb</p>
<p class="e" id="L313">Bose-Einstein condensates,&rdquo; (2010), arXiv:1011.4713.</p>
<p class="j" id="L314"><span class="lb">[6]</span>K. Hammerer, A. S. S&oslash;rensen, and E. S. Polzik,</p>
<p class="e" id="L315">Rev. Mod. Phys. <b>82</b>, 1041 (2010).</p>
<p class="j" id="L316"><span class="lb">[7]</span>D. N. Matsukevich, T. Chaneli&egrave;re, S. D. Jenkins, S.-Y. Lan,</p>
<p class="j" id="L317">T. A. B. Kennedy, and A. Kuzmich, Phys. Rev. Lett. <b>97</b>,</p>
<p class="e" id="L318">013601 (2006).</p>
<p class="j" id="L319"><span class="lb">[8]</span>Y. O. Dudin, S. D. Jenkins, R. Zhao, D. N. Matsukevich,</p>
<p class="j" id="L320">A. Kuzmich, and T. A. B. Kennedy, Phys. Rev. Lett. <b>103</b>,</p>
<p class="e" id="L321">020505 (2009).</p>
<p class="j" id="L322"><span class="lb">[9]</span>H. de Riedmatten, J. Laurat, C. W. Chou, E. W. Schomburg,</p>
<p class="j" id="L323">D. Felinto, and H. J. Kimble, Phys. Rev. Lett. <b>97</b>, 113603</p>
<p class="e" id="L324">(2006).</p>
<p class="j" id="L325" style="word-spacing:-0.03px"><span class="lb">[10]</span>C.-W. Chou, J. Laurat, H. Deng, K. S. Choi, H. de Riedmat-</p>
<p class="e" id="L326" style="word-spacing:-0.16px">ten, D. Felinto, and H. J. Kimble, Science <b>316</b>, 1316 (2007).</p>
<p class="j" id="L327"><span class="lb">[11]</span>S. B. Papp, K. S. Choi, H. Deng, P. Lougovski, S. J. van</p>
<p class="e" id="L328">Enk, and H. J. Kimble, Science <b>324</b>, 764 (2009).</p>
<p class="j" id="L329"><span class="lb">[12]</span>B. Zhao, Y.-A. Chen, X.-H. Bao, T. Strassel, C.-S. Chuu,</p>
<p class="j" id="L330">X.-M. Jin, J. Schmiedmayer, Z.-S. Yuan, S. Chen, and J.-W.</p>
<p class="e" id="L331">Pan, Nat Phys <b>5</b>, 95 (2009).</p>
<p class="j" id="L332"><span class="lb">[13]</span>R. Zhao, Y. Dudin, S. Jenkins, C. Campbell, D. Matsuke-</p>
<p class="e" id="L333">vich, T. Kennedy, and A. Kuzmich, Nat Phys <b>5</b>, 100 (2009).</p>
<p class="j" id="L334"><span class="lb">[14]</span>A. Derevianko and H. Katori, &ldquo;Colloquium: Physics of op-</p>
<p class="e" id="L335">tical lattice clocks,&rdquo; (2010), arXiv:1011.4622.</p>
<p class="j" id="L336" style="word-spacing:-0.51px"><span class="lb">[15]</span>H. Katori, M. Takamoto, V. G. Pal&rsquo;chikov, and V. D. Ovsian-</p>
<p class="e" id="L337">nikov, Phys. Rev. Lett. <b>91</b>, 173005 (2003).</p>
<p class="j" id="L338" style="word-spacing:-0.15px"><span class="lb">[16]</span>K. Beloy, A. Derevianko, V. A. Dzuba, and V. V. Flambaum,</p>
<p class="e" id="L339">Phys. Rev. Lett. <b>102</b>, 120801 (2009).</p>
<p class="j" id="L340"><span class="lb">[17]</span>P. Rosenbusch, S. Ghezali, V. A. Dzuba, V. V. Flambaum,</p>
</div>
<div class="t " style="left:4159.20px;width:400px;text-align:right;top:40.59px;font-size:15.80px;line-height:18.96px;">5</div>
<div class="b rf" style="left:3790.00px;top:80.84px;width:371.00px;font-size:14.20px;line-height:16.53px;--h:16.53px;padding-left:30.00px;box-sizing:border-box">
<p class="j" id="L341">K. Beloy, and A. Derevianko, Phys. Rev. A <b>79</b>, 013404</p>
<p class="e" id="L342">(2009).</p>
<p class="e" id="L343"><span class="lb">[18]</span>A. Derevianko, Phys. Rev. Lett. <b>105</b>, 033002 (Jul 2010).</p>
<p class="j" id="L344"><span class="lb">[19]</span>R. Chicireanu, K. D. Nelson, S. Olmschenk, N. Lundblad,</p>
<p class="j" id="L345" style="word-spacing:-0.46px">A. Derevianko, and J. V. Porto, Phys. Rev. Lett. <b>106</b>, 063002</p>
<p class="e" id="L346">(2011).</p>
<p class="j" id="L347"><span class="lb">[20]</span>Y. Sagi, I. Almog, and N. Davidson, Phys. Rev. Lett. <b>105</b>,</p>
<p class="e" id="L348">093001 (2010).</p>
<p class="j" id="L349"><span class="lb">[21]</span>Y. Sagi, I. Almog, and N. Davidson, Phys. Rev. Lett. <b>105</b>,</p>
<p class="e" id="L350">053201 (2010).</p>
<p class="j" id="L351" style="word-spacing:-0.38px"><span class="lb">[22]</span>H. J. Lewandowski, D. M. Harber, D. L. Whitaker, and E. A.</p>
<p class="e" id="L352">Cornell, Phys. Rev. Lett. <b>88</b>, 070403 (2002).</p>
<p class="j" id="L353"><span class="lb">[23]</span>CCTF 2004, Recommendation CCTF-1 2004 concerning</p>
<p class="e" id="L354">secondary representations of the second, 38(2004).</p>
<p class="e" id="L355"><span class="lb">[24]</span>K. Gibble, Phys. Rev. Lett. <b>103</b>, 113202 (2009).</p>
<p class="e" id="L356"><span class="lb">[25]</span>K. Gibble, Physics <b>3</b>, 55 (2010).</p>
<p class="j" id="L357"><span class="lb">[26]</span>J. N. Fuchs, D. M. Gangardt, and F. Lalo&euml;, Phys. Rev. Lett.</p>
</div>
<div class="b rf" style="left:4188.30px;top:80.84px;width:370.80px;font-size:14.20px;line-height:16.53px;--h:16.53px;padding-left:30.00px;box-sizing:border-box">
<p class="e" id="L358"><b>88</b>, 230404 (2002).</p>
<p class="j" id="L359" style="word-spacing:-0.42px"><span class="lb">[27]</span>G. Kleine B&uuml;ning, J. Will, W. Ertmer, C. Klempt, and J. Arlt,</p>
<p class="e" id="L360">Appl. Phys. B <b>100</b>, 117 (2010).</p>
<p class="j" id="L361"><span class="lb">[28]</span>F. Ramirez-Martinez, M. Lours, P. Rosen-</p>
<p class="j" id="L362">busch, F. Reinhard, and J. Reichel,</p>
<p class="j" id="L363">IEEE Trans. Ultrason. Ferroelectr. Freq. Control&nbsp; <b>57</b>, 88</p>
<p class="e" id="L364">(2010).</p>
<p class="j" id="L365"><span class="lb">[29]</span>G. Reinaudi, T. Lahaye, Z. Wang, and D. Gu&eacute;ry-Odelin,</p>
<p class="e" id="L366">Opt. Lett. <b>32</b>, 3143 (2007).</p>
<p class="j" id="L367"><span class="lb">[30]</span>J. Guena, P. Rosenbusch, P. Laurent, M. Abgrall,</p>
<p class="j" id="L368">D. Rovera, G. Santarelli, M. Tobar, S. Bize, and A. Cla-</p>
<p class="j" id="L369">iron,&nbsp; IEEE Trans. Ultrason. Ferroelectr. Freq. Control&nbsp; <b>57</b>,</p>
<p class="e" id="L370">647&nbsp; (2010).</p>
<p class="j" id="L371"><span class="lb">[31]</span>We use a<sub class="a">&uarr;&uarr;</sub> = 94.55 <i>a</i><sub>B</sub>, a<sub class="a">&darr;&darr;</sub> = 100.76 <i>a</i><sub>B</sub> from a coupled</p>
<p class="e" id="L372">channel analysis by E. Tiemann.</p>
<p class="e" id="L373"><span class="lb">[32]</span>A. Derevianko, Priv. Comm. (see also [18]).</p>
<p class="j" id="L374"><span class="lb">[33]</span>D. Howe, D. Allan, and J. Barnes, Proc. 35th Annu. Freq.</p>
<p class="e" id="L375">Contr. Symp., Philadelphia, PA(1981).</p>
</div>
</body></html>
